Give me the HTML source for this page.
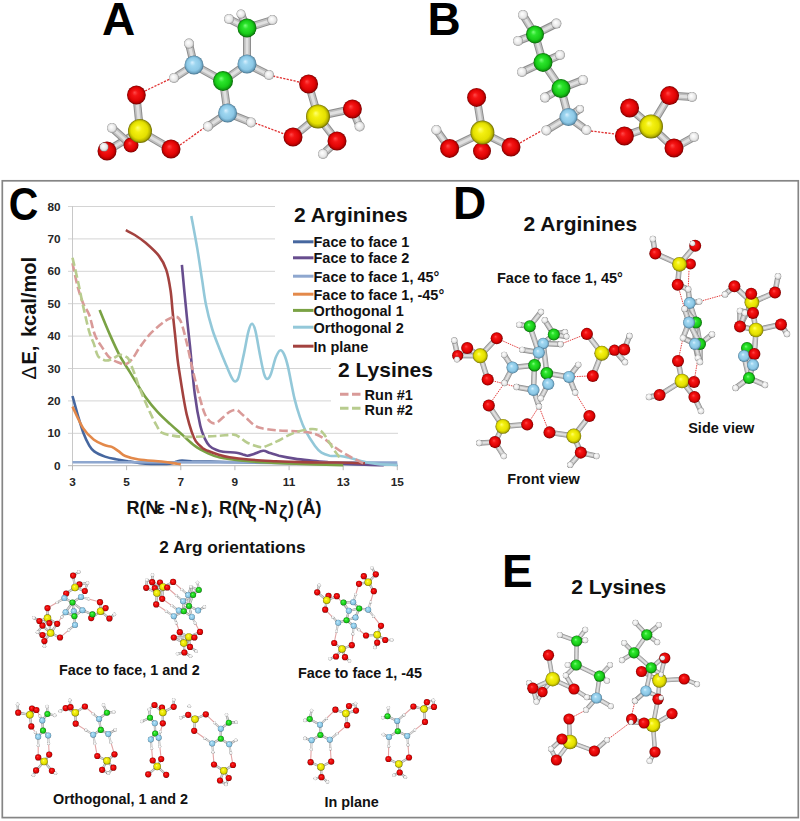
<!DOCTYPE html>
<html><head><meta charset="utf-8"><style>
html,body{margin:0;padding:0;background:#fff;}
body{width:800px;height:821px;overflow:hidden;position:relative;}
svg{position:absolute;left:0;top:0;}
text{font-family:"Liberation Sans",sans-serif;font-weight:bold;fill:#111;}
.big{font-size:46px;fill:#000;}
.h2{font-size:21px;}
.h3{font-size:17.2px;}
.lg{font-size:14.5px;}
.sm{font-size:14.4px;}
.tk{font-size:11.8px;fill:#262626;}
.ax{font-size:18px;}
.ax20{font-size:20px;}
</style></head><body>
<svg width="800" height="821" viewBox="0 0 800 821">
<defs>
<radialGradient id="gO" cx="0.5" cy="0.5" r="0.5" fx="0.4" fy="0.36"><stop offset="0" stop-color="#FF4A4A"/><stop offset="0.3" stop-color="#F41414"/><stop offset="0.7" stop-color="#E00404"/><stop offset="0.87" stop-color="#B80000"/><stop offset="1" stop-color="#6E0000"/></radialGradient>
<radialGradient id="gS" cx="0.5" cy="0.5" r="0.5" fx="0.4" fy="0.36"><stop offset="0" stop-color="#FFFF70"/><stop offset="0.3" stop-color="#F4F010"/><stop offset="0.7" stop-color="#E4E000"/><stop offset="0.87" stop-color="#B8B400"/><stop offset="1" stop-color="#6A6800"/></radialGradient>
<radialGradient id="gN" cx="0.5" cy="0.5" r="0.5" fx="0.4" fy="0.36"><stop offset="0" stop-color="#D8F0FF"/><stop offset="0.3" stop-color="#9ED6F0"/><stop offset="0.7" stop-color="#8CC8E6"/><stop offset="0.87" stop-color="#6EA6C4"/><stop offset="1" stop-color="#44708A"/></radialGradient>
<radialGradient id="gC" cx="0.5" cy="0.5" r="0.5" fx="0.4" fy="0.36"><stop offset="0" stop-color="#7CFF7C"/><stop offset="0.3" stop-color="#2CE42C"/><stop offset="0.7" stop-color="#18CC18"/><stop offset="0.87" stop-color="#10A010"/><stop offset="1" stop-color="#086008"/></radialGradient>
<radialGradient id="gH" cx="0.5" cy="0.5" r="0.5" fx="0.4" fy="0.36"><stop offset="0" stop-color="#FFFFFF"/><stop offset="0.3" stop-color="#F6F6F6"/><stop offset="0.7" stop-color="#E6E6E6"/><stop offset="0.87" stop-color="#C4C4C4"/><stop offset="1" stop-color="#808080"/></radialGradient>
</defs>
<rect x="2.3" y="180.8" width="796" height="636.8" fill="none" stroke="#858585" stroke-width="1.7"/>
<line x1="68.0" y1="433.3" x2="398.0" y2="433.3" stroke="#D4D4D4" stroke-width="1"/>
<line x1="68.0" y1="400.9" x2="331.0" y2="400.9" stroke="#D4D4D4" stroke-width="1"/>
<line x1="68.0" y1="368.5" x2="331.0" y2="368.5" stroke="#D4D4D4" stroke-width="1"/>
<line x1="68.0" y1="336.1" x2="276.0" y2="336.1" stroke="#D4D4D4" stroke-width="1"/>
<line x1="68.0" y1="303.7" x2="276.0" y2="303.7" stroke="#D4D4D4" stroke-width="1"/>
<line x1="68.0" y1="271.3" x2="276.0" y2="271.3" stroke="#D4D4D4" stroke-width="1"/>
<line x1="68.0" y1="238.9" x2="276.0" y2="238.9" stroke="#D4D4D4" stroke-width="1"/>
<line x1="68.0" y1="206.5" x2="276.0" y2="206.5" stroke="#D4D4D4" stroke-width="1"/>
<line x1="72.5" y1="206" x2="72.5" y2="465.7" stroke="#C8C8C8" stroke-width="1"/>
<line x1="68.0" y1="465.7" x2="398" y2="465.7" stroke="#B8B8B8" stroke-width="1"/>
<line x1="72.5" y1="465.7" x2="72.5" y2="470.2" stroke="#B8B8B8" stroke-width="1"/>
<line x1="126.6" y1="465.7" x2="126.6" y2="470.2" stroke="#B8B8B8" stroke-width="1"/>
<line x1="180.8" y1="465.7" x2="180.8" y2="470.2" stroke="#B8B8B8" stroke-width="1"/>
<line x1="234.9" y1="465.7" x2="234.9" y2="470.2" stroke="#B8B8B8" stroke-width="1"/>
<line x1="289.1" y1="465.7" x2="289.1" y2="470.2" stroke="#B8B8B8" stroke-width="1"/>
<line x1="343.2" y1="465.7" x2="343.2" y2="470.2" stroke="#B8B8B8" stroke-width="1"/>
<line x1="397.3" y1="465.7" x2="397.3" y2="470.2" stroke="#B8B8B8" stroke-width="1"/>
<path d="M72.5 396.0C73.4 399.3 76.1 409.4 77.9 415.5C79.7 421.6 81.4 427.6 83.3 432.7C85.2 437.7 87.5 442.5 89.3 445.6C91.1 448.7 91.5 449.6 94.2 451.4C96.8 453.3 101.4 455.3 105.0 456.6C108.6 457.9 112.0 458.5 115.8 459.2C119.6 460.0 123.9 460.5 128.0 461.2C132.1 461.8 136.3 462.6 140.2 463.1C144.0 463.6 146.0 463.8 151.0 463.9C156.0 464.0 165.7 464.2 170.0 463.8C174.2 463.4 174.7 462.0 176.7 461.5C178.7 460.9 179.7 460.6 182.1 460.5C184.6 460.5 185.5 460.9 191.6 461.2C197.7 461.4 209.2 461.6 218.7 461.8C228.2 462.0 236.7 462.2 248.5 462.5C260.2 462.7 275.5 462.9 289.1 463.1C302.6 463.3 316.1 463.5 329.7 463.8C343.2 464.0 359.0 464.2 370.3 464.4C381.5 464.6 392.8 464.7 397.3 464.7" fill="none" stroke="#46679F" stroke-width="2.6" stroke-linejoin="round"/>
<path d="M181.9 264.8C182.6 272.4 184.8 296.6 186.2 310.2C187.5 323.7 188.5 332.1 190.0 346.1C191.4 360.2 193.1 381.5 194.9 394.7C196.6 408.0 198.6 418.4 200.3 425.8C202.0 433.2 203.6 435.8 205.1 439.1C206.7 442.5 207.7 444.2 209.5 445.9C211.3 447.7 213.7 448.9 216.0 449.8C218.2 450.8 219.6 451.3 223.0 451.8C226.4 452.3 233.2 452.3 236.5 452.7C239.9 453.2 241.2 453.9 243.0 454.4C244.8 454.8 245.6 455.7 247.4 455.7C249.2 455.6 251.3 454.8 253.9 454.0C256.5 453.2 260.4 451.0 263.1 450.8C265.8 450.6 267.4 452.3 270.1 453.1C272.8 453.9 275.0 454.7 279.0 455.7C283.1 456.6 289.2 457.8 294.5 458.6C299.8 459.4 304.9 459.9 310.7 460.5C316.6 461.2 324.0 461.9 329.7 462.5C335.3 463.0 338.7 463.4 344.6 463.8C350.4 464.1 358.3 464.5 364.9 464.7C371.4 465.0 380.6 465.1 383.8 465.2" fill="none" stroke="#674D8E" stroke-width="2.6" stroke-linejoin="round"/>
<path d="M72.5 462.3L397.3 462.5" fill="none" stroke="#8EA7CF" stroke-width="2.6" stroke-linejoin="round"/>
<path d="M72.5 406.7C74.3 410.3 79.5 422.6 83.1 428.1C86.6 433.6 90.2 436.9 93.9 439.8C97.5 442.6 102.0 444.1 105.0 445.3C108.0 446.5 109.5 445.9 111.8 446.9C114.0 447.9 116.3 449.6 118.5 451.1C120.8 452.6 121.9 454.6 125.3 456.0C128.7 457.4 132.8 458.6 138.8 459.5C144.9 460.5 155.2 460.8 161.6 461.5C168.0 462.2 174.1 463.3 177.3 463.8C180.5 464.2 180.2 464.3 180.8 464.4" fill="none" stroke="#E3894A" stroke-width="2.6" stroke-linejoin="round"/>
<path d="M99.6 309.9C101.3 314.1 106.7 327.5 110.1 335.1C113.5 342.8 116.6 349.7 119.9 355.9C123.2 362.0 127.4 368.0 129.9 372.1C132.4 376.2 132.5 376.4 135.0 380.5C137.6 384.5 141.3 391.1 145.0 396.4C148.8 401.6 153.3 407.3 157.5 411.9C161.7 416.5 165.8 420.1 170.0 423.9C174.1 427.7 178.3 431.2 182.4 434.9C186.6 438.6 190.7 442.9 194.9 445.9C199.1 449.0 203.4 451.1 207.6 453.1C211.8 455.0 214.6 456.4 220.0 457.6C225.5 458.8 233.3 459.8 240.3 460.5C247.3 461.3 253.9 461.6 262.0 462.1C270.1 462.6 280.0 463.1 289.1 463.4C298.1 463.8 307.1 464.1 316.1 464.4C325.2 464.7 338.7 464.9 343.2 465.1" fill="none" stroke="#7AA244" stroke-width="2.6" stroke-linejoin="round"/>
<path d="M191.3 215.9C192.3 221.3 195.5 237.9 197.3 248.6C199.1 259.4 200.7 271.0 202.2 280.4C203.6 289.7 204.3 296.6 206.0 304.7C207.6 312.8 209.9 321.6 212.2 329.0C214.4 336.3 217.1 342.5 219.5 348.7C221.9 355.0 224.8 361.8 226.8 366.6C228.8 371.4 230.3 375.1 231.7 377.6C233.1 380.1 234.0 381.6 235.2 381.5C236.4 381.4 237.3 381.5 238.7 376.9C240.2 372.3 242.2 361.5 243.9 353.9C245.5 346.3 247.1 336.3 248.5 331.2C249.8 326.2 250.8 323.8 252.0 323.8C253.1 323.8 254.1 325.9 255.5 331.2C256.8 336.5 258.7 348.4 260.1 355.5C261.5 362.7 262.9 370.4 264.2 374.3C265.4 378.2 266.3 378.9 267.4 378.9C268.5 378.8 269.6 377.5 270.9 374.0C272.3 370.6 274.0 362.1 275.5 358.1C277.1 354.2 278.7 350.9 280.1 350.4C281.6 349.8 282.9 351.8 284.2 354.6C285.5 357.3 286.3 359.5 288.0 366.9C289.7 374.2 292.5 390.3 294.5 398.6C296.5 407.0 298.1 411.8 299.9 417.1C301.7 422.4 302.8 425.6 305.3 430.4C307.8 435.2 312.3 442.2 315.0 445.9C317.8 449.7 319.1 451.1 321.5 452.7C324.0 454.4 326.6 455.1 329.7 455.7C332.7 456.2 336.8 455.7 340.0 456.0C343.1 456.3 346.0 457.0 348.6 457.6C351.2 458.2 352.5 458.7 355.7 459.5C358.8 460.4 363.8 461.7 367.6 462.5C371.4 463.2 373.4 463.6 378.4 464.1C383.4 464.5 394.2 464.9 397.3 465.1" fill="none" stroke="#93C8D9" stroke-width="2.6" stroke-linejoin="round"/>
<path d="M125.8 230.2C127.3 231.0 131.5 232.9 134.8 235.0C138.1 237.1 141.5 239.3 145.6 242.8C149.6 246.3 155.7 251.6 159.1 256.1C162.6 260.6 164.3 264.0 166.2 269.7C168.1 275.3 169.4 283.0 170.5 290.1C171.6 297.2 171.9 304.9 172.7 312.4C173.4 320.0 174.3 327.4 175.1 335.1C175.9 342.8 176.7 352.0 177.5 358.8C178.3 365.6 179.0 369.5 180.0 376.0C181.0 382.4 182.4 391.2 183.5 397.7C184.6 404.1 185.4 408.8 186.7 414.5C188.1 420.2 190.1 427.2 191.6 431.7C193.1 436.2 194.1 438.7 195.9 441.4C197.7 444.1 200.6 446.4 202.4 447.9C204.3 449.4 204.3 449.3 207.0 450.5C209.7 451.6 214.9 453.5 218.7 454.7C222.4 455.8 224.5 456.5 229.5 457.3C234.5 458.1 240.8 458.9 248.5 459.5C256.1 460.2 266.5 460.7 275.5 461.2C284.5 461.6 293.6 461.9 302.6 462.1C311.6 462.4 321.5 462.4 329.7 462.5C337.8 462.6 345.5 462.6 351.3 462.8C357.2 462.9 362.6 463.3 364.9 463.4" fill="none" stroke="#A3423F" stroke-width="2.6" stroke-linejoin="round"/>
<path d="M72.5 263.2C73.4 267.2 76.1 280.8 77.9 287.5C79.7 294.2 81.4 299.1 83.3 303.7C85.2 308.3 87.3 309.8 89.3 315.0C91.2 320.3 92.8 329.8 95.0 335.1C97.1 340.5 99.5 343.3 102.0 347.1C104.5 350.9 107.1 355.5 110.1 358.1C113.1 360.8 117.4 361.9 119.9 363.0C122.4 364.1 123.0 365.3 125.0 364.6C127.0 364.0 129.6 362.0 132.1 359.1C134.5 356.2 136.9 351.3 139.9 347.1C142.9 343.0 146.6 337.8 149.9 334.2C153.3 330.5 157.1 327.5 159.9 325.1C162.8 322.7 164.4 321.3 167.0 319.9C169.5 318.5 173.1 316.4 175.4 316.7C177.7 316.9 178.9 317.2 180.8 321.5C182.7 325.8 184.9 335.3 186.7 342.6C188.5 349.9 190.1 358.5 191.6 365.3C193.1 372.0 194.4 376.9 195.9 383.1C197.5 389.3 199.5 397.3 201.1 402.5C202.6 407.8 203.6 411.3 205.1 414.5C206.7 417.7 208.7 420.6 210.6 422.0C212.4 423.4 214.0 423.9 216.2 422.9C218.5 422.0 221.9 418.3 224.1 416.5C226.3 414.6 227.5 413.0 229.5 411.9C231.5 410.8 234.2 409.6 236.3 410.0C238.3 410.3 239.8 412.3 241.7 413.9C243.5 415.4 245.3 417.2 247.4 419.0C249.4 420.9 251.6 423.4 253.9 424.9C256.1 426.4 257.1 427.2 260.9 428.1C264.7 429.0 270.5 429.8 276.9 430.4C283.3 430.9 293.0 430.8 299.3 431.4C305.7 431.9 310.9 432.7 315.0 433.9C319.2 435.2 321.2 436.8 324.3 438.8C327.3 440.8 330.0 443.6 333.2 445.9C336.3 448.3 340.2 450.9 343.2 452.7C346.2 454.6 348.5 455.8 351.3 457.3C354.2 458.8 358.2 460.8 360.3 461.8C362.3 462.8 363.0 462.9 363.5 463.1" fill="none" stroke="#D99A98" stroke-width="2.6" stroke-linejoin="round" stroke-dasharray="8.5 3.5"/>
<path d="M72.5 257.7C73.4 261.6 76.1 272.8 77.9 281.0C79.7 289.2 81.4 298.5 83.3 306.9C85.2 315.4 87.5 325.7 89.3 331.9C91.0 338.0 92.4 339.9 93.9 343.9C95.3 347.9 96.1 353.1 97.9 355.9C99.8 358.6 102.6 359.9 105.0 360.4C107.3 360.9 109.5 360.0 112.0 359.1C114.5 358.2 117.4 355.2 119.9 354.9C122.4 354.6 125.2 356.0 126.9 357.2C128.6 358.3 128.9 359.9 129.9 362.0C130.9 364.2 132.1 367.4 133.1 370.1C134.2 372.8 135.1 375.3 136.1 378.2C137.2 381.1 137.8 383.6 139.4 387.6C140.9 391.7 143.6 398.0 145.6 402.5C147.5 407.0 149.2 410.7 151.0 414.5C152.8 418.3 154.6 422.2 156.4 425.2C158.2 428.2 159.1 430.9 161.8 432.7C164.5 434.4 168.9 434.9 172.7 435.6C176.4 436.3 179.6 436.7 184.6 436.9C189.5 437.0 196.8 436.7 202.4 436.5C208.1 436.4 213.2 436.2 218.4 435.9C223.6 435.6 230.2 434.3 233.8 434.6C237.5 434.9 238.1 436.5 240.3 437.8C242.6 439.2 243.9 441.1 247.4 442.7C250.8 444.3 257.6 446.7 260.9 447.2C264.2 447.7 264.7 446.6 267.4 445.6C270.1 444.6 272.4 443.6 276.9 441.4C281.4 439.2 288.8 434.7 294.5 432.7C300.1 430.6 306.5 429.5 310.7 429.1C314.9 428.7 317.4 429.5 319.6 430.4C321.9 431.3 322.8 432.8 324.3 434.6C325.7 436.4 327.0 438.9 328.6 441.4C330.2 443.9 332.2 447.2 333.7 449.5C335.3 451.8 336.7 453.4 337.8 455.0C338.9 456.6 340.0 458.5 340.5 459.2" fill="none" stroke="#B8CC8E" stroke-width="2.6" stroke-linejoin="round" stroke-dasharray="8.5 3.5"/>
<text x="60.5" y="469.7" text-anchor="end" class="tk">0</text>
<text x="60.5" y="437.3" text-anchor="end" class="tk">10</text>
<text x="60.5" y="404.9" text-anchor="end" class="tk">20</text>
<text x="60.5" y="372.5" text-anchor="end" class="tk">30</text>
<text x="60.5" y="340.1" text-anchor="end" class="tk">40</text>
<text x="60.5" y="307.7" text-anchor="end" class="tk">50</text>
<text x="60.5" y="275.3" text-anchor="end" class="tk">60</text>
<text x="60.5" y="242.9" text-anchor="end" class="tk">70</text>
<text x="60.5" y="210.5" text-anchor="end" class="tk">80</text>
<text x="72.5" y="486" text-anchor="middle" class="tk">3</text>
<text x="126.6" y="486" text-anchor="middle" class="tk">5</text>
<text x="180.8" y="486" text-anchor="middle" class="tk">7</text>
<text x="234.9" y="486" text-anchor="middle" class="tk">9</text>
<text x="289.1" y="486" text-anchor="middle" class="tk">11</text>
<text x="343.2" y="486" text-anchor="middle" class="tk">13</text>
<text x="397.3" y="486" text-anchor="middle" class="tk">15</text>
<rect x="275" y="195" width="140" height="146" fill="#fff"/>
<rect x="331" y="355" width="90" height="60" fill="#fff"/>
<text x="294" y="222" class="h2">2 Arginines</text>
<line x1="293" y1="241.8" x2="313.5" y2="241.8" stroke="#46679F" stroke-width="3"/>
<text x="313.5" y="247.1" class="lg">Face to face 1</text>
<line x1="293" y1="257.8" x2="313.5" y2="257.8" stroke="#674D8E" stroke-width="3"/>
<text x="313.5" y="263.1" class="lg">Face to face 2</text>
<line x1="293" y1="276.2" x2="313.5" y2="276.2" stroke="#8EA7CF" stroke-width="3"/>
<text x="313.5" y="281.5" class="lg">Face to face 1, 45°</text>
<line x1="293" y1="294.2" x2="313.5" y2="294.2" stroke="#E3894A" stroke-width="3"/>
<text x="313.5" y="299.5" class="lg">Face to face 1, -45°</text>
<line x1="293" y1="310.4" x2="313.5" y2="310.4" stroke="#7AA244" stroke-width="3"/>
<text x="313.5" y="315.7" class="lg">Orthogonal 1</text>
<line x1="293" y1="327.2" x2="313.5" y2="327.2" stroke="#93C8D9" stroke-width="3"/>
<text x="313.5" y="332.5" class="lg">Orthogonal 2</text>
<line x1="293" y1="346.2" x2="313.5" y2="346.2" stroke="#A3423F" stroke-width="3"/>
<text x="313.5" y="351.5" class="lg">In plane</text>
<text x="338" y="376.7" class="h2">2 Lysines</text>
<line x1="340" y1="394.3" x2="361" y2="394.3" stroke="#D99A98" stroke-width="3" stroke-dasharray="8.5 3.5"/>
<text x="364.6" y="399.5" class="lg">Run #1</text>
<line x1="340" y1="408.2" x2="361" y2="408.2" stroke="#B8CC8E" stroke-width="3" stroke-dasharray="8.5 3.5"/>
<text x="364.6" y="414.8" class="lg">Run #2</text>
<text x="102" y="34.5" class="big">A</text>
<text x="427.5" y="34.5" class="big">B</text>
<text transform="translate(10.5,219.5) scale(0.89,1)" x="-2" y="0" class="big">C</text>
<text x="453" y="218.7" class="big">D</text>
<text x="502" y="587" class="big">E</text>
<text transform="translate(36.4,379) rotate(-90)" class="ax20"><tspan x="-0.5" font-weight="normal">Δ</tspan><tspan x="14.5">E,</tspan><tspan x="42">kcal/mol</tspan></text>
<text x="126.6" y="513.6" class="ax">R(N</text>
<text x="156.3" y="513.6" class="ax" font-family="Liberation Serif" font-weight="normal" font-size="17">ε</text>
<text x="169.5" y="513.6" class="ax">-N</text>
<text x="190.8" y="513.6" class="ax" font-family="Liberation Serif" font-weight="normal" font-size="17">ε</text>
<text x="201.5" y="513.6" class="ax">),</text>
<text x="219" y="513.6" class="ax">R(N</text>
<text x="248" y="517.5" class="ax" font-family="Liberation Serif" font-weight="normal" font-size="18">ζ</text>
<text x="258.5" y="513.6" class="ax">-N</text>
<text x="279" y="517.5" class="ax" font-family="Liberation Serif" font-weight="normal" font-size="18">ζ</text>
<text x="288" y="513.6" class="ax">)</text>
<text x="296.5" y="513.6" class="ax">(Å)</text>
<text x="523.6" y="230.5" class="h2">2 Arginines</text>
<text x="497" y="283" class="lg">Face to face 1, 45°</text>
<text x="507.3" y="484.2" class="lg">Front view</text>
<text x="688.2" y="432.8" class="lg">Side view</text>
<text x="159.2" y="552.6" class="h3">2 Arg orientations</text>
<text x="59" y="675" class="sm">Face to face, 1 and 2</text>
<text x="298" y="678.4" class="sm">Face to face 1, -45</text>
<text x="53" y="804.4" class="sm">Orthogonal, 1 and 2</text>
<text x="324.4" y="807.2" class="sm">In plane</text>
<text x="571.2" y="593.8" class="h2">2 Lysines</text>
<line x1="145.0" y1="91.0" x2="170.0" y2="79.0" stroke="#E03030" stroke-width="1.30" stroke-dasharray="2.2 1.3"/>
<line x1="180.0" y1="145.0" x2="204.0" y2="128.0" stroke="#E03030" stroke-width="1.30" stroke-dasharray="2.2 1.3"/>
<line x1="273.0" y1="76.0" x2="299.0" y2="82.0" stroke="#E03030" stroke-width="1.30" stroke-dasharray="2.2 1.3"/>
<line x1="255.0" y1="123.0" x2="284.0" y2="134.0" stroke="#E03030" stroke-width="1.30" stroke-dasharray="2.2 1.3"/>
<line x1="131.0" y1="145.0" x2="140.0" y2="131.0" stroke="#8C8C8C" stroke-width="8.00"/>
<line x1="131.0" y1="145.0" x2="140.0" y2="131.0" stroke="#BEBEBE" stroke-width="6.08"/>
<line x1="131.0" y1="145.0" x2="140.0" y2="131.0" stroke="#E0E0E0" stroke-width="2.88"/>
<line x1="140.0" y1="131.0" x2="136.4" y2="95.0" stroke="#8C8C8C" stroke-width="8.00"/>
<line x1="140.0" y1="131.0" x2="136.4" y2="95.0" stroke="#BEBEBE" stroke-width="6.08"/>
<line x1="140.0" y1="131.0" x2="136.4" y2="95.0" stroke="#E0E0E0" stroke-width="2.88"/>
<line x1="140.0" y1="131.0" x2="171.0" y2="149.0" stroke="#8C8C8C" stroke-width="8.00"/>
<line x1="140.0" y1="131.0" x2="171.0" y2="149.0" stroke="#BEBEBE" stroke-width="6.08"/>
<line x1="140.0" y1="131.0" x2="171.0" y2="149.0" stroke="#E0E0E0" stroke-width="2.88"/>
<line x1="140.0" y1="131.0" x2="107.0" y2="151.0" stroke="#8C8C8C" stroke-width="8.00"/>
<line x1="140.0" y1="131.0" x2="107.0" y2="151.0" stroke="#BEBEBE" stroke-width="6.08"/>
<line x1="140.0" y1="131.0" x2="107.0" y2="151.0" stroke="#E0E0E0" stroke-width="2.88"/>
<line x1="107.0" y1="151.0" x2="104.0" y2="147.0" stroke="#8C8C8C" stroke-width="8.00"/>
<line x1="107.0" y1="151.0" x2="104.0" y2="147.0" stroke="#BEBEBE" stroke-width="6.08"/>
<line x1="107.0" y1="151.0" x2="104.0" y2="147.0" stroke="#E0E0E0" stroke-width="2.88"/>
<line x1="241.0" y1="14.0" x2="247.0" y2="28.0" stroke="#8C8C8C" stroke-width="8.00"/>
<line x1="241.0" y1="14.0" x2="247.0" y2="28.0" stroke="#BEBEBE" stroke-width="6.08"/>
<line x1="241.0" y1="14.0" x2="247.0" y2="28.0" stroke="#E0E0E0" stroke-width="2.88"/>
<line x1="229.0" y1="19.0" x2="247.0" y2="28.0" stroke="#8C8C8C" stroke-width="8.00"/>
<line x1="229.0" y1="19.0" x2="247.0" y2="28.0" stroke="#BEBEBE" stroke-width="6.08"/>
<line x1="229.0" y1="19.0" x2="247.0" y2="28.0" stroke="#E0E0E0" stroke-width="2.88"/>
<line x1="272.4" y1="20.0" x2="247.0" y2="28.0" stroke="#8C8C8C" stroke-width="8.00"/>
<line x1="272.4" y1="20.0" x2="247.0" y2="28.0" stroke="#BEBEBE" stroke-width="6.08"/>
<line x1="272.4" y1="20.0" x2="247.0" y2="28.0" stroke="#E0E0E0" stroke-width="2.88"/>
<line x1="247.0" y1="28.0" x2="247.0" y2="64.0" stroke="#8C8C8C" stroke-width="8.00"/>
<line x1="247.0" y1="28.0" x2="247.0" y2="64.0" stroke="#BEBEBE" stroke-width="6.08"/>
<line x1="247.0" y1="28.0" x2="247.0" y2="64.0" stroke="#E0E0E0" stroke-width="2.88"/>
<line x1="247.0" y1="64.0" x2="269.0" y2="75.0" stroke="#8C8C8C" stroke-width="8.00"/>
<line x1="247.0" y1="64.0" x2="269.0" y2="75.0" stroke="#BEBEBE" stroke-width="6.08"/>
<line x1="247.0" y1="64.0" x2="269.0" y2="75.0" stroke="#E0E0E0" stroke-width="2.88"/>
<line x1="247.0" y1="64.0" x2="223.0" y2="81.0" stroke="#8C8C8C" stroke-width="8.00"/>
<line x1="247.0" y1="64.0" x2="223.0" y2="81.0" stroke="#BEBEBE" stroke-width="6.08"/>
<line x1="247.0" y1="64.0" x2="223.0" y2="81.0" stroke="#E0E0E0" stroke-width="2.88"/>
<line x1="189.0" y1="43.6" x2="194.0" y2="65.0" stroke="#8C8C8C" stroke-width="8.00"/>
<line x1="189.0" y1="43.6" x2="194.0" y2="65.0" stroke="#BEBEBE" stroke-width="6.08"/>
<line x1="189.0" y1="43.6" x2="194.0" y2="65.0" stroke="#E0E0E0" stroke-width="2.88"/>
<line x1="194.0" y1="65.0" x2="174.0" y2="78.0" stroke="#8C8C8C" stroke-width="8.00"/>
<line x1="194.0" y1="65.0" x2="174.0" y2="78.0" stroke="#BEBEBE" stroke-width="6.08"/>
<line x1="194.0" y1="65.0" x2="174.0" y2="78.0" stroke="#E0E0E0" stroke-width="2.88"/>
<line x1="194.0" y1="65.0" x2="223.0" y2="81.0" stroke="#8C8C8C" stroke-width="8.00"/>
<line x1="194.0" y1="65.0" x2="223.0" y2="81.0" stroke="#BEBEBE" stroke-width="6.08"/>
<line x1="194.0" y1="65.0" x2="223.0" y2="81.0" stroke="#E0E0E0" stroke-width="2.88"/>
<line x1="223.0" y1="81.0" x2="227.6" y2="113.0" stroke="#8C8C8C" stroke-width="8.00"/>
<line x1="223.0" y1="81.0" x2="227.6" y2="113.0" stroke="#BEBEBE" stroke-width="6.08"/>
<line x1="223.0" y1="81.0" x2="227.6" y2="113.0" stroke="#E0E0E0" stroke-width="2.88"/>
<line x1="227.6" y1="113.0" x2="208.0" y2="126.4" stroke="#8C8C8C" stroke-width="8.00"/>
<line x1="227.6" y1="113.0" x2="208.0" y2="126.4" stroke="#BEBEBE" stroke-width="6.08"/>
<line x1="227.6" y1="113.0" x2="208.0" y2="126.4" stroke="#E0E0E0" stroke-width="2.88"/>
<line x1="227.6" y1="113.0" x2="251.0" y2="122.4" stroke="#8C8C8C" stroke-width="8.00"/>
<line x1="227.6" y1="113.0" x2="251.0" y2="122.4" stroke="#BEBEBE" stroke-width="6.08"/>
<line x1="227.6" y1="113.0" x2="251.0" y2="122.4" stroke="#E0E0E0" stroke-width="2.88"/>
<line x1="308.6" y1="84.0" x2="318.0" y2="116.4" stroke="#8C8C8C" stroke-width="8.00"/>
<line x1="308.6" y1="84.0" x2="318.0" y2="116.4" stroke="#BEBEBE" stroke-width="6.08"/>
<line x1="308.6" y1="84.0" x2="318.0" y2="116.4" stroke="#E0E0E0" stroke-width="2.88"/>
<line x1="318.0" y1="116.4" x2="352.4" y2="109.0" stroke="#8C8C8C" stroke-width="8.00"/>
<line x1="318.0" y1="116.4" x2="352.4" y2="109.0" stroke="#BEBEBE" stroke-width="6.08"/>
<line x1="318.0" y1="116.4" x2="352.4" y2="109.0" stroke="#E0E0E0" stroke-width="2.88"/>
<line x1="318.0" y1="116.4" x2="293.0" y2="137.0" stroke="#8C8C8C" stroke-width="8.00"/>
<line x1="318.0" y1="116.4" x2="293.0" y2="137.0" stroke="#BEBEBE" stroke-width="6.08"/>
<line x1="318.0" y1="116.4" x2="293.0" y2="137.0" stroke="#E0E0E0" stroke-width="2.88"/>
<line x1="318.0" y1="116.4" x2="337.0" y2="141.0" stroke="#8C8C8C" stroke-width="8.00"/>
<line x1="318.0" y1="116.4" x2="337.0" y2="141.0" stroke="#BEBEBE" stroke-width="6.08"/>
<line x1="318.0" y1="116.4" x2="337.0" y2="141.0" stroke="#E0E0E0" stroke-width="2.88"/>
<line x1="352.4" y1="109.0" x2="359.6" y2="126.4" stroke="#8C8C8C" stroke-width="8.00"/>
<line x1="352.4" y1="109.0" x2="359.6" y2="126.4" stroke="#BEBEBE" stroke-width="6.08"/>
<line x1="352.4" y1="109.0" x2="359.6" y2="126.4" stroke="#E0E0E0" stroke-width="2.88"/>
<line x1="337.0" y1="141.0" x2="323.0" y2="154.0" stroke="#8C8C8C" stroke-width="8.00"/>
<line x1="337.0" y1="141.0" x2="323.0" y2="154.0" stroke="#BEBEBE" stroke-width="6.08"/>
<line x1="337.0" y1="141.0" x2="323.0" y2="154.0" stroke="#E0E0E0" stroke-width="2.88"/>
<line x1="131.0" y1="145.0" x2="112.0" y2="128.0" stroke="#8C8C8C" stroke-width="8.00"/>
<line x1="131.0" y1="145.0" x2="112.0" y2="128.0" stroke="#BEBEBE" stroke-width="6.08"/>
<line x1="131.0" y1="145.0" x2="112.0" y2="128.0" stroke="#E0E0E0" stroke-width="2.88"/>
<circle cx="131.0" cy="145.0" r="7.50" fill="url(#gO)"/>
<circle cx="112.0" cy="128.0" r="5.00" fill="url(#gH)"/>
<circle cx="140.0" cy="131.0" r="12.00" fill="url(#gS)"/>
<circle cx="136.4" cy="95.0" r="9.40" fill="url(#gO)"/>
<circle cx="171.0" cy="149.0" r="9.50" fill="url(#gO)"/>
<circle cx="107.0" cy="151.0" r="9.50" fill="url(#gO)"/>
<circle cx="104.0" cy="147.0" r="4.50" fill="url(#gH)"/>
<circle cx="241.0" cy="14.0" r="4.50" fill="url(#gH)"/>
<circle cx="229.0" cy="19.0" r="5.00" fill="url(#gH)"/>
<circle cx="272.4" cy="20.0" r="5.00" fill="url(#gH)"/>
<circle cx="247.0" cy="28.0" r="9.50" fill="url(#gC)"/>
<circle cx="247.0" cy="64.0" r="9.50" fill="url(#gN)"/>
<circle cx="269.0" cy="75.0" r="5.00" fill="url(#gH)"/>
<circle cx="189.0" cy="43.6" r="5.00" fill="url(#gH)"/>
<circle cx="194.0" cy="65.0" r="9.50" fill="url(#gN)"/>
<circle cx="174.0" cy="78.0" r="5.00" fill="url(#gH)"/>
<circle cx="223.0" cy="81.0" r="10.00" fill="url(#gC)"/>
<circle cx="227.6" cy="113.0" r="9.50" fill="url(#gN)"/>
<circle cx="208.0" cy="126.4" r="5.00" fill="url(#gH)"/>
<circle cx="251.0" cy="122.4" r="5.00" fill="url(#gH)"/>
<circle cx="308.6" cy="84.0" r="9.50" fill="url(#gO)"/>
<circle cx="318.0" cy="116.4" r="12.00" fill="url(#gS)"/>
<circle cx="352.4" cy="109.0" r="9.50" fill="url(#gO)"/>
<circle cx="359.6" cy="126.4" r="5.00" fill="url(#gH)"/>
<circle cx="293.0" cy="137.0" r="9.50" fill="url(#gO)"/>
<circle cx="337.0" cy="141.0" r="9.50" fill="url(#gO)"/>
<circle cx="323.0" cy="154.0" r="5.00" fill="url(#gH)"/>
<line x1="520.0" y1="143.0" x2="541.0" y2="131.0" stroke="#E03030" stroke-width="1.30" stroke-dasharray="2.2 1.3"/>
<line x1="591.0" y1="131.0" x2="615.0" y2="134.0" stroke="#E03030" stroke-width="1.30" stroke-dasharray="2.2 1.3"/>
<line x1="436.4" y1="130.0" x2="449.6" y2="148.4" stroke="#8C8C8C" stroke-width="8.00"/>
<line x1="436.4" y1="130.0" x2="449.6" y2="148.4" stroke="#BEBEBE" stroke-width="6.08"/>
<line x1="436.4" y1="130.0" x2="449.6" y2="148.4" stroke="#E0E0E0" stroke-width="2.88"/>
<line x1="476.6" y1="97.4" x2="482.4" y2="132.6" stroke="#8C8C8C" stroke-width="8.00"/>
<line x1="476.6" y1="97.4" x2="482.4" y2="132.6" stroke="#BEBEBE" stroke-width="6.08"/>
<line x1="476.6" y1="97.4" x2="482.4" y2="132.6" stroke="#E0E0E0" stroke-width="2.88"/>
<line x1="482.0" y1="151.0" x2="482.4" y2="132.6" stroke="#8C8C8C" stroke-width="8.00"/>
<line x1="482.0" y1="151.0" x2="482.4" y2="132.6" stroke="#BEBEBE" stroke-width="6.08"/>
<line x1="482.0" y1="151.0" x2="482.4" y2="132.6" stroke="#E0E0E0" stroke-width="2.88"/>
<line x1="482.4" y1="132.6" x2="449.6" y2="148.4" stroke="#8C8C8C" stroke-width="8.00"/>
<line x1="482.4" y1="132.6" x2="449.6" y2="148.4" stroke="#BEBEBE" stroke-width="6.08"/>
<line x1="482.4" y1="132.6" x2="449.6" y2="148.4" stroke="#E0E0E0" stroke-width="2.88"/>
<line x1="482.4" y1="132.6" x2="511.0" y2="147.0" stroke="#8C8C8C" stroke-width="8.00"/>
<line x1="482.4" y1="132.6" x2="511.0" y2="147.0" stroke="#BEBEBE" stroke-width="6.08"/>
<line x1="482.4" y1="132.6" x2="511.0" y2="147.0" stroke="#E0E0E0" stroke-width="2.88"/>
<line x1="523.0" y1="15.0" x2="535.0" y2="34.4" stroke="#8C8C8C" stroke-width="8.00"/>
<line x1="523.0" y1="15.0" x2="535.0" y2="34.4" stroke="#BEBEBE" stroke-width="6.08"/>
<line x1="523.0" y1="15.0" x2="535.0" y2="34.4" stroke="#E0E0E0" stroke-width="2.88"/>
<line x1="556.4" y1="23.6" x2="535.0" y2="34.4" stroke="#8C8C8C" stroke-width="8.00"/>
<line x1="556.4" y1="23.6" x2="535.0" y2="34.4" stroke="#BEBEBE" stroke-width="6.08"/>
<line x1="556.4" y1="23.6" x2="535.0" y2="34.4" stroke="#E0E0E0" stroke-width="2.88"/>
<line x1="518.0" y1="41.0" x2="535.0" y2="34.4" stroke="#8C8C8C" stroke-width="8.00"/>
<line x1="518.0" y1="41.0" x2="535.0" y2="34.4" stroke="#BEBEBE" stroke-width="6.08"/>
<line x1="518.0" y1="41.0" x2="535.0" y2="34.4" stroke="#E0E0E0" stroke-width="2.88"/>
<line x1="535.0" y1="34.4" x2="543.0" y2="62.4" stroke="#8C8C8C" stroke-width="8.00"/>
<line x1="535.0" y1="34.4" x2="543.0" y2="62.4" stroke="#BEBEBE" stroke-width="6.08"/>
<line x1="535.0" y1="34.4" x2="543.0" y2="62.4" stroke="#E0E0E0" stroke-width="2.88"/>
<line x1="560.0" y1="55.0" x2="543.0" y2="62.4" stroke="#8C8C8C" stroke-width="8.00"/>
<line x1="560.0" y1="55.0" x2="543.0" y2="62.4" stroke="#BEBEBE" stroke-width="6.08"/>
<line x1="560.0" y1="55.0" x2="543.0" y2="62.4" stroke="#E0E0E0" stroke-width="2.88"/>
<line x1="543.0" y1="62.4" x2="522.0" y2="72.0" stroke="#8C8C8C" stroke-width="8.00"/>
<line x1="543.0" y1="62.4" x2="522.0" y2="72.0" stroke="#BEBEBE" stroke-width="6.08"/>
<line x1="543.0" y1="62.4" x2="522.0" y2="72.0" stroke="#E0E0E0" stroke-width="2.88"/>
<line x1="543.0" y1="62.4" x2="561.0" y2="88.5" stroke="#8C8C8C" stroke-width="8.00"/>
<line x1="543.0" y1="62.4" x2="561.0" y2="88.5" stroke="#BEBEBE" stroke-width="6.08"/>
<line x1="543.0" y1="62.4" x2="561.0" y2="88.5" stroke="#E0E0E0" stroke-width="2.88"/>
<line x1="583.0" y1="80.0" x2="561.0" y2="88.5" stroke="#8C8C8C" stroke-width="8.00"/>
<line x1="583.0" y1="80.0" x2="561.0" y2="88.5" stroke="#BEBEBE" stroke-width="6.08"/>
<line x1="583.0" y1="80.0" x2="561.0" y2="88.5" stroke="#E0E0E0" stroke-width="2.88"/>
<line x1="561.0" y1="88.5" x2="545.0" y2="97.6" stroke="#8C8C8C" stroke-width="8.00"/>
<line x1="561.0" y1="88.5" x2="545.0" y2="97.6" stroke="#BEBEBE" stroke-width="6.08"/>
<line x1="561.0" y1="88.5" x2="545.0" y2="97.6" stroke="#E0E0E0" stroke-width="2.88"/>
<line x1="561.0" y1="88.5" x2="568.5" y2="117.0" stroke="#8C8C8C" stroke-width="8.00"/>
<line x1="561.0" y1="88.5" x2="568.5" y2="117.0" stroke="#BEBEBE" stroke-width="6.08"/>
<line x1="561.0" y1="88.5" x2="568.5" y2="117.0" stroke="#E0E0E0" stroke-width="2.88"/>
<line x1="580.0" y1="109.0" x2="568.5" y2="117.0" stroke="#8C8C8C" stroke-width="8.00"/>
<line x1="580.0" y1="109.0" x2="568.5" y2="117.0" stroke="#BEBEBE" stroke-width="6.08"/>
<line x1="580.0" y1="109.0" x2="568.5" y2="117.0" stroke="#E0E0E0" stroke-width="2.88"/>
<line x1="568.5" y1="117.0" x2="546.4" y2="130.4" stroke="#8C8C8C" stroke-width="8.00"/>
<line x1="568.5" y1="117.0" x2="546.4" y2="130.4" stroke="#BEBEBE" stroke-width="6.08"/>
<line x1="568.5" y1="117.0" x2="546.4" y2="130.4" stroke="#E0E0E0" stroke-width="2.88"/>
<line x1="568.5" y1="117.0" x2="586.4" y2="130.0" stroke="#8C8C8C" stroke-width="8.00"/>
<line x1="568.5" y1="117.0" x2="586.4" y2="130.0" stroke="#BEBEBE" stroke-width="6.08"/>
<line x1="568.5" y1="117.0" x2="586.4" y2="130.0" stroke="#E0E0E0" stroke-width="2.88"/>
<line x1="629.6" y1="108.0" x2="651.0" y2="126.4" stroke="#8C8C8C" stroke-width="8.00"/>
<line x1="629.6" y1="108.0" x2="651.0" y2="126.4" stroke="#BEBEBE" stroke-width="6.08"/>
<line x1="629.6" y1="108.0" x2="651.0" y2="126.4" stroke="#E0E0E0" stroke-width="2.88"/>
<line x1="692.0" y1="97.0" x2="669.6" y2="95.6" stroke="#8C8C8C" stroke-width="8.00"/>
<line x1="692.0" y1="97.0" x2="669.6" y2="95.6" stroke="#BEBEBE" stroke-width="6.08"/>
<line x1="692.0" y1="97.0" x2="669.6" y2="95.6" stroke="#E0E0E0" stroke-width="2.88"/>
<line x1="669.6" y1="95.6" x2="651.0" y2="126.4" stroke="#8C8C8C" stroke-width="8.00"/>
<line x1="669.6" y1="95.6" x2="651.0" y2="126.4" stroke="#BEBEBE" stroke-width="6.08"/>
<line x1="669.6" y1="95.6" x2="651.0" y2="126.4" stroke="#E0E0E0" stroke-width="2.88"/>
<line x1="651.0" y1="126.4" x2="624.4" y2="136.0" stroke="#8C8C8C" stroke-width="8.00"/>
<line x1="651.0" y1="126.4" x2="624.4" y2="136.0" stroke="#BEBEBE" stroke-width="6.08"/>
<line x1="651.0" y1="126.4" x2="624.4" y2="136.0" stroke="#E0E0E0" stroke-width="2.88"/>
<line x1="651.0" y1="126.4" x2="674.0" y2="148.0" stroke="#8C8C8C" stroke-width="8.00"/>
<line x1="651.0" y1="126.4" x2="674.0" y2="148.0" stroke="#BEBEBE" stroke-width="6.08"/>
<line x1="651.0" y1="126.4" x2="674.0" y2="148.0" stroke="#E0E0E0" stroke-width="2.88"/>
<line x1="694.0" y1="137.0" x2="674.0" y2="148.0" stroke="#8C8C8C" stroke-width="8.00"/>
<line x1="694.0" y1="137.0" x2="674.0" y2="148.0" stroke="#BEBEBE" stroke-width="6.08"/>
<line x1="694.0" y1="137.0" x2="674.0" y2="148.0" stroke="#E0E0E0" stroke-width="2.88"/>
<circle cx="436.4" cy="130.0" r="5.00" fill="url(#gH)"/>
<circle cx="476.6" cy="97.4" r="9.50" fill="url(#gO)"/>
<circle cx="482.0" cy="151.0" r="9.00" fill="url(#gO)"/>
<circle cx="482.4" cy="132.6" r="12.00" fill="url(#gS)"/>
<circle cx="449.6" cy="148.4" r="9.50" fill="url(#gO)"/>
<circle cx="511.0" cy="147.0" r="9.50" fill="url(#gO)"/>
<circle cx="523.0" cy="15.0" r="5.00" fill="url(#gH)"/>
<circle cx="556.4" cy="23.6" r="5.00" fill="url(#gH)"/>
<circle cx="518.0" cy="41.0" r="5.00" fill="url(#gH)"/>
<circle cx="535.0" cy="34.4" r="9.00" fill="url(#gC)"/>
<circle cx="560.0" cy="55.0" r="5.00" fill="url(#gH)"/>
<circle cx="543.0" cy="62.4" r="9.50" fill="url(#gC)"/>
<circle cx="522.0" cy="72.0" r="5.00" fill="url(#gH)"/>
<circle cx="583.0" cy="80.0" r="5.00" fill="url(#gH)"/>
<circle cx="561.0" cy="88.5" r="9.50" fill="url(#gC)"/>
<circle cx="545.0" cy="97.6" r="5.00" fill="url(#gH)"/>
<circle cx="580.0" cy="109.0" r="4.00" fill="url(#gH)"/>
<circle cx="568.5" cy="117.0" r="9.00" fill="url(#gN)"/>
<circle cx="546.4" cy="130.4" r="5.00" fill="url(#gH)"/>
<circle cx="586.4" cy="130.0" r="5.00" fill="url(#gH)"/>
<circle cx="629.6" cy="108.0" r="9.50" fill="url(#gO)"/>
<circle cx="692.0" cy="97.0" r="5.00" fill="url(#gH)"/>
<circle cx="669.6" cy="95.6" r="9.50" fill="url(#gO)"/>
<circle cx="651.0" cy="126.4" r="12.00" fill="url(#gS)"/>
<circle cx="624.4" cy="136.0" r="9.50" fill="url(#gO)"/>
<circle cx="694.0" cy="137.0" r="5.00" fill="url(#gH)"/>
<circle cx="674.0" cy="148.0" r="9.50" fill="url(#gO)"/>
<line x1="496.7" y1="338.2" x2="522.0" y2="349.5" stroke="#E03030" stroke-width="0.90" stroke-dasharray="1.5 0.9"/>
<line x1="487.7" y1="379.5" x2="516.5" y2="387.0" stroke="#E03030" stroke-width="0.90" stroke-dasharray="1.5 0.9"/>
<line x1="504.5" y1="383.0" x2="489.0" y2="405.0" stroke="#E03030" stroke-width="0.90" stroke-dasharray="1.5 0.9"/>
<line x1="586.8" y1="333.8" x2="560.5" y2="344.2" stroke="#E03030" stroke-width="0.90" stroke-dasharray="1.5 0.9"/>
<line x1="592.8" y1="375.8" x2="569.0" y2="377.0" stroke="#E03030" stroke-width="0.90" stroke-dasharray="1.5 0.9"/>
<line x1="575.2" y1="392.5" x2="589.5" y2="415.9" stroke="#E03030" stroke-width="0.90" stroke-dasharray="1.5 0.9"/>
<line x1="539.0" y1="406.4" x2="527.4" y2="424.6" stroke="#E03030" stroke-width="0.90" stroke-dasharray="1.5 0.9"/>
<line x1="539.0" y1="406.4" x2="549.2" y2="432.5" stroke="#E03030" stroke-width="0.90" stroke-dasharray="1.5 0.9"/>
<line x1="457.7" y1="355.5" x2="480.2" y2="355.8" stroke="#8C8C8C" stroke-width="5.44"/>
<line x1="457.7" y1="355.5" x2="480.2" y2="355.8" stroke="#BEBEBE" stroke-width="4.13"/>
<line x1="457.7" y1="355.5" x2="480.2" y2="355.8" stroke="#E0E0E0" stroke-width="1.96"/>
<line x1="467.2" y1="348.0" x2="480.2" y2="355.8" stroke="#8C8C8C" stroke-width="5.44"/>
<line x1="467.2" y1="348.0" x2="480.2" y2="355.8" stroke="#BEBEBE" stroke-width="4.13"/>
<line x1="467.2" y1="348.0" x2="480.2" y2="355.8" stroke="#E0E0E0" stroke-width="1.96"/>
<line x1="496.7" y1="338.2" x2="480.2" y2="355.8" stroke="#8C8C8C" stroke-width="5.44"/>
<line x1="496.7" y1="338.2" x2="480.2" y2="355.8" stroke="#BEBEBE" stroke-width="4.13"/>
<line x1="496.7" y1="338.2" x2="480.2" y2="355.8" stroke="#E0E0E0" stroke-width="1.96"/>
<line x1="487.7" y1="379.5" x2="480.2" y2="355.8" stroke="#8C8C8C" stroke-width="5.44"/>
<line x1="487.7" y1="379.5" x2="480.2" y2="355.8" stroke="#BEBEBE" stroke-width="4.13"/>
<line x1="487.7" y1="379.5" x2="480.2" y2="355.8" stroke="#E0E0E0" stroke-width="1.96"/>
<line x1="454.3" y1="340.5" x2="457.7" y2="355.5" stroke="#8C8C8C" stroke-width="5.44"/>
<line x1="454.3" y1="340.5" x2="457.7" y2="355.5" stroke="#BEBEBE" stroke-width="4.13"/>
<line x1="454.3" y1="340.5" x2="457.7" y2="355.5" stroke="#E0E0E0" stroke-width="1.96"/>
<line x1="457.0" y1="359.5" x2="457.7" y2="355.5" stroke="#8C8C8C" stroke-width="5.44"/>
<line x1="457.0" y1="359.5" x2="457.7" y2="355.5" stroke="#BEBEBE" stroke-width="4.13"/>
<line x1="457.0" y1="359.5" x2="457.7" y2="355.5" stroke="#E0E0E0" stroke-width="1.96"/>
<line x1="519.2" y1="324.8" x2="529.8" y2="326.2" stroke="#8C8C8C" stroke-width="5.44"/>
<line x1="519.2" y1="324.8" x2="529.8" y2="326.2" stroke="#BEBEBE" stroke-width="4.13"/>
<line x1="519.2" y1="324.8" x2="529.8" y2="326.2" stroke="#E0E0E0" stroke-width="1.96"/>
<line x1="541.0" y1="312.0" x2="529.8" y2="326.2" stroke="#8C8C8C" stroke-width="5.44"/>
<line x1="541.0" y1="312.0" x2="529.8" y2="326.2" stroke="#BEBEBE" stroke-width="4.13"/>
<line x1="541.0" y1="312.0" x2="529.8" y2="326.2" stroke="#E0E0E0" stroke-width="1.96"/>
<line x1="529.8" y1="326.2" x2="538.8" y2="352.5" stroke="#8C8C8C" stroke-width="5.44"/>
<line x1="529.8" y1="326.2" x2="538.8" y2="352.5" stroke="#BEBEBE" stroke-width="4.13"/>
<line x1="529.8" y1="326.2" x2="538.8" y2="352.5" stroke="#E0E0E0" stroke-width="1.96"/>
<line x1="544.8" y1="320.2" x2="553.8" y2="334.5" stroke="#8C8C8C" stroke-width="5.44"/>
<line x1="544.8" y1="320.2" x2="553.8" y2="334.5" stroke="#BEBEBE" stroke-width="4.13"/>
<line x1="544.8" y1="320.2" x2="553.8" y2="334.5" stroke="#E0E0E0" stroke-width="1.96"/>
<line x1="565.0" y1="332.2" x2="553.8" y2="334.5" stroke="#8C8C8C" stroke-width="5.44"/>
<line x1="565.0" y1="332.2" x2="553.8" y2="334.5" stroke="#BEBEBE" stroke-width="4.13"/>
<line x1="565.0" y1="332.2" x2="553.8" y2="334.5" stroke="#E0E0E0" stroke-width="1.96"/>
<line x1="566.5" y1="336.5" x2="553.8" y2="334.5" stroke="#8C8C8C" stroke-width="5.44"/>
<line x1="566.5" y1="336.5" x2="553.8" y2="334.5" stroke="#BEBEBE" stroke-width="4.13"/>
<line x1="566.5" y1="336.5" x2="553.8" y2="334.5" stroke="#E0E0E0" stroke-width="1.96"/>
<line x1="553.8" y1="334.5" x2="543.2" y2="343.5" stroke="#8C8C8C" stroke-width="5.44"/>
<line x1="553.8" y1="334.5" x2="543.2" y2="343.5" stroke="#BEBEBE" stroke-width="4.13"/>
<line x1="553.8" y1="334.5" x2="543.2" y2="343.5" stroke="#E0E0E0" stroke-width="1.96"/>
<line x1="543.2" y1="343.5" x2="560.5" y2="344.2" stroke="#8C8C8C" stroke-width="5.44"/>
<line x1="543.2" y1="343.5" x2="560.5" y2="344.2" stroke="#BEBEBE" stroke-width="4.13"/>
<line x1="543.2" y1="343.5" x2="560.5" y2="344.2" stroke="#E0E0E0" stroke-width="1.96"/>
<line x1="543.2" y1="343.5" x2="546.8" y2="373.3" stroke="#8C8C8C" stroke-width="5.44"/>
<line x1="543.2" y1="343.5" x2="546.8" y2="373.3" stroke="#BEBEBE" stroke-width="4.13"/>
<line x1="543.2" y1="343.5" x2="546.8" y2="373.3" stroke="#E0E0E0" stroke-width="1.96"/>
<line x1="538.8" y1="352.5" x2="522.2" y2="349.8" stroke="#8C8C8C" stroke-width="5.44"/>
<line x1="538.8" y1="352.5" x2="522.2" y2="349.8" stroke="#BEBEBE" stroke-width="4.13"/>
<line x1="538.8" y1="352.5" x2="522.2" y2="349.8" stroke="#E0E0E0" stroke-width="1.96"/>
<line x1="538.8" y1="352.5" x2="534.5" y2="365.2" stroke="#8C8C8C" stroke-width="5.44"/>
<line x1="538.8" y1="352.5" x2="534.5" y2="365.2" stroke="#BEBEBE" stroke-width="4.13"/>
<line x1="538.8" y1="352.5" x2="534.5" y2="365.2" stroke="#E0E0E0" stroke-width="1.96"/>
<line x1="512.5" y1="367.5" x2="534.5" y2="365.2" stroke="#8C8C8C" stroke-width="5.44"/>
<line x1="512.5" y1="367.5" x2="534.5" y2="365.2" stroke="#BEBEBE" stroke-width="4.13"/>
<line x1="512.5" y1="367.5" x2="534.5" y2="365.2" stroke="#E0E0E0" stroke-width="1.96"/>
<line x1="512.5" y1="367.5" x2="504.2" y2="354.8" stroke="#8C8C8C" stroke-width="5.44"/>
<line x1="512.5" y1="367.5" x2="504.2" y2="354.8" stroke="#BEBEBE" stroke-width="4.13"/>
<line x1="512.5" y1="367.5" x2="504.2" y2="354.8" stroke="#E0E0E0" stroke-width="1.96"/>
<line x1="512.5" y1="367.5" x2="504.5" y2="383.0" stroke="#8C8C8C" stroke-width="5.44"/>
<line x1="512.5" y1="367.5" x2="504.5" y2="383.0" stroke="#BEBEBE" stroke-width="4.13"/>
<line x1="512.5" y1="367.5" x2="504.5" y2="383.0" stroke="#E0E0E0" stroke-width="1.96"/>
<line x1="533.5" y1="390.0" x2="534.5" y2="365.2" stroke="#8C8C8C" stroke-width="5.44"/>
<line x1="533.5" y1="390.0" x2="534.5" y2="365.2" stroke="#BEBEBE" stroke-width="4.13"/>
<line x1="533.5" y1="390.0" x2="534.5" y2="365.2" stroke="#E0E0E0" stroke-width="1.96"/>
<line x1="533.5" y1="390.0" x2="516.5" y2="387.0" stroke="#8C8C8C" stroke-width="5.44"/>
<line x1="533.5" y1="390.0" x2="516.5" y2="387.0" stroke="#BEBEBE" stroke-width="4.13"/>
<line x1="533.5" y1="390.0" x2="516.5" y2="387.0" stroke="#E0E0E0" stroke-width="1.96"/>
<line x1="533.5" y1="390.0" x2="539.0" y2="406.4" stroke="#8C8C8C" stroke-width="5.44"/>
<line x1="533.5" y1="390.0" x2="539.0" y2="406.4" stroke="#BEBEBE" stroke-width="4.13"/>
<line x1="533.5" y1="390.0" x2="539.0" y2="406.4" stroke="#E0E0E0" stroke-width="1.96"/>
<line x1="546.8" y1="373.3" x2="548.3" y2="384.0" stroke="#8C8C8C" stroke-width="5.44"/>
<line x1="546.8" y1="373.3" x2="548.3" y2="384.0" stroke="#BEBEBE" stroke-width="4.13"/>
<line x1="546.8" y1="373.3" x2="548.3" y2="384.0" stroke="#E0E0E0" stroke-width="1.96"/>
<line x1="546.8" y1="373.3" x2="569.0" y2="377.0" stroke="#8C8C8C" stroke-width="5.44"/>
<line x1="546.8" y1="373.3" x2="569.0" y2="377.0" stroke="#BEBEBE" stroke-width="4.13"/>
<line x1="546.8" y1="373.3" x2="569.0" y2="377.0" stroke="#E0E0E0" stroke-width="1.96"/>
<line x1="569.0" y1="377.0" x2="578.3" y2="364.8" stroke="#8C8C8C" stroke-width="5.44"/>
<line x1="569.0" y1="377.0" x2="578.3" y2="364.8" stroke="#BEBEBE" stroke-width="4.13"/>
<line x1="569.0" y1="377.0" x2="578.3" y2="364.8" stroke="#E0E0E0" stroke-width="1.96"/>
<line x1="569.0" y1="377.0" x2="575.2" y2="392.5" stroke="#8C8C8C" stroke-width="5.44"/>
<line x1="569.0" y1="377.0" x2="575.2" y2="392.5" stroke="#BEBEBE" stroke-width="4.13"/>
<line x1="569.0" y1="377.0" x2="575.2" y2="392.5" stroke="#E0E0E0" stroke-width="1.96"/>
<line x1="548.3" y1="384.0" x2="540.8" y2="398.3" stroke="#8C8C8C" stroke-width="5.44"/>
<line x1="548.3" y1="384.0" x2="540.8" y2="398.3" stroke="#BEBEBE" stroke-width="4.13"/>
<line x1="548.3" y1="384.0" x2="540.8" y2="398.3" stroke="#E0E0E0" stroke-width="1.96"/>
<line x1="601.8" y1="353.2" x2="586.9" y2="333.9" stroke="#8C8C8C" stroke-width="5.44"/>
<line x1="601.8" y1="353.2" x2="586.9" y2="333.9" stroke="#BEBEBE" stroke-width="4.13"/>
<line x1="601.8" y1="353.2" x2="586.9" y2="333.9" stroke="#E0E0E0" stroke-width="1.96"/>
<line x1="601.8" y1="353.2" x2="614.5" y2="350.2" stroke="#8C8C8C" stroke-width="5.44"/>
<line x1="601.8" y1="353.2" x2="614.5" y2="350.2" stroke="#BEBEBE" stroke-width="4.13"/>
<line x1="601.8" y1="353.2" x2="614.5" y2="350.2" stroke="#E0E0E0" stroke-width="1.96"/>
<line x1="601.8" y1="353.2" x2="624.2" y2="349.5" stroke="#8C8C8C" stroke-width="5.44"/>
<line x1="601.8" y1="353.2" x2="624.2" y2="349.5" stroke="#BEBEBE" stroke-width="4.13"/>
<line x1="601.8" y1="353.2" x2="624.2" y2="349.5" stroke="#E0E0E0" stroke-width="1.96"/>
<line x1="601.8" y1="353.2" x2="592.8" y2="376.0" stroke="#8C8C8C" stroke-width="5.44"/>
<line x1="601.8" y1="353.2" x2="592.8" y2="376.0" stroke="#BEBEBE" stroke-width="4.13"/>
<line x1="601.8" y1="353.2" x2="592.8" y2="376.0" stroke="#E0E0E0" stroke-width="1.96"/>
<line x1="624.2" y1="349.5" x2="629.5" y2="336.0" stroke="#8C8C8C" stroke-width="5.44"/>
<line x1="624.2" y1="349.5" x2="629.5" y2="336.0" stroke="#BEBEBE" stroke-width="4.13"/>
<line x1="624.2" y1="349.5" x2="629.5" y2="336.0" stroke="#E0E0E0" stroke-width="1.96"/>
<line x1="614.5" y1="350.2" x2="625.0" y2="362.2" stroke="#8C8C8C" stroke-width="5.44"/>
<line x1="614.5" y1="350.2" x2="625.0" y2="362.2" stroke="#BEBEBE" stroke-width="4.13"/>
<line x1="614.5" y1="350.2" x2="625.0" y2="362.2" stroke="#E0E0E0" stroke-width="1.96"/>
<line x1="502.9" y1="426.4" x2="488.8" y2="405.5" stroke="#8C8C8C" stroke-width="5.44"/>
<line x1="502.9" y1="426.4" x2="488.8" y2="405.5" stroke="#BEBEBE" stroke-width="4.13"/>
<line x1="502.9" y1="426.4" x2="488.8" y2="405.5" stroke="#E0E0E0" stroke-width="1.96"/>
<line x1="502.9" y1="426.4" x2="527.2" y2="424.4" stroke="#8C8C8C" stroke-width="5.44"/>
<line x1="502.9" y1="426.4" x2="527.2" y2="424.4" stroke="#BEBEBE" stroke-width="4.13"/>
<line x1="502.9" y1="426.4" x2="527.2" y2="424.4" stroke="#E0E0E0" stroke-width="1.96"/>
<line x1="502.9" y1="426.4" x2="495.0" y2="442.1" stroke="#8C8C8C" stroke-width="5.44"/>
<line x1="502.9" y1="426.4" x2="495.0" y2="442.1" stroke="#BEBEBE" stroke-width="4.13"/>
<line x1="502.9" y1="426.4" x2="495.0" y2="442.1" stroke="#E0E0E0" stroke-width="1.96"/>
<line x1="495.0" y1="442.1" x2="479.2" y2="443.0" stroke="#8C8C8C" stroke-width="5.44"/>
<line x1="495.0" y1="442.1" x2="479.2" y2="443.0" stroke="#BEBEBE" stroke-width="4.13"/>
<line x1="495.0" y1="442.1" x2="479.2" y2="443.0" stroke="#E0E0E0" stroke-width="1.96"/>
<line x1="495.0" y1="442.1" x2="503.8" y2="456.1" stroke="#8C8C8C" stroke-width="5.44"/>
<line x1="495.0" y1="442.1" x2="503.8" y2="456.1" stroke="#BEBEBE" stroke-width="4.13"/>
<line x1="495.0" y1="442.1" x2="503.8" y2="456.1" stroke="#E0E0E0" stroke-width="1.96"/>
<line x1="573.8" y1="436.0" x2="589.4" y2="416.0" stroke="#8C8C8C" stroke-width="5.44"/>
<line x1="573.8" y1="436.0" x2="589.4" y2="416.0" stroke="#BEBEBE" stroke-width="4.13"/>
<line x1="573.8" y1="436.0" x2="589.4" y2="416.0" stroke="#E0E0E0" stroke-width="1.96"/>
<line x1="573.8" y1="436.0" x2="549.5" y2="432.4" stroke="#8C8C8C" stroke-width="5.44"/>
<line x1="573.8" y1="436.0" x2="549.5" y2="432.4" stroke="#BEBEBE" stroke-width="4.13"/>
<line x1="573.8" y1="436.0" x2="549.5" y2="432.4" stroke="#E0E0E0" stroke-width="1.96"/>
<line x1="573.8" y1="436.0" x2="580.8" y2="452.6" stroke="#8C8C8C" stroke-width="5.44"/>
<line x1="573.8" y1="436.0" x2="580.8" y2="452.6" stroke="#BEBEBE" stroke-width="4.13"/>
<line x1="573.8" y1="436.0" x2="580.8" y2="452.6" stroke="#E0E0E0" stroke-width="1.96"/>
<line x1="580.8" y1="452.6" x2="596.5" y2="456.1" stroke="#8C8C8C" stroke-width="5.44"/>
<line x1="580.8" y1="452.6" x2="596.5" y2="456.1" stroke="#BEBEBE" stroke-width="4.13"/>
<line x1="580.8" y1="452.6" x2="596.5" y2="456.1" stroke="#E0E0E0" stroke-width="1.96"/>
<line x1="580.8" y1="452.6" x2="570.2" y2="464.9" stroke="#8C8C8C" stroke-width="5.44"/>
<line x1="580.8" y1="452.6" x2="570.2" y2="464.9" stroke="#BEBEBE" stroke-width="4.13"/>
<line x1="580.8" y1="452.6" x2="570.2" y2="464.9" stroke="#E0E0E0" stroke-width="1.96"/>
<circle cx="454.3" cy="340.5" r="3.15" fill="url(#gH)"/>
<circle cx="457.7" cy="355.5" r="5.58" fill="url(#gO)"/>
<circle cx="457.0" cy="359.5" r="2.97" fill="url(#gH)"/>
<circle cx="467.2" cy="348.0" r="6.03" fill="url(#gO)"/>
<circle cx="480.2" cy="355.8" r="7.47" fill="url(#gS)"/>
<circle cx="496.7" cy="338.2" r="6.03" fill="url(#gO)"/>
<circle cx="487.7" cy="379.5" r="6.03" fill="url(#gO)"/>
<circle cx="519.2" cy="324.8" r="3.15" fill="url(#gH)"/>
<circle cx="541.0" cy="312.0" r="3.15" fill="url(#gH)"/>
<circle cx="529.8" cy="326.2" r="6.03" fill="url(#gC)"/>
<circle cx="544.8" cy="320.2" r="3.15" fill="url(#gH)"/>
<circle cx="565.0" cy="332.2" r="3.15" fill="url(#gH)"/>
<circle cx="566.5" cy="336.5" r="2.97" fill="url(#gH)"/>
<circle cx="553.8" cy="334.5" r="6.03" fill="url(#gC)"/>
<circle cx="543.2" cy="343.5" r="5.67" fill="url(#gN)"/>
<circle cx="560.5" cy="344.2" r="3.15" fill="url(#gH)"/>
<circle cx="522.2" cy="349.8" r="3.15" fill="url(#gH)"/>
<circle cx="538.8" cy="352.5" r="6.03" fill="url(#gN)"/>
<circle cx="504.2" cy="354.8" r="3.15" fill="url(#gH)"/>
<circle cx="512.5" cy="367.5" r="6.03" fill="url(#gN)"/>
<circle cx="534.5" cy="365.2" r="6.30" fill="url(#gC)"/>
<circle cx="504.5" cy="383.0" r="3.15" fill="url(#gH)"/>
<circle cx="516.5" cy="387.0" r="3.15" fill="url(#gH)"/>
<circle cx="533.5" cy="390.0" r="6.03" fill="url(#gN)"/>
<circle cx="546.8" cy="373.3" r="6.30" fill="url(#gC)"/>
<circle cx="548.3" cy="384.0" r="6.03" fill="url(#gN)"/>
<circle cx="578.3" cy="364.8" r="3.15" fill="url(#gH)"/>
<circle cx="569.0" cy="377.0" r="6.03" fill="url(#gN)"/>
<circle cx="575.2" cy="392.5" r="3.15" fill="url(#gH)"/>
<circle cx="540.8" cy="398.3" r="3.15" fill="url(#gH)"/>
<circle cx="539.0" cy="406.4" r="3.15" fill="url(#gH)"/>
<circle cx="629.5" cy="336.0" r="3.15" fill="url(#gH)"/>
<circle cx="586.9" cy="333.9" r="6.03" fill="url(#gO)"/>
<circle cx="614.5" cy="350.2" r="5.58" fill="url(#gO)"/>
<circle cx="601.8" cy="353.2" r="7.47" fill="url(#gS)"/>
<circle cx="624.2" cy="349.5" r="6.03" fill="url(#gO)"/>
<circle cx="625.0" cy="362.2" r="3.15" fill="url(#gH)"/>
<circle cx="592.8" cy="376.0" r="6.03" fill="url(#gO)"/>
<circle cx="488.8" cy="405.5" r="6.03" fill="url(#gO)"/>
<circle cx="502.9" cy="426.4" r="7.47" fill="url(#gS)"/>
<circle cx="527.2" cy="424.4" r="6.03" fill="url(#gO)"/>
<circle cx="479.2" cy="443.0" r="3.15" fill="url(#gH)"/>
<circle cx="495.0" cy="442.1" r="6.03" fill="url(#gO)"/>
<circle cx="503.8" cy="456.1" r="3.15" fill="url(#gH)"/>
<circle cx="589.4" cy="416.0" r="6.03" fill="url(#gO)"/>
<circle cx="573.8" cy="436.0" r="7.47" fill="url(#gS)"/>
<circle cx="549.5" cy="432.4" r="6.03" fill="url(#gO)"/>
<circle cx="580.8" cy="452.6" r="6.03" fill="url(#gO)"/>
<circle cx="596.5" cy="456.1" r="3.15" fill="url(#gH)"/>
<circle cx="570.2" cy="464.9" r="3.15" fill="url(#gH)"/>
<line x1="725.0" y1="294.4" x2="699.2" y2="301.6" stroke="#E03030" stroke-width="0.90" stroke-dasharray="1.5 0.9"/>
<line x1="688.2" y1="289.2" x2="689.0" y2="270.0" stroke="#E03030" stroke-width="0.90" stroke-dasharray="1.5 0.9"/>
<line x1="683.0" y1="338.0" x2="678.0" y2="361.0" stroke="#E03030" stroke-width="0.90" stroke-dasharray="1.5 0.9"/>
<line x1="698.0" y1="358.0" x2="694.0" y2="382.0" stroke="#E03030" stroke-width="0.90" stroke-dasharray="1.5 0.9"/>
<line x1="684.6" y1="308.9" x2="677.7" y2="284.8" stroke="#E03030" stroke-width="0.90" stroke-dasharray="1.5 0.9"/>
<line x1="652.9" y1="239.0" x2="655.3" y2="253.4" stroke="#8C8C8C" stroke-width="5.44"/>
<line x1="652.9" y1="239.0" x2="655.3" y2="253.4" stroke="#BEBEBE" stroke-width="4.13"/>
<line x1="652.9" y1="239.0" x2="655.3" y2="253.4" stroke="#E0E0E0" stroke-width="1.96"/>
<line x1="655.3" y1="253.4" x2="679.5" y2="264.3" stroke="#8C8C8C" stroke-width="5.44"/>
<line x1="655.3" y1="253.4" x2="679.5" y2="264.3" stroke="#BEBEBE" stroke-width="4.13"/>
<line x1="655.3" y1="253.4" x2="679.5" y2="264.3" stroke="#E0E0E0" stroke-width="1.96"/>
<line x1="690.4" y1="263.9" x2="679.5" y2="264.3" stroke="#8C8C8C" stroke-width="5.44"/>
<line x1="690.4" y1="263.9" x2="679.5" y2="264.3" stroke="#BEBEBE" stroke-width="4.13"/>
<line x1="690.4" y1="263.9" x2="679.5" y2="264.3" stroke="#E0E0E0" stroke-width="1.96"/>
<line x1="679.5" y1="264.3" x2="695.2" y2="245.8" stroke="#8C8C8C" stroke-width="5.44"/>
<line x1="679.5" y1="264.3" x2="695.2" y2="245.8" stroke="#BEBEBE" stroke-width="4.13"/>
<line x1="679.5" y1="264.3" x2="695.2" y2="245.8" stroke="#E0E0E0" stroke-width="1.96"/>
<line x1="679.5" y1="264.3" x2="677.7" y2="284.8" stroke="#8C8C8C" stroke-width="5.44"/>
<line x1="679.5" y1="264.3" x2="677.7" y2="284.8" stroke="#BEBEBE" stroke-width="4.13"/>
<line x1="679.5" y1="264.3" x2="677.7" y2="284.8" stroke="#E0E0E0" stroke-width="1.96"/>
<line x1="695.2" y1="245.8" x2="692.6" y2="243.4" stroke="#8C8C8C" stroke-width="5.44"/>
<line x1="695.2" y1="245.8" x2="692.6" y2="243.4" stroke="#BEBEBE" stroke-width="4.13"/>
<line x1="695.2" y1="245.8" x2="692.6" y2="243.4" stroke="#E0E0E0" stroke-width="1.96"/>
<line x1="677.7" y1="284.8" x2="688.2" y2="289.2" stroke="#8C8C8C" stroke-width="5.44"/>
<line x1="677.7" y1="284.8" x2="688.2" y2="289.2" stroke="#BEBEBE" stroke-width="4.13"/>
<line x1="677.7" y1="284.8" x2="688.2" y2="289.2" stroke="#E0E0E0" stroke-width="1.96"/>
<line x1="688.2" y1="289.2" x2="689.7" y2="303.1" stroke="#8C8C8C" stroke-width="5.44"/>
<line x1="688.2" y1="289.2" x2="689.7" y2="303.1" stroke="#BEBEBE" stroke-width="4.13"/>
<line x1="688.2" y1="289.2" x2="689.7" y2="303.1" stroke="#E0E0E0" stroke-width="1.96"/>
<line x1="696.0" y1="322.5" x2="689.7" y2="303.1" stroke="#8C8C8C" stroke-width="5.44"/>
<line x1="696.0" y1="322.5" x2="689.7" y2="303.1" stroke="#BEBEBE" stroke-width="4.13"/>
<line x1="696.0" y1="322.5" x2="689.7" y2="303.1" stroke="#E0E0E0" stroke-width="1.96"/>
<line x1="696.0" y1="322.5" x2="684.6" y2="308.9" stroke="#8C8C8C" stroke-width="5.44"/>
<line x1="696.0" y1="322.5" x2="684.6" y2="308.9" stroke="#BEBEBE" stroke-width="4.13"/>
<line x1="696.0" y1="322.5" x2="684.6" y2="308.9" stroke="#E0E0E0" stroke-width="1.96"/>
<line x1="696.0" y1="322.5" x2="689.0" y2="322.5" stroke="#8C8C8C" stroke-width="5.44"/>
<line x1="696.0" y1="322.5" x2="689.0" y2="322.5" stroke="#BEBEBE" stroke-width="4.13"/>
<line x1="696.0" y1="322.5" x2="689.0" y2="322.5" stroke="#E0E0E0" stroke-width="1.96"/>
<line x1="696.0" y1="322.5" x2="700.0" y2="344.0" stroke="#8C8C8C" stroke-width="5.44"/>
<line x1="696.0" y1="322.5" x2="700.0" y2="344.0" stroke="#BEBEBE" stroke-width="4.13"/>
<line x1="696.0" y1="322.5" x2="700.0" y2="344.0" stroke="#E0E0E0" stroke-width="1.96"/>
<line x1="696.0" y1="322.5" x2="695.0" y2="344.0" stroke="#8C8C8C" stroke-width="5.44"/>
<line x1="696.0" y1="322.5" x2="695.0" y2="344.0" stroke="#BEBEBE" stroke-width="4.13"/>
<line x1="696.0" y1="322.5" x2="695.0" y2="344.0" stroke="#E0E0E0" stroke-width="1.96"/>
<line x1="689.7" y1="303.1" x2="699.2" y2="301.6" stroke="#8C8C8C" stroke-width="5.44"/>
<line x1="689.7" y1="303.1" x2="699.2" y2="301.6" stroke="#BEBEBE" stroke-width="4.13"/>
<line x1="689.7" y1="303.1" x2="699.2" y2="301.6" stroke="#E0E0E0" stroke-width="1.96"/>
<line x1="689.7" y1="303.1" x2="684.6" y2="308.9" stroke="#8C8C8C" stroke-width="5.44"/>
<line x1="689.7" y1="303.1" x2="684.6" y2="308.9" stroke="#BEBEBE" stroke-width="4.13"/>
<line x1="689.7" y1="303.1" x2="684.6" y2="308.9" stroke="#E0E0E0" stroke-width="1.96"/>
<line x1="684.6" y1="308.9" x2="689.0" y2="322.5" stroke="#8C8C8C" stroke-width="5.44"/>
<line x1="684.6" y1="308.9" x2="689.0" y2="322.5" stroke="#BEBEBE" stroke-width="4.13"/>
<line x1="684.6" y1="308.9" x2="689.0" y2="322.5" stroke="#E0E0E0" stroke-width="1.96"/>
<line x1="689.0" y1="322.5" x2="683.0" y2="338.0" stroke="#8C8C8C" stroke-width="5.44"/>
<line x1="689.0" y1="322.5" x2="683.0" y2="338.0" stroke="#BEBEBE" stroke-width="4.13"/>
<line x1="689.0" y1="322.5" x2="683.0" y2="338.0" stroke="#E0E0E0" stroke-width="1.96"/>
<line x1="689.0" y1="322.5" x2="700.0" y2="344.0" stroke="#8C8C8C" stroke-width="5.44"/>
<line x1="689.0" y1="322.5" x2="700.0" y2="344.0" stroke="#BEBEBE" stroke-width="4.13"/>
<line x1="689.0" y1="322.5" x2="700.0" y2="344.0" stroke="#E0E0E0" stroke-width="1.96"/>
<line x1="683.0" y1="338.0" x2="700.0" y2="344.0" stroke="#8C8C8C" stroke-width="5.44"/>
<line x1="683.0" y1="338.0" x2="700.0" y2="344.0" stroke="#BEBEBE" stroke-width="4.13"/>
<line x1="683.0" y1="338.0" x2="700.0" y2="344.0" stroke="#E0E0E0" stroke-width="1.96"/>
<line x1="683.0" y1="338.0" x2="695.0" y2="344.0" stroke="#8C8C8C" stroke-width="5.44"/>
<line x1="683.0" y1="338.0" x2="695.0" y2="344.0" stroke="#BEBEBE" stroke-width="4.13"/>
<line x1="683.0" y1="338.0" x2="695.0" y2="344.0" stroke="#E0E0E0" stroke-width="1.96"/>
<line x1="712.0" y1="334.4" x2="700.0" y2="344.0" stroke="#8C8C8C" stroke-width="5.44"/>
<line x1="712.0" y1="334.4" x2="700.0" y2="344.0" stroke="#BEBEBE" stroke-width="4.13"/>
<line x1="712.0" y1="334.4" x2="700.0" y2="344.0" stroke="#E0E0E0" stroke-width="1.96"/>
<line x1="700.0" y1="344.0" x2="695.0" y2="344.0" stroke="#8C8C8C" stroke-width="5.44"/>
<line x1="700.0" y1="344.0" x2="695.0" y2="344.0" stroke="#BEBEBE" stroke-width="4.13"/>
<line x1="700.0" y1="344.0" x2="695.0" y2="344.0" stroke="#E0E0E0" stroke-width="1.96"/>
<line x1="700.0" y1="344.0" x2="698.0" y2="358.0" stroke="#8C8C8C" stroke-width="5.44"/>
<line x1="700.0" y1="344.0" x2="698.0" y2="358.0" stroke="#BEBEBE" stroke-width="4.13"/>
<line x1="700.0" y1="344.0" x2="698.0" y2="358.0" stroke="#E0E0E0" stroke-width="1.96"/>
<line x1="700.0" y1="344.0" x2="700.0" y2="362.0" stroke="#8C8C8C" stroke-width="5.44"/>
<line x1="700.0" y1="344.0" x2="700.0" y2="362.0" stroke="#BEBEBE" stroke-width="4.13"/>
<line x1="700.0" y1="344.0" x2="700.0" y2="362.0" stroke="#E0E0E0" stroke-width="1.96"/>
<line x1="695.0" y1="344.0" x2="698.0" y2="358.0" stroke="#8C8C8C" stroke-width="5.44"/>
<line x1="695.0" y1="344.0" x2="698.0" y2="358.0" stroke="#BEBEBE" stroke-width="4.13"/>
<line x1="695.0" y1="344.0" x2="698.0" y2="358.0" stroke="#E0E0E0" stroke-width="1.96"/>
<line x1="695.0" y1="344.0" x2="700.0" y2="362.0" stroke="#8C8C8C" stroke-width="5.44"/>
<line x1="695.0" y1="344.0" x2="700.0" y2="362.0" stroke="#BEBEBE" stroke-width="4.13"/>
<line x1="695.0" y1="344.0" x2="700.0" y2="362.0" stroke="#E0E0E0" stroke-width="1.96"/>
<line x1="678.0" y1="361.0" x2="682.0" y2="381.0" stroke="#8C8C8C" stroke-width="5.44"/>
<line x1="678.0" y1="361.0" x2="682.0" y2="381.0" stroke="#BEBEBE" stroke-width="4.13"/>
<line x1="678.0" y1="361.0" x2="682.0" y2="381.0" stroke="#E0E0E0" stroke-width="1.96"/>
<line x1="649.0" y1="397.0" x2="659.6" y2="395.0" stroke="#8C8C8C" stroke-width="5.44"/>
<line x1="649.0" y1="397.0" x2="659.6" y2="395.0" stroke="#BEBEBE" stroke-width="4.13"/>
<line x1="649.0" y1="397.0" x2="659.6" y2="395.0" stroke="#E0E0E0" stroke-width="1.96"/>
<line x1="659.6" y1="395.0" x2="682.0" y2="381.0" stroke="#8C8C8C" stroke-width="5.44"/>
<line x1="659.6" y1="395.0" x2="682.0" y2="381.0" stroke="#BEBEBE" stroke-width="4.13"/>
<line x1="659.6" y1="395.0" x2="682.0" y2="381.0" stroke="#E0E0E0" stroke-width="1.96"/>
<line x1="682.0" y1="381.0" x2="694.0" y2="382.0" stroke="#8C8C8C" stroke-width="5.44"/>
<line x1="682.0" y1="381.0" x2="694.0" y2="382.0" stroke="#BEBEBE" stroke-width="4.13"/>
<line x1="682.0" y1="381.0" x2="694.0" y2="382.0" stroke="#E0E0E0" stroke-width="1.96"/>
<line x1="682.0" y1="381.0" x2="694.4" y2="397.0" stroke="#8C8C8C" stroke-width="5.44"/>
<line x1="682.0" y1="381.0" x2="694.4" y2="397.0" stroke="#BEBEBE" stroke-width="4.13"/>
<line x1="682.0" y1="381.0" x2="694.4" y2="397.0" stroke="#E0E0E0" stroke-width="1.96"/>
<line x1="694.4" y1="397.0" x2="701.0" y2="411.0" stroke="#8C8C8C" stroke-width="5.44"/>
<line x1="694.4" y1="397.0" x2="701.0" y2="411.0" stroke="#BEBEBE" stroke-width="4.13"/>
<line x1="694.4" y1="397.0" x2="701.0" y2="411.0" stroke="#E0E0E0" stroke-width="1.96"/>
<line x1="734.4" y1="286.2" x2="725.0" y2="294.4" stroke="#8C8C8C" stroke-width="5.44"/>
<line x1="734.4" y1="286.2" x2="725.0" y2="294.4" stroke="#BEBEBE" stroke-width="4.13"/>
<line x1="734.4" y1="286.2" x2="725.0" y2="294.4" stroke="#E0E0E0" stroke-width="1.96"/>
<line x1="734.4" y1="286.2" x2="751.9" y2="302.5" stroke="#8C8C8C" stroke-width="5.44"/>
<line x1="734.4" y1="286.2" x2="751.9" y2="302.5" stroke="#BEBEBE" stroke-width="4.13"/>
<line x1="734.4" y1="286.2" x2="751.9" y2="302.5" stroke="#E0E0E0" stroke-width="1.96"/>
<line x1="751.9" y1="302.5" x2="751.2" y2="293.8" stroke="#8C8C8C" stroke-width="5.44"/>
<line x1="751.9" y1="302.5" x2="751.2" y2="293.8" stroke="#BEBEBE" stroke-width="4.13"/>
<line x1="751.9" y1="302.5" x2="751.2" y2="293.8" stroke="#E0E0E0" stroke-width="1.96"/>
<line x1="751.9" y1="302.5" x2="775.0" y2="292.5" stroke="#8C8C8C" stroke-width="5.44"/>
<line x1="751.9" y1="302.5" x2="775.0" y2="292.5" stroke="#BEBEBE" stroke-width="4.13"/>
<line x1="751.9" y1="302.5" x2="775.0" y2="292.5" stroke="#E0E0E0" stroke-width="1.96"/>
<line x1="751.9" y1="302.5" x2="740.0" y2="326.4" stroke="#8C8C8C" stroke-width="5.44"/>
<line x1="751.9" y1="302.5" x2="740.0" y2="326.4" stroke="#BEBEBE" stroke-width="4.13"/>
<line x1="751.9" y1="302.5" x2="740.0" y2="326.4" stroke="#E0E0E0" stroke-width="1.96"/>
<line x1="751.9" y1="302.5" x2="753.0" y2="313.0" stroke="#8C8C8C" stroke-width="5.44"/>
<line x1="751.9" y1="302.5" x2="753.0" y2="313.0" stroke="#BEBEBE" stroke-width="4.13"/>
<line x1="751.9" y1="302.5" x2="753.0" y2="313.0" stroke="#E0E0E0" stroke-width="1.96"/>
<line x1="740.0" y1="311.0" x2="740.0" y2="326.4" stroke="#8C8C8C" stroke-width="5.44"/>
<line x1="740.0" y1="311.0" x2="740.0" y2="326.4" stroke="#BEBEBE" stroke-width="4.13"/>
<line x1="740.0" y1="311.0" x2="740.0" y2="326.4" stroke="#E0E0E0" stroke-width="1.96"/>
<line x1="740.0" y1="311.0" x2="753.0" y2="313.0" stroke="#8C8C8C" stroke-width="5.44"/>
<line x1="740.0" y1="311.0" x2="753.0" y2="313.0" stroke="#BEBEBE" stroke-width="4.13"/>
<line x1="740.0" y1="311.0" x2="753.0" y2="313.0" stroke="#E0E0E0" stroke-width="1.96"/>
<line x1="745.0" y1="313.0" x2="740.0" y2="326.4" stroke="#8C8C8C" stroke-width="5.44"/>
<line x1="745.0" y1="313.0" x2="740.0" y2="326.4" stroke="#BEBEBE" stroke-width="4.13"/>
<line x1="745.0" y1="313.0" x2="740.0" y2="326.4" stroke="#E0E0E0" stroke-width="1.96"/>
<line x1="745.0" y1="313.0" x2="753.0" y2="313.0" stroke="#8C8C8C" stroke-width="5.44"/>
<line x1="745.0" y1="313.0" x2="753.0" y2="313.0" stroke="#BEBEBE" stroke-width="4.13"/>
<line x1="745.0" y1="313.0" x2="753.0" y2="313.0" stroke="#E0E0E0" stroke-width="1.96"/>
<line x1="740.0" y1="326.4" x2="756.0" y2="330.0" stroke="#8C8C8C" stroke-width="5.44"/>
<line x1="740.0" y1="326.4" x2="756.0" y2="330.0" stroke="#BEBEBE" stroke-width="4.13"/>
<line x1="740.0" y1="326.4" x2="756.0" y2="330.0" stroke="#E0E0E0" stroke-width="1.96"/>
<line x1="756.0" y1="330.0" x2="753.0" y2="313.0" stroke="#8C8C8C" stroke-width="5.44"/>
<line x1="756.0" y1="330.0" x2="753.0" y2="313.0" stroke="#BEBEBE" stroke-width="4.13"/>
<line x1="756.0" y1="330.0" x2="753.0" y2="313.0" stroke="#E0E0E0" stroke-width="1.96"/>
<line x1="756.0" y1="330.0" x2="781.0" y2="324.4" stroke="#8C8C8C" stroke-width="5.44"/>
<line x1="756.0" y1="330.0" x2="781.0" y2="324.4" stroke="#BEBEBE" stroke-width="4.13"/>
<line x1="756.0" y1="330.0" x2="781.0" y2="324.4" stroke="#E0E0E0" stroke-width="1.96"/>
<line x1="756.0" y1="330.0" x2="754.4" y2="354.0" stroke="#8C8C8C" stroke-width="5.44"/>
<line x1="756.0" y1="330.0" x2="754.4" y2="354.0" stroke="#BEBEBE" stroke-width="4.13"/>
<line x1="756.0" y1="330.0" x2="754.4" y2="354.0" stroke="#E0E0E0" stroke-width="1.96"/>
<line x1="781.0" y1="324.4" x2="787.0" y2="334.0" stroke="#8C8C8C" stroke-width="5.44"/>
<line x1="781.0" y1="324.4" x2="787.0" y2="334.0" stroke="#BEBEBE" stroke-width="4.13"/>
<line x1="781.0" y1="324.4" x2="787.0" y2="334.0" stroke="#E0E0E0" stroke-width="1.96"/>
<line x1="747.0" y1="348.0" x2="744.0" y2="356.0" stroke="#8C8C8C" stroke-width="5.44"/>
<line x1="747.0" y1="348.0" x2="744.0" y2="356.0" stroke="#BEBEBE" stroke-width="4.13"/>
<line x1="747.0" y1="348.0" x2="744.0" y2="356.0" stroke="#E0E0E0" stroke-width="1.96"/>
<line x1="747.0" y1="348.0" x2="753.0" y2="365.0" stroke="#8C8C8C" stroke-width="5.44"/>
<line x1="747.0" y1="348.0" x2="753.0" y2="365.0" stroke="#BEBEBE" stroke-width="4.13"/>
<line x1="747.0" y1="348.0" x2="753.0" y2="365.0" stroke="#E0E0E0" stroke-width="1.96"/>
<line x1="747.0" y1="348.0" x2="749.0" y2="378.0" stroke="#8C8C8C" stroke-width="5.44"/>
<line x1="747.0" y1="348.0" x2="749.0" y2="378.0" stroke="#BEBEBE" stroke-width="4.13"/>
<line x1="747.0" y1="348.0" x2="749.0" y2="378.0" stroke="#E0E0E0" stroke-width="1.96"/>
<line x1="744.0" y1="356.0" x2="749.0" y2="378.0" stroke="#8C8C8C" stroke-width="5.44"/>
<line x1="744.0" y1="356.0" x2="749.0" y2="378.0" stroke="#BEBEBE" stroke-width="4.13"/>
<line x1="744.0" y1="356.0" x2="749.0" y2="378.0" stroke="#E0E0E0" stroke-width="1.96"/>
<line x1="753.0" y1="365.0" x2="749.0" y2="378.0" stroke="#8C8C8C" stroke-width="5.44"/>
<line x1="753.0" y1="365.0" x2="749.0" y2="378.0" stroke="#BEBEBE" stroke-width="4.13"/>
<line x1="753.0" y1="365.0" x2="749.0" y2="378.0" stroke="#E0E0E0" stroke-width="1.96"/>
<line x1="749.0" y1="378.0" x2="735.6" y2="388.0" stroke="#8C8C8C" stroke-width="5.44"/>
<line x1="749.0" y1="378.0" x2="735.6" y2="388.0" stroke="#BEBEBE" stroke-width="4.13"/>
<line x1="749.0" y1="378.0" x2="735.6" y2="388.0" stroke="#E0E0E0" stroke-width="1.96"/>
<line x1="749.0" y1="378.0" x2="765.0" y2="385.0" stroke="#8C8C8C" stroke-width="5.44"/>
<line x1="749.0" y1="378.0" x2="765.0" y2="385.0" stroke="#BEBEBE" stroke-width="4.13"/>
<line x1="749.0" y1="378.0" x2="765.0" y2="385.0" stroke="#E0E0E0" stroke-width="1.96"/>
<line x1="778.0" y1="276.2" x2="775.0" y2="292.5" stroke="#8C8C8C" stroke-width="5.44"/>
<line x1="778.0" y1="276.2" x2="775.0" y2="292.5" stroke="#BEBEBE" stroke-width="4.13"/>
<line x1="778.0" y1="276.2" x2="775.0" y2="292.5" stroke="#E0E0E0" stroke-width="1.96"/>
<circle cx="652.9" cy="239.0" r="3.22" fill="url(#gH)"/>
<circle cx="655.3" cy="253.4" r="5.98" fill="url(#gO)"/>
<circle cx="690.4" cy="263.9" r="5.52" fill="url(#gO)"/>
<circle cx="679.5" cy="264.3" r="7.36" fill="url(#gS)"/>
<circle cx="695.2" cy="245.8" r="5.98" fill="url(#gO)"/>
<circle cx="692.6" cy="243.4" r="2.76" fill="url(#gH)"/>
<circle cx="677.7" cy="284.8" r="5.98" fill="url(#gO)"/>
<circle cx="688.2" cy="289.2" r="3.22" fill="url(#gH)"/>
<circle cx="696.0" cy="322.5" r="5.98" fill="url(#gC)"/>
<circle cx="689.7" cy="303.1" r="5.98" fill="url(#gN)"/>
<circle cx="699.2" cy="301.6" r="3.22" fill="url(#gH)"/>
<circle cx="684.6" cy="308.9" r="3.22" fill="url(#gH)"/>
<circle cx="689.0" cy="322.5" r="5.98" fill="url(#gN)"/>
<circle cx="683.0" cy="338.0" r="3.22" fill="url(#gH)"/>
<circle cx="712.0" cy="334.4" r="3.22" fill="url(#gH)"/>
<circle cx="700.0" cy="344.0" r="5.98" fill="url(#gC)"/>
<circle cx="695.0" cy="344.0" r="5.98" fill="url(#gN)"/>
<circle cx="698.0" cy="358.0" r="3.22" fill="url(#gH)"/>
<circle cx="700.0" cy="362.0" r="3.22" fill="url(#gH)"/>
<circle cx="678.0" cy="361.0" r="5.98" fill="url(#gO)"/>
<circle cx="649.0" cy="397.0" r="3.22" fill="url(#gH)"/>
<circle cx="659.6" cy="395.0" r="5.98" fill="url(#gO)"/>
<circle cx="682.0" cy="381.0" r="7.36" fill="url(#gS)"/>
<circle cx="694.0" cy="382.0" r="5.98" fill="url(#gO)"/>
<circle cx="694.4" cy="397.0" r="5.98" fill="url(#gO)"/>
<circle cx="701.0" cy="411.0" r="3.22" fill="url(#gH)"/>
<circle cx="778.0" cy="276.2" r="3.22" fill="url(#gH)"/>
<circle cx="734.4" cy="286.2" r="5.98" fill="url(#gO)"/>
<circle cx="725.0" cy="294.4" r="3.22" fill="url(#gH)"/>
<circle cx="751.9" cy="302.5" r="7.36" fill="url(#gS)"/>
<circle cx="751.2" cy="293.8" r="5.98" fill="url(#gO)"/>
<circle cx="775.0" cy="292.5" r="5.98" fill="url(#gO)"/>
<circle cx="740.0" cy="311.0" r="3.22" fill="url(#gH)"/>
<circle cx="745.0" cy="313.0" r="3.22" fill="url(#gH)"/>
<circle cx="740.0" cy="326.4" r="5.98" fill="url(#gO)"/>
<circle cx="756.0" cy="330.0" r="7.36" fill="url(#gS)"/>
<circle cx="753.0" cy="313.0" r="5.98" fill="url(#gO)"/>
<circle cx="781.0" cy="324.4" r="5.98" fill="url(#gO)"/>
<circle cx="787.0" cy="334.0" r="3.22" fill="url(#gH)"/>
<circle cx="747.0" cy="348.0" r="5.98" fill="url(#gC)"/>
<circle cx="744.0" cy="356.0" r="5.98" fill="url(#gN)"/>
<circle cx="754.4" cy="354.0" r="5.98" fill="url(#gO)"/>
<circle cx="753.0" cy="365.0" r="5.98" fill="url(#gN)"/>
<circle cx="749.0" cy="378.0" r="5.98" fill="url(#gC)"/>
<circle cx="735.6" cy="388.0" r="3.22" fill="url(#gH)"/>
<circle cx="765.0" cy="385.0" r="3.22" fill="url(#gH)"/>
<line x1="586.0" y1="710.0" x2="569.0" y2="719.0" stroke="#E03030" stroke-width="0.90" stroke-dasharray="1.5 0.9"/>
<line x1="607.0" y1="740.0" x2="631.0" y2="722.0" stroke="#E03030" stroke-width="0.90" stroke-dasharray="1.5 0.9"/>
<line x1="635.0" y1="701.0" x2="632.0" y2="714.0" stroke="#E03030" stroke-width="0.90" stroke-dasharray="1.5 0.9"/>
<line x1="583.0" y1="697.0" x2="578.0" y2="691.0" stroke="#E03030" stroke-width="0.90" stroke-dasharray="1.5 0.9"/>
<line x1="529.0" y1="683.0" x2="542.5" y2="692.0" stroke="#8C8C8C" stroke-width="4.40"/>
<line x1="529.0" y1="683.0" x2="542.5" y2="692.0" stroke="#BEBEBE" stroke-width="3.34"/>
<line x1="529.0" y1="683.0" x2="542.5" y2="692.0" stroke="#E0E0E0" stroke-width="1.58"/>
<line x1="529.0" y1="683.0" x2="532.8" y2="688.2" stroke="#8C8C8C" stroke-width="4.40"/>
<line x1="529.0" y1="683.0" x2="532.8" y2="688.2" stroke="#BEBEBE" stroke-width="3.34"/>
<line x1="529.0" y1="683.0" x2="532.8" y2="688.2" stroke="#E0E0E0" stroke-width="1.58"/>
<line x1="542.5" y1="692.0" x2="536.5" y2="701.8" stroke="#8C8C8C" stroke-width="4.40"/>
<line x1="542.5" y1="692.0" x2="536.5" y2="701.8" stroke="#BEBEBE" stroke-width="3.34"/>
<line x1="542.5" y1="692.0" x2="536.5" y2="701.8" stroke="#E0E0E0" stroke-width="1.58"/>
<line x1="542.5" y1="692.0" x2="552.7" y2="679.2" stroke="#8C8C8C" stroke-width="4.40"/>
<line x1="542.5" y1="692.0" x2="552.7" y2="679.2" stroke="#BEBEBE" stroke-width="3.34"/>
<line x1="542.5" y1="692.0" x2="552.7" y2="679.2" stroke="#E0E0E0" stroke-width="1.58"/>
<line x1="532.8" y1="688.2" x2="536.5" y2="701.8" stroke="#8C8C8C" stroke-width="4.40"/>
<line x1="532.8" y1="688.2" x2="536.5" y2="701.8" stroke="#BEBEBE" stroke-width="3.34"/>
<line x1="532.8" y1="688.2" x2="536.5" y2="701.8" stroke="#E0E0E0" stroke-width="1.58"/>
<line x1="532.8" y1="688.2" x2="552.7" y2="679.2" stroke="#8C8C8C" stroke-width="4.40"/>
<line x1="532.8" y1="688.2" x2="552.7" y2="679.2" stroke="#BEBEBE" stroke-width="3.34"/>
<line x1="532.8" y1="688.2" x2="552.7" y2="679.2" stroke="#E0E0E0" stroke-width="1.58"/>
<line x1="548.5" y1="655.2" x2="552.7" y2="679.2" stroke="#8C8C8C" stroke-width="4.40"/>
<line x1="548.5" y1="655.2" x2="552.7" y2="679.2" stroke="#BEBEBE" stroke-width="3.34"/>
<line x1="548.5" y1="655.2" x2="552.7" y2="679.2" stroke="#E0E0E0" stroke-width="1.58"/>
<line x1="552.7" y1="679.2" x2="574.0" y2="689.0" stroke="#8C8C8C" stroke-width="4.40"/>
<line x1="552.7" y1="679.2" x2="574.0" y2="689.0" stroke="#BEBEBE" stroke-width="3.34"/>
<line x1="552.7" y1="679.2" x2="574.0" y2="689.0" stroke="#E0E0E0" stroke-width="1.58"/>
<line x1="574.0" y1="689.0" x2="565.8" y2="675.5" stroke="#8C8C8C" stroke-width="4.40"/>
<line x1="574.0" y1="689.0" x2="565.8" y2="675.5" stroke="#BEBEBE" stroke-width="3.34"/>
<line x1="574.0" y1="689.0" x2="565.8" y2="675.5" stroke="#E0E0E0" stroke-width="1.58"/>
<line x1="574.0" y1="689.0" x2="586.8" y2="697.2" stroke="#8C8C8C" stroke-width="4.40"/>
<line x1="574.0" y1="689.0" x2="586.8" y2="697.2" stroke="#BEBEBE" stroke-width="3.34"/>
<line x1="574.0" y1="689.0" x2="586.8" y2="697.2" stroke="#E0E0E0" stroke-width="1.58"/>
<line x1="559.8" y1="635.0" x2="576.7" y2="641.0" stroke="#8C8C8C" stroke-width="4.40"/>
<line x1="559.8" y1="635.0" x2="576.7" y2="641.0" stroke="#BEBEBE" stroke-width="3.34"/>
<line x1="559.8" y1="635.0" x2="576.7" y2="641.0" stroke="#E0E0E0" stroke-width="1.58"/>
<line x1="585.2" y1="629.8" x2="576.7" y2="641.0" stroke="#8C8C8C" stroke-width="4.40"/>
<line x1="585.2" y1="629.8" x2="576.7" y2="641.0" stroke="#BEBEBE" stroke-width="3.34"/>
<line x1="585.2" y1="629.8" x2="576.7" y2="641.0" stroke="#E0E0E0" stroke-width="1.58"/>
<line x1="576.7" y1="641.0" x2="585.2" y2="640.2" stroke="#8C8C8C" stroke-width="4.40"/>
<line x1="576.7" y1="641.0" x2="585.2" y2="640.2" stroke="#BEBEBE" stroke-width="3.34"/>
<line x1="576.7" y1="641.0" x2="585.2" y2="640.2" stroke="#E0E0E0" stroke-width="1.58"/>
<line x1="576.7" y1="641.0" x2="576.2" y2="665.0" stroke="#8C8C8C" stroke-width="4.40"/>
<line x1="576.7" y1="641.0" x2="576.2" y2="665.0" stroke="#BEBEBE" stroke-width="3.34"/>
<line x1="576.7" y1="641.0" x2="576.2" y2="665.0" stroke="#E0E0E0" stroke-width="1.58"/>
<line x1="567.7" y1="665.0" x2="576.2" y2="665.0" stroke="#8C8C8C" stroke-width="4.40"/>
<line x1="567.7" y1="665.0" x2="576.2" y2="665.0" stroke="#BEBEBE" stroke-width="3.34"/>
<line x1="567.7" y1="665.0" x2="576.2" y2="665.0" stroke="#E0E0E0" stroke-width="1.58"/>
<line x1="576.2" y1="665.0" x2="565.8" y2="675.5" stroke="#8C8C8C" stroke-width="4.40"/>
<line x1="576.2" y1="665.0" x2="565.8" y2="675.5" stroke="#BEBEBE" stroke-width="3.34"/>
<line x1="576.2" y1="665.0" x2="565.8" y2="675.5" stroke="#E0E0E0" stroke-width="1.58"/>
<line x1="576.2" y1="665.0" x2="599.5" y2="676.2" stroke="#8C8C8C" stroke-width="4.40"/>
<line x1="576.2" y1="665.0" x2="599.5" y2="676.2" stroke="#BEBEBE" stroke-width="3.34"/>
<line x1="576.2" y1="665.0" x2="599.5" y2="676.2" stroke="#E0E0E0" stroke-width="1.58"/>
<line x1="610.0" y1="665.0" x2="599.5" y2="676.2" stroke="#8C8C8C" stroke-width="4.40"/>
<line x1="610.0" y1="665.0" x2="599.5" y2="676.2" stroke="#BEBEBE" stroke-width="3.34"/>
<line x1="610.0" y1="665.0" x2="599.5" y2="676.2" stroke="#E0E0E0" stroke-width="1.58"/>
<line x1="599.5" y1="676.2" x2="607.0" y2="680.8" stroke="#8C8C8C" stroke-width="4.40"/>
<line x1="599.5" y1="676.2" x2="607.0" y2="680.8" stroke="#BEBEBE" stroke-width="3.34"/>
<line x1="599.5" y1="676.2" x2="607.0" y2="680.8" stroke="#E0E0E0" stroke-width="1.58"/>
<line x1="599.5" y1="676.2" x2="596.5" y2="698.0" stroke="#8C8C8C" stroke-width="4.40"/>
<line x1="599.5" y1="676.2" x2="596.5" y2="698.0" stroke="#BEBEBE" stroke-width="3.34"/>
<line x1="599.5" y1="676.2" x2="596.5" y2="698.0" stroke="#E0E0E0" stroke-width="1.58"/>
<line x1="586.8" y1="697.2" x2="596.5" y2="698.0" stroke="#8C8C8C" stroke-width="4.40"/>
<line x1="586.8" y1="697.2" x2="596.5" y2="698.0" stroke="#BEBEBE" stroke-width="3.34"/>
<line x1="586.8" y1="697.2" x2="596.5" y2="698.0" stroke="#E0E0E0" stroke-width="1.58"/>
<line x1="596.5" y1="698.0" x2="610.8" y2="706.2" stroke="#8C8C8C" stroke-width="4.40"/>
<line x1="596.5" y1="698.0" x2="610.8" y2="706.2" stroke="#BEBEBE" stroke-width="3.34"/>
<line x1="596.5" y1="698.0" x2="610.8" y2="706.2" stroke="#E0E0E0" stroke-width="1.58"/>
<line x1="596.5" y1="698.0" x2="586.0" y2="710.0" stroke="#8C8C8C" stroke-width="4.40"/>
<line x1="596.5" y1="698.0" x2="586.0" y2="710.0" stroke="#BEBEBE" stroke-width="3.34"/>
<line x1="596.5" y1="698.0" x2="586.0" y2="710.0" stroke="#E0E0E0" stroke-width="1.58"/>
<line x1="635.5" y1="622.8" x2="646.8" y2="634.8" stroke="#8C8C8C" stroke-width="4.40"/>
<line x1="635.5" y1="622.8" x2="646.8" y2="634.8" stroke="#BEBEBE" stroke-width="3.34"/>
<line x1="635.5" y1="622.8" x2="646.8" y2="634.8" stroke="#E0E0E0" stroke-width="1.58"/>
<line x1="658.8" y1="625.0" x2="646.8" y2="634.8" stroke="#8C8C8C" stroke-width="4.40"/>
<line x1="658.8" y1="625.0" x2="646.8" y2="634.8" stroke="#BEBEBE" stroke-width="3.34"/>
<line x1="658.8" y1="625.0" x2="646.8" y2="634.8" stroke="#E0E0E0" stroke-width="1.58"/>
<line x1="646.8" y1="634.8" x2="657.2" y2="642.2" stroke="#8C8C8C" stroke-width="4.40"/>
<line x1="646.8" y1="634.8" x2="657.2" y2="642.2" stroke="#BEBEBE" stroke-width="3.34"/>
<line x1="646.8" y1="634.8" x2="657.2" y2="642.2" stroke="#E0E0E0" stroke-width="1.58"/>
<line x1="646.8" y1="634.8" x2="634.0" y2="652.8" stroke="#8C8C8C" stroke-width="4.40"/>
<line x1="646.8" y1="634.8" x2="634.0" y2="652.8" stroke="#BEBEBE" stroke-width="3.34"/>
<line x1="646.8" y1="634.8" x2="634.0" y2="652.8" stroke="#E0E0E0" stroke-width="1.58"/>
<line x1="624.2" y1="643.0" x2="634.0" y2="652.8" stroke="#8C8C8C" stroke-width="4.40"/>
<line x1="624.2" y1="643.0" x2="634.0" y2="652.8" stroke="#BEBEBE" stroke-width="3.34"/>
<line x1="624.2" y1="643.0" x2="634.0" y2="652.8" stroke="#E0E0E0" stroke-width="1.58"/>
<line x1="634.0" y1="652.8" x2="622.0" y2="660.2" stroke="#8C8C8C" stroke-width="4.40"/>
<line x1="634.0" y1="652.8" x2="622.0" y2="660.2" stroke="#BEBEBE" stroke-width="3.34"/>
<line x1="634.0" y1="652.8" x2="622.0" y2="660.2" stroke="#E0E0E0" stroke-width="1.58"/>
<line x1="634.0" y1="652.8" x2="651.2" y2="667.8" stroke="#8C8C8C" stroke-width="4.40"/>
<line x1="634.0" y1="652.8" x2="651.2" y2="667.8" stroke="#BEBEBE" stroke-width="3.34"/>
<line x1="634.0" y1="652.8" x2="651.2" y2="667.8" stroke="#E0E0E0" stroke-width="1.58"/>
<line x1="664.8" y1="658.0" x2="662.5" y2="658.0" stroke="#8C8C8C" stroke-width="4.40"/>
<line x1="664.8" y1="658.0" x2="662.5" y2="658.0" stroke="#BEBEBE" stroke-width="3.34"/>
<line x1="664.8" y1="658.0" x2="662.5" y2="658.0" stroke="#E0E0E0" stroke-width="1.58"/>
<line x1="664.8" y1="658.0" x2="659.5" y2="680.5" stroke="#8C8C8C" stroke-width="4.40"/>
<line x1="664.8" y1="658.0" x2="659.5" y2="680.5" stroke="#BEBEBE" stroke-width="3.34"/>
<line x1="664.8" y1="658.0" x2="659.5" y2="680.5" stroke="#E0E0E0" stroke-width="1.58"/>
<line x1="662.5" y1="658.0" x2="651.2" y2="667.8" stroke="#8C8C8C" stroke-width="4.40"/>
<line x1="662.5" y1="658.0" x2="651.2" y2="667.8" stroke="#BEBEBE" stroke-width="3.34"/>
<line x1="662.5" y1="658.0" x2="651.2" y2="667.8" stroke="#E0E0E0" stroke-width="1.58"/>
<line x1="641.5" y1="671.5" x2="659.5" y2="680.5" stroke="#8C8C8C" stroke-width="4.40"/>
<line x1="641.5" y1="671.5" x2="659.5" y2="680.5" stroke="#BEBEBE" stroke-width="3.34"/>
<line x1="641.5" y1="671.5" x2="659.5" y2="680.5" stroke="#E0E0E0" stroke-width="1.58"/>
<line x1="651.2" y1="667.8" x2="661.0" y2="674.5" stroke="#8C8C8C" stroke-width="4.40"/>
<line x1="651.2" y1="667.8" x2="661.0" y2="674.5" stroke="#BEBEBE" stroke-width="3.34"/>
<line x1="651.2" y1="667.8" x2="661.0" y2="674.5" stroke="#E0E0E0" stroke-width="1.58"/>
<line x1="651.2" y1="667.8" x2="646.0" y2="691.0" stroke="#8C8C8C" stroke-width="4.40"/>
<line x1="651.2" y1="667.8" x2="646.0" y2="691.0" stroke="#BEBEBE" stroke-width="3.34"/>
<line x1="651.2" y1="667.8" x2="646.0" y2="691.0" stroke="#E0E0E0" stroke-width="1.58"/>
<line x1="659.5" y1="680.5" x2="684.2" y2="679.0" stroke="#8C8C8C" stroke-width="4.40"/>
<line x1="659.5" y1="680.5" x2="684.2" y2="679.0" stroke="#BEBEBE" stroke-width="3.34"/>
<line x1="659.5" y1="680.5" x2="684.2" y2="679.0" stroke="#E0E0E0" stroke-width="1.58"/>
<line x1="659.5" y1="680.5" x2="658.0" y2="699.2" stroke="#8C8C8C" stroke-width="4.40"/>
<line x1="659.5" y1="680.5" x2="658.0" y2="699.2" stroke="#BEBEBE" stroke-width="3.34"/>
<line x1="659.5" y1="680.5" x2="658.0" y2="699.2" stroke="#E0E0E0" stroke-width="1.58"/>
<line x1="684.2" y1="679.0" x2="697.0" y2="684.2" stroke="#8C8C8C" stroke-width="4.40"/>
<line x1="684.2" y1="679.0" x2="697.0" y2="684.2" stroke="#BEBEBE" stroke-width="3.34"/>
<line x1="684.2" y1="679.0" x2="697.0" y2="684.2" stroke="#E0E0E0" stroke-width="1.58"/>
<line x1="646.0" y1="691.0" x2="661.0" y2="697.8" stroke="#8C8C8C" stroke-width="4.40"/>
<line x1="646.0" y1="691.0" x2="661.0" y2="697.8" stroke="#BEBEBE" stroke-width="3.34"/>
<line x1="646.0" y1="691.0" x2="661.0" y2="697.8" stroke="#E0E0E0" stroke-width="1.58"/>
<line x1="646.0" y1="691.0" x2="634.8" y2="700.8" stroke="#8C8C8C" stroke-width="4.40"/>
<line x1="646.0" y1="691.0" x2="634.8" y2="700.8" stroke="#BEBEBE" stroke-width="3.34"/>
<line x1="646.0" y1="691.0" x2="634.8" y2="700.8" stroke="#E0E0E0" stroke-width="1.58"/>
<line x1="646.0" y1="691.0" x2="635.0" y2="701.0" stroke="#8C8C8C" stroke-width="4.40"/>
<line x1="646.0" y1="691.0" x2="635.0" y2="701.0" stroke="#BEBEBE" stroke-width="3.34"/>
<line x1="646.0" y1="691.0" x2="635.0" y2="701.0" stroke="#E0E0E0" stroke-width="1.58"/>
<line x1="658.0" y1="699.2" x2="661.0" y2="697.8" stroke="#8C8C8C" stroke-width="4.40"/>
<line x1="658.0" y1="699.2" x2="661.0" y2="697.8" stroke="#BEBEBE" stroke-width="3.34"/>
<line x1="658.0" y1="699.2" x2="661.0" y2="697.8" stroke="#E0E0E0" stroke-width="1.58"/>
<line x1="658.0" y1="699.2" x2="653.0" y2="725.0" stroke="#8C8C8C" stroke-width="4.40"/>
<line x1="658.0" y1="699.2" x2="653.0" y2="725.0" stroke="#BEBEBE" stroke-width="3.34"/>
<line x1="658.0" y1="699.2" x2="653.0" y2="725.0" stroke="#E0E0E0" stroke-width="1.58"/>
<line x1="551.0" y1="749.0" x2="562.0" y2="739.0" stroke="#8C8C8C" stroke-width="4.40"/>
<line x1="551.0" y1="749.0" x2="562.0" y2="739.0" stroke="#BEBEBE" stroke-width="3.34"/>
<line x1="551.0" y1="749.0" x2="562.0" y2="739.0" stroke="#E0E0E0" stroke-width="1.58"/>
<line x1="551.0" y1="749.0" x2="556.4" y2="760.0" stroke="#8C8C8C" stroke-width="4.40"/>
<line x1="551.0" y1="749.0" x2="556.4" y2="760.0" stroke="#BEBEBE" stroke-width="3.34"/>
<line x1="551.0" y1="749.0" x2="556.4" y2="760.0" stroke="#E0E0E0" stroke-width="1.58"/>
<line x1="569.0" y1="719.0" x2="570.0" y2="742.0" stroke="#8C8C8C" stroke-width="4.40"/>
<line x1="569.0" y1="719.0" x2="570.0" y2="742.0" stroke="#BEBEBE" stroke-width="3.34"/>
<line x1="569.0" y1="719.0" x2="570.0" y2="742.0" stroke="#E0E0E0" stroke-width="1.58"/>
<line x1="570.0" y1="742.0" x2="562.0" y2="739.0" stroke="#8C8C8C" stroke-width="4.40"/>
<line x1="570.0" y1="742.0" x2="562.0" y2="739.0" stroke="#BEBEBE" stroke-width="3.34"/>
<line x1="570.0" y1="742.0" x2="562.0" y2="739.0" stroke="#E0E0E0" stroke-width="1.58"/>
<line x1="570.0" y1="742.0" x2="594.4" y2="751.0" stroke="#8C8C8C" stroke-width="4.40"/>
<line x1="570.0" y1="742.0" x2="594.4" y2="751.0" stroke="#BEBEBE" stroke-width="3.34"/>
<line x1="570.0" y1="742.0" x2="594.4" y2="751.0" stroke="#E0E0E0" stroke-width="1.58"/>
<line x1="570.0" y1="742.0" x2="556.4" y2="760.0" stroke="#8C8C8C" stroke-width="4.40"/>
<line x1="570.0" y1="742.0" x2="556.4" y2="760.0" stroke="#BEBEBE" stroke-width="3.34"/>
<line x1="570.0" y1="742.0" x2="556.4" y2="760.0" stroke="#E0E0E0" stroke-width="1.58"/>
<line x1="631.6" y1="719.0" x2="631.0" y2="722.4" stroke="#8C8C8C" stroke-width="4.40"/>
<line x1="631.6" y1="719.0" x2="631.0" y2="722.4" stroke="#BEBEBE" stroke-width="3.34"/>
<line x1="631.6" y1="719.0" x2="631.0" y2="722.4" stroke="#E0E0E0" stroke-width="1.58"/>
<line x1="631.6" y1="719.0" x2="653.0" y2="725.0" stroke="#8C8C8C" stroke-width="4.40"/>
<line x1="631.6" y1="719.0" x2="653.0" y2="725.0" stroke="#BEBEBE" stroke-width="3.34"/>
<line x1="631.6" y1="719.0" x2="653.0" y2="725.0" stroke="#E0E0E0" stroke-width="1.58"/>
<line x1="631.0" y1="722.4" x2="644.0" y2="723.0" stroke="#8C8C8C" stroke-width="4.40"/>
<line x1="631.0" y1="722.4" x2="644.0" y2="723.0" stroke="#BEBEBE" stroke-width="3.34"/>
<line x1="631.0" y1="722.4" x2="644.0" y2="723.0" stroke="#E0E0E0" stroke-width="1.58"/>
<line x1="672.0" y1="713.6" x2="653.0" y2="725.0" stroke="#8C8C8C" stroke-width="4.40"/>
<line x1="672.0" y1="713.6" x2="653.0" y2="725.0" stroke="#BEBEBE" stroke-width="3.34"/>
<line x1="672.0" y1="713.6" x2="653.0" y2="725.0" stroke="#E0E0E0" stroke-width="1.58"/>
<line x1="653.0" y1="725.0" x2="644.0" y2="723.0" stroke="#8C8C8C" stroke-width="4.40"/>
<line x1="653.0" y1="725.0" x2="644.0" y2="723.0" stroke="#BEBEBE" stroke-width="3.34"/>
<line x1="653.0" y1="725.0" x2="644.0" y2="723.0" stroke="#E0E0E0" stroke-width="1.58"/>
<line x1="653.0" y1="725.0" x2="655.0" y2="752.0" stroke="#8C8C8C" stroke-width="4.40"/>
<line x1="653.0" y1="725.0" x2="655.0" y2="752.0" stroke="#BEBEBE" stroke-width="3.34"/>
<line x1="653.0" y1="725.0" x2="655.0" y2="752.0" stroke="#E0E0E0" stroke-width="1.58"/>
<line x1="655.0" y1="752.0" x2="649.6" y2="761.0" stroke="#8C8C8C" stroke-width="4.40"/>
<line x1="655.0" y1="752.0" x2="649.6" y2="761.0" stroke="#BEBEBE" stroke-width="3.34"/>
<line x1="655.0" y1="752.0" x2="649.6" y2="761.0" stroke="#E0E0E0" stroke-width="1.58"/>
<line x1="594.4" y1="751.0" x2="607.0" y2="740.0" stroke="#8C8C8C" stroke-width="4.40"/>
<line x1="594.4" y1="751.0" x2="607.0" y2="740.0" stroke="#BEBEBE" stroke-width="3.34"/>
<line x1="594.4" y1="751.0" x2="607.0" y2="740.0" stroke="#E0E0E0" stroke-width="1.58"/>
<circle cx="529.0" cy="683.0" r="3.01" fill="url(#gH)"/>
<circle cx="542.5" cy="692.0" r="5.16" fill="url(#gO)"/>
<circle cx="532.8" cy="688.2" r="5.59" fill="url(#gO)"/>
<circle cx="536.5" cy="701.8" r="3.01" fill="url(#gH)"/>
<circle cx="548.5" cy="655.2" r="5.59" fill="url(#gO)"/>
<circle cx="552.7" cy="679.2" r="7.31" fill="url(#gS)"/>
<circle cx="574.0" cy="689.0" r="5.59" fill="url(#gO)"/>
<circle cx="559.8" cy="635.0" r="3.01" fill="url(#gH)"/>
<circle cx="585.2" cy="629.8" r="3.01" fill="url(#gH)"/>
<circle cx="576.7" cy="641.0" r="5.59" fill="url(#gC)"/>
<circle cx="585.2" cy="640.2" r="3.01" fill="url(#gH)"/>
<circle cx="567.7" cy="665.0" r="3.01" fill="url(#gH)"/>
<circle cx="576.2" cy="665.0" r="5.59" fill="url(#gC)"/>
<circle cx="565.8" cy="675.5" r="3.01" fill="url(#gH)"/>
<circle cx="610.0" cy="665.0" r="3.01" fill="url(#gH)"/>
<circle cx="599.5" cy="676.2" r="5.59" fill="url(#gC)"/>
<circle cx="607.0" cy="680.8" r="3.01" fill="url(#gH)"/>
<circle cx="586.8" cy="697.2" r="3.01" fill="url(#gH)"/>
<circle cx="596.5" cy="698.0" r="5.59" fill="url(#gN)"/>
<circle cx="610.8" cy="706.2" r="3.01" fill="url(#gH)"/>
<circle cx="586.0" cy="710.0" r="3.01" fill="url(#gH)"/>
<circle cx="635.5" cy="622.8" r="3.01" fill="url(#gH)"/>
<circle cx="658.8" cy="625.0" r="3.01" fill="url(#gH)"/>
<circle cx="646.8" cy="634.8" r="5.59" fill="url(#gC)"/>
<circle cx="657.2" cy="642.2" r="3.01" fill="url(#gH)"/>
<circle cx="624.2" cy="643.0" r="3.01" fill="url(#gH)"/>
<circle cx="634.0" cy="652.8" r="5.59" fill="url(#gC)"/>
<circle cx="622.0" cy="660.2" r="3.01" fill="url(#gH)"/>
<circle cx="664.8" cy="658.0" r="5.59" fill="url(#gO)"/>
<circle cx="662.5" cy="658.0" r="2.58" fill="url(#gH)"/>
<circle cx="641.5" cy="671.5" r="5.59" fill="url(#gO)"/>
<circle cx="651.2" cy="667.8" r="5.59" fill="url(#gC)"/>
<circle cx="659.5" cy="680.5" r="7.31" fill="url(#gS)"/>
<circle cx="661.0" cy="674.5" r="2.58" fill="url(#gH)"/>
<circle cx="684.2" cy="679.0" r="5.59" fill="url(#gO)"/>
<circle cx="697.0" cy="684.2" r="3.01" fill="url(#gH)"/>
<circle cx="646.0" cy="691.0" r="5.59" fill="url(#gN)"/>
<circle cx="658.0" cy="699.2" r="5.59" fill="url(#gO)"/>
<circle cx="661.0" cy="697.8" r="2.58" fill="url(#gH)"/>
<circle cx="634.8" cy="700.8" r="3.01" fill="url(#gH)"/>
<circle cx="551.0" cy="749.0" r="3.01" fill="url(#gH)"/>
<circle cx="569.0" cy="719.0" r="5.59" fill="url(#gO)"/>
<circle cx="570.0" cy="742.0" r="7.31" fill="url(#gS)"/>
<circle cx="562.0" cy="739.0" r="5.59" fill="url(#gO)"/>
<circle cx="594.4" cy="751.0" r="5.59" fill="url(#gO)"/>
<circle cx="556.4" cy="760.0" r="5.59" fill="url(#gO)"/>
<circle cx="607.0" cy="740.0" r="3.01" fill="url(#gH)"/>
<circle cx="635.0" cy="701.0" r="3.01" fill="url(#gH)"/>
<circle cx="631.6" cy="719.0" r="5.59" fill="url(#gO)"/>
<circle cx="631.0" cy="722.4" r="2.58" fill="url(#gH)"/>
<circle cx="672.0" cy="713.6" r="5.59" fill="url(#gO)"/>
<circle cx="653.0" cy="725.0" r="7.31" fill="url(#gS)"/>
<circle cx="644.0" cy="723.0" r="5.59" fill="url(#gO)"/>
<circle cx="655.0" cy="752.0" r="5.59" fill="url(#gO)"/>
<circle cx="649.6" cy="761.0" r="3.01" fill="url(#gH)"/>
<line x1="57.1" y1="602.5" x2="47.5" y2="608.1" stroke="#E2A4A4" stroke-width="1.1"/>
<line x1="64.0" y1="598.5" x2="57.1" y2="602.5" stroke="#B4B4B4" stroke-width="2.1"/>
<line x1="64.0" y1="598.5" x2="57.1" y2="602.5" stroke="#E6E6E6" stroke-width="1.0"/>
<circle cx="57.1" cy="602.5" r="1.5" fill="url(#gH)"/>
<line x1="88.6" y1="599.0" x2="99.8" y2="602.0" stroke="#E2A4A4" stroke-width="1.1"/>
<line x1="80.5" y1="596.9" x2="88.6" y2="599.0" stroke="#B4B4B4" stroke-width="2.1"/>
<line x1="80.5" y1="596.9" x2="88.6" y2="599.0" stroke="#E6E6E6" stroke-width="1.0"/>
<circle cx="88.6" cy="599.0" r="1.5" fill="url(#gH)"/>
<line x1="61.9" y1="617.0" x2="57.1" y2="623.5" stroke="#E2A4A4" stroke-width="1.1"/>
<line x1="65.4" y1="612.3" x2="61.9" y2="617.0" stroke="#B4B4B4" stroke-width="2.1"/>
<line x1="65.4" y1="612.3" x2="61.9" y2="617.0" stroke="#E6E6E6" stroke-width="1.0"/>
<circle cx="61.9" cy="617.0" r="1.5" fill="url(#gH)"/>
<line x1="68.7" y1="630.1" x2="59.9" y2="637.7" stroke="#E2A4A4" stroke-width="1.1"/>
<line x1="75.0" y1="624.6" x2="68.7" y2="630.1" stroke="#B4B4B4" stroke-width="2.1"/>
<line x1="75.0" y1="624.6" x2="68.7" y2="630.1" stroke="#E6E6E6" stroke-width="1.0"/>
<circle cx="68.7" cy="630.1" r="1.5" fill="url(#gH)"/>
<line x1="73.1" y1="575.6" x2="78.8" y2="571.9" stroke="#8C8C8C" stroke-width="2.20"/>
<line x1="73.1" y1="575.6" x2="78.8" y2="571.9" stroke="#BEBEBE" stroke-width="1.67"/>
<line x1="73.1" y1="575.6" x2="78.8" y2="571.9" stroke="#E0E0E0" stroke-width="0.79"/>
<line x1="73.1" y1="575.6" x2="75.0" y2="587.5" stroke="#8C8C8C" stroke-width="2.20"/>
<line x1="73.1" y1="575.6" x2="75.0" y2="587.5" stroke="#BEBEBE" stroke-width="1.67"/>
<line x1="73.1" y1="575.6" x2="75.0" y2="587.5" stroke="#E0E0E0" stroke-width="0.79"/>
<line x1="79.4" y1="584.4" x2="75.0" y2="587.5" stroke="#8C8C8C" stroke-width="2.20"/>
<line x1="79.4" y1="584.4" x2="75.0" y2="587.5" stroke="#BEBEBE" stroke-width="1.67"/>
<line x1="79.4" y1="584.4" x2="75.0" y2="587.5" stroke="#E0E0E0" stroke-width="0.79"/>
<line x1="79.4" y1="584.4" x2="87.5" y2="583.0" stroke="#8C8C8C" stroke-width="2.20"/>
<line x1="79.4" y1="584.4" x2="87.5" y2="583.0" stroke="#BEBEBE" stroke-width="1.67"/>
<line x1="79.4" y1="584.4" x2="87.5" y2="583.0" stroke="#E0E0E0" stroke-width="0.79"/>
<line x1="75.0" y1="587.5" x2="84.8" y2="591.0" stroke="#8C8C8C" stroke-width="2.20"/>
<line x1="75.0" y1="587.5" x2="84.8" y2="591.0" stroke="#BEBEBE" stroke-width="1.67"/>
<line x1="75.0" y1="587.5" x2="84.8" y2="591.0" stroke="#E0E0E0" stroke-width="0.79"/>
<line x1="75.0" y1="587.5" x2="66.2" y2="593.5" stroke="#8C8C8C" stroke-width="2.20"/>
<line x1="75.0" y1="587.5" x2="66.2" y2="593.5" stroke="#BEBEBE" stroke-width="1.67"/>
<line x1="75.0" y1="587.5" x2="66.2" y2="593.5" stroke="#E0E0E0" stroke-width="0.79"/>
<line x1="84.8" y1="591.0" x2="87.5" y2="583.0" stroke="#8C8C8C" stroke-width="2.20"/>
<line x1="84.8" y1="591.0" x2="87.5" y2="583.0" stroke="#BEBEBE" stroke-width="1.67"/>
<line x1="84.8" y1="591.0" x2="87.5" y2="583.0" stroke="#E0E0E0" stroke-width="0.79"/>
<line x1="64.4" y1="598.1" x2="72.5" y2="602.5" stroke="#8C8C8C" stroke-width="2.20"/>
<line x1="64.4" y1="598.1" x2="72.5" y2="602.5" stroke="#BEBEBE" stroke-width="1.67"/>
<line x1="64.4" y1="598.1" x2="72.5" y2="602.5" stroke="#E0E0E0" stroke-width="0.79"/>
<line x1="81.0" y1="596.9" x2="72.5" y2="602.5" stroke="#8C8C8C" stroke-width="2.20"/>
<line x1="81.0" y1="596.9" x2="72.5" y2="602.5" stroke="#BEBEBE" stroke-width="1.67"/>
<line x1="81.0" y1="596.9" x2="72.5" y2="602.5" stroke="#E0E0E0" stroke-width="0.79"/>
<line x1="72.5" y1="602.5" x2="65.6" y2="612.2" stroke="#8C8C8C" stroke-width="2.20"/>
<line x1="72.5" y1="602.5" x2="65.6" y2="612.2" stroke="#BEBEBE" stroke-width="1.67"/>
<line x1="72.5" y1="602.5" x2="65.6" y2="612.2" stroke="#E0E0E0" stroke-width="0.79"/>
<line x1="72.5" y1="602.5" x2="73.8" y2="611.2" stroke="#8C8C8C" stroke-width="2.20"/>
<line x1="72.5" y1="602.5" x2="73.8" y2="611.2" stroke="#BEBEBE" stroke-width="1.67"/>
<line x1="72.5" y1="602.5" x2="73.8" y2="611.2" stroke="#E0E0E0" stroke-width="0.79"/>
<line x1="72.5" y1="602.5" x2="82.5" y2="610.2" stroke="#8C8C8C" stroke-width="2.20"/>
<line x1="72.5" y1="602.5" x2="82.5" y2="610.2" stroke="#BEBEBE" stroke-width="1.67"/>
<line x1="72.5" y1="602.5" x2="82.5" y2="610.2" stroke="#E0E0E0" stroke-width="0.79"/>
<line x1="65.6" y1="612.2" x2="74.4" y2="616.2" stroke="#8C8C8C" stroke-width="2.20"/>
<line x1="65.6" y1="612.2" x2="74.4" y2="616.2" stroke="#BEBEBE" stroke-width="1.67"/>
<line x1="65.6" y1="612.2" x2="74.4" y2="616.2" stroke="#E0E0E0" stroke-width="0.79"/>
<line x1="73.8" y1="611.2" x2="74.4" y2="616.2" stroke="#8C8C8C" stroke-width="2.20"/>
<line x1="73.8" y1="611.2" x2="74.4" y2="616.2" stroke="#BEBEBE" stroke-width="1.67"/>
<line x1="73.8" y1="611.2" x2="74.4" y2="616.2" stroke="#E0E0E0" stroke-width="0.79"/>
<line x1="82.5" y1="610.2" x2="74.4" y2="616.2" stroke="#8C8C8C" stroke-width="2.20"/>
<line x1="82.5" y1="610.2" x2="74.4" y2="616.2" stroke="#BEBEBE" stroke-width="1.67"/>
<line x1="82.5" y1="610.2" x2="74.4" y2="616.2" stroke="#E0E0E0" stroke-width="0.79"/>
<line x1="82.5" y1="610.2" x2="92.5" y2="614.4" stroke="#8C8C8C" stroke-width="2.20"/>
<line x1="82.5" y1="610.2" x2="92.5" y2="614.4" stroke="#BEBEBE" stroke-width="1.67"/>
<line x1="82.5" y1="610.2" x2="92.5" y2="614.4" stroke="#E0E0E0" stroke-width="0.79"/>
<line x1="74.4" y1="616.2" x2="75.0" y2="625.0" stroke="#8C8C8C" stroke-width="2.20"/>
<line x1="74.4" y1="616.2" x2="75.0" y2="625.0" stroke="#BEBEBE" stroke-width="1.67"/>
<line x1="74.4" y1="616.2" x2="75.0" y2="625.0" stroke="#E0E0E0" stroke-width="0.79"/>
<line x1="47.5" y1="608.1" x2="47.5" y2="618.1" stroke="#8C8C8C" stroke-width="2.20"/>
<line x1="47.5" y1="608.1" x2="47.5" y2="618.1" stroke="#BEBEBE" stroke-width="1.67"/>
<line x1="47.5" y1="608.1" x2="47.5" y2="618.1" stroke="#E0E0E0" stroke-width="0.79"/>
<line x1="33.8" y1="617.8" x2="39.4" y2="621.0" stroke="#8C8C8C" stroke-width="2.20"/>
<line x1="33.8" y1="617.8" x2="39.4" y2="621.0" stroke="#BEBEBE" stroke-width="1.67"/>
<line x1="33.8" y1="617.8" x2="39.4" y2="621.0" stroke="#E0E0E0" stroke-width="0.79"/>
<line x1="39.4" y1="621.0" x2="47.5" y2="618.1" stroke="#8C8C8C" stroke-width="2.20"/>
<line x1="39.4" y1="621.0" x2="47.5" y2="618.1" stroke="#BEBEBE" stroke-width="1.67"/>
<line x1="39.4" y1="621.0" x2="47.5" y2="618.1" stroke="#E0E0E0" stroke-width="0.79"/>
<line x1="47.5" y1="618.1" x2="42.5" y2="625.6" stroke="#8C8C8C" stroke-width="2.20"/>
<line x1="47.5" y1="618.1" x2="42.5" y2="625.6" stroke="#BEBEBE" stroke-width="1.67"/>
<line x1="47.5" y1="618.1" x2="42.5" y2="625.6" stroke="#E0E0E0" stroke-width="0.79"/>
<line x1="47.5" y1="618.1" x2="49.4" y2="623.1" stroke="#8C8C8C" stroke-width="2.20"/>
<line x1="47.5" y1="618.1" x2="49.4" y2="623.1" stroke="#BEBEBE" stroke-width="1.67"/>
<line x1="47.5" y1="618.1" x2="49.4" y2="623.1" stroke="#E0E0E0" stroke-width="0.79"/>
<line x1="47.5" y1="618.1" x2="57.2" y2="623.8" stroke="#8C8C8C" stroke-width="2.20"/>
<line x1="47.5" y1="618.1" x2="57.2" y2="623.8" stroke="#BEBEBE" stroke-width="1.67"/>
<line x1="47.5" y1="618.1" x2="57.2" y2="623.8" stroke="#E0E0E0" stroke-width="0.79"/>
<line x1="42.5" y1="625.6" x2="37.5" y2="632.2" stroke="#8C8C8C" stroke-width="2.20"/>
<line x1="42.5" y1="625.6" x2="37.5" y2="632.2" stroke="#BEBEBE" stroke-width="1.67"/>
<line x1="42.5" y1="625.6" x2="37.5" y2="632.2" stroke="#E0E0E0" stroke-width="0.79"/>
<line x1="42.5" y1="625.6" x2="50.6" y2="633.1" stroke="#8C8C8C" stroke-width="2.20"/>
<line x1="42.5" y1="625.6" x2="50.6" y2="633.1" stroke="#BEBEBE" stroke-width="1.67"/>
<line x1="42.5" y1="625.6" x2="50.6" y2="633.1" stroke="#E0E0E0" stroke-width="0.79"/>
<line x1="49.4" y1="623.1" x2="50.6" y2="633.1" stroke="#8C8C8C" stroke-width="2.20"/>
<line x1="49.4" y1="623.1" x2="50.6" y2="633.1" stroke="#BEBEBE" stroke-width="1.67"/>
<line x1="49.4" y1="623.1" x2="50.6" y2="633.1" stroke="#E0E0E0" stroke-width="0.79"/>
<line x1="57.2" y1="623.8" x2="50.6" y2="633.1" stroke="#8C8C8C" stroke-width="2.20"/>
<line x1="57.2" y1="623.8" x2="50.6" y2="633.1" stroke="#BEBEBE" stroke-width="1.67"/>
<line x1="57.2" y1="623.8" x2="50.6" y2="633.1" stroke="#E0E0E0" stroke-width="0.79"/>
<line x1="37.5" y1="632.2" x2="42.5" y2="635.0" stroke="#8C8C8C" stroke-width="2.20"/>
<line x1="37.5" y1="632.2" x2="42.5" y2="635.0" stroke="#BEBEBE" stroke-width="1.67"/>
<line x1="37.5" y1="632.2" x2="42.5" y2="635.0" stroke="#E0E0E0" stroke-width="0.79"/>
<line x1="42.5" y1="635.0" x2="50.6" y2="633.1" stroke="#8C8C8C" stroke-width="2.20"/>
<line x1="42.5" y1="635.0" x2="50.6" y2="633.1" stroke="#BEBEBE" stroke-width="1.67"/>
<line x1="42.5" y1="635.0" x2="50.6" y2="633.1" stroke="#E0E0E0" stroke-width="0.79"/>
<line x1="50.6" y1="633.1" x2="44.4" y2="641.0" stroke="#8C8C8C" stroke-width="2.20"/>
<line x1="50.6" y1="633.1" x2="44.4" y2="641.0" stroke="#BEBEBE" stroke-width="1.67"/>
<line x1="50.6" y1="633.1" x2="44.4" y2="641.0" stroke="#E0E0E0" stroke-width="0.79"/>
<line x1="50.6" y1="633.1" x2="60.0" y2="637.5" stroke="#8C8C8C" stroke-width="2.20"/>
<line x1="50.6" y1="633.1" x2="60.0" y2="637.5" stroke="#BEBEBE" stroke-width="1.67"/>
<line x1="50.6" y1="633.1" x2="60.0" y2="637.5" stroke="#E0E0E0" stroke-width="0.79"/>
<line x1="44.4" y1="641.0" x2="44.4" y2="646.2" stroke="#8C8C8C" stroke-width="2.20"/>
<line x1="44.4" y1="641.0" x2="44.4" y2="646.2" stroke="#BEBEBE" stroke-width="1.67"/>
<line x1="44.4" y1="641.0" x2="44.4" y2="646.2" stroke="#E0E0E0" stroke-width="0.79"/>
<line x1="100.0" y1="602.2" x2="100.6" y2="611.2" stroke="#8C8C8C" stroke-width="2.20"/>
<line x1="100.0" y1="602.2" x2="100.6" y2="611.2" stroke="#BEBEBE" stroke-width="1.67"/>
<line x1="100.0" y1="602.2" x2="100.6" y2="611.2" stroke="#E0E0E0" stroke-width="0.79"/>
<line x1="91.2" y1="618.1" x2="100.6" y2="611.2" stroke="#8C8C8C" stroke-width="2.20"/>
<line x1="91.2" y1="618.1" x2="100.6" y2="611.2" stroke="#BEBEBE" stroke-width="1.67"/>
<line x1="91.2" y1="618.1" x2="100.6" y2="611.2" stroke="#E0E0E0" stroke-width="0.79"/>
<line x1="100.6" y1="611.2" x2="105.6" y2="608.1" stroke="#8C8C8C" stroke-width="2.20"/>
<line x1="100.6" y1="611.2" x2="105.6" y2="608.1" stroke="#BEBEBE" stroke-width="1.67"/>
<line x1="100.6" y1="611.2" x2="105.6" y2="608.1" stroke="#E0E0E0" stroke-width="0.79"/>
<line x1="100.6" y1="611.2" x2="109.4" y2="618.5" stroke="#8C8C8C" stroke-width="2.20"/>
<line x1="100.6" y1="611.2" x2="109.4" y2="618.5" stroke="#BEBEBE" stroke-width="1.67"/>
<line x1="100.6" y1="611.2" x2="109.4" y2="618.5" stroke="#E0E0E0" stroke-width="0.79"/>
<line x1="109.4" y1="618.5" x2="114.4" y2="614.4" stroke="#8C8C8C" stroke-width="2.20"/>
<line x1="109.4" y1="618.5" x2="114.4" y2="614.4" stroke="#BEBEBE" stroke-width="1.67"/>
<line x1="109.4" y1="618.5" x2="114.4" y2="614.4" stroke="#E0E0E0" stroke-width="0.79"/>
<circle cx="73.1" cy="575.6" r="3.10" fill="url(#gO)"/>
<circle cx="78.8" cy="571.9" r="1.80" fill="url(#gH)"/>
<circle cx="79.4" cy="584.4" r="3.10" fill="url(#gO)"/>
<circle cx="75.0" cy="587.5" r="3.75" fill="url(#gS)"/>
<circle cx="84.8" cy="591.0" r="3.10" fill="url(#gO)"/>
<circle cx="87.5" cy="583.0" r="1.80" fill="url(#gH)"/>
<circle cx="66.2" cy="593.5" r="3.10" fill="url(#gO)"/>
<circle cx="64.4" cy="598.1" r="3.00" fill="url(#gN)"/>
<circle cx="81.0" cy="596.9" r="3.00" fill="url(#gN)"/>
<circle cx="72.5" cy="602.5" r="3.05" fill="url(#gC)"/>
<circle cx="65.6" cy="612.2" r="3.00" fill="url(#gN)"/>
<circle cx="73.8" cy="611.2" r="3.00" fill="url(#gN)"/>
<circle cx="82.5" cy="610.2" r="3.00" fill="url(#gN)"/>
<circle cx="74.4" cy="616.2" r="3.05" fill="url(#gC)"/>
<circle cx="75.0" cy="625.0" r="3.00" fill="url(#gN)"/>
<circle cx="47.5" cy="608.1" r="3.10" fill="url(#gO)"/>
<circle cx="33.8" cy="617.8" r="1.80" fill="url(#gH)"/>
<circle cx="39.4" cy="621.0" r="3.10" fill="url(#gO)"/>
<circle cx="47.5" cy="618.1" r="3.75" fill="url(#gS)"/>
<circle cx="42.5" cy="625.6" r="3.10" fill="url(#gO)"/>
<circle cx="49.4" cy="623.1" r="3.10" fill="url(#gO)"/>
<circle cx="57.2" cy="623.8" r="3.10" fill="url(#gO)"/>
<circle cx="37.5" cy="632.2" r="1.80" fill="url(#gH)"/>
<circle cx="42.5" cy="635.0" r="3.10" fill="url(#gO)"/>
<circle cx="50.6" cy="633.1" r="3.75" fill="url(#gS)"/>
<circle cx="44.4" cy="641.0" r="3.10" fill="url(#gO)"/>
<circle cx="44.4" cy="646.2" r="1.80" fill="url(#gH)"/>
<circle cx="60.0" cy="637.5" r="3.10" fill="url(#gO)"/>
<circle cx="100.0" cy="602.2" r="3.10" fill="url(#gO)"/>
<circle cx="91.2" cy="618.1" r="3.10" fill="url(#gO)"/>
<circle cx="92.5" cy="614.4" r="3.05" fill="url(#gC)"/>
<circle cx="100.6" cy="611.2" r="3.75" fill="url(#gS)"/>
<circle cx="105.6" cy="608.1" r="3.10" fill="url(#gO)"/>
<circle cx="109.4" cy="618.5" r="3.10" fill="url(#gO)"/>
<circle cx="114.4" cy="614.4" r="1.80" fill="url(#gH)"/>
<line x1="166.4" y1="611.3" x2="156.2" y2="604.4" stroke="#E2A4A4" stroke-width="1.1"/>
<line x1="173.8" y1="616.2" x2="166.4" y2="611.3" stroke="#B4B4B4" stroke-width="2.1"/>
<line x1="173.8" y1="616.2" x2="166.4" y2="611.3" stroke="#E6E6E6" stroke-width="1.0"/>
<circle cx="166.4" cy="611.3" r="1.5" fill="url(#gH)"/>
<line x1="171.8" y1="605.6" x2="162.2" y2="598.8" stroke="#E2A4A4" stroke-width="1.1"/>
<line x1="178.8" y1="610.6" x2="171.8" y2="605.6" stroke="#B4B4B4" stroke-width="2.1"/>
<line x1="178.8" y1="610.6" x2="171.8" y2="605.6" stroke="#E6E6E6" stroke-width="1.0"/>
<circle cx="171.8" cy="605.6" r="1.5" fill="url(#gH)"/>
<line x1="176.4" y1="595.5" x2="167.2" y2="587.5" stroke="#E2A4A4" stroke-width="1.1"/>
<line x1="183.1" y1="601.2" x2="176.4" y2="595.5" stroke="#B4B4B4" stroke-width="2.1"/>
<line x1="183.1" y1="601.2" x2="176.4" y2="595.5" stroke="#E6E6E6" stroke-width="1.0"/>
<circle cx="176.4" cy="595.5" r="1.5" fill="url(#gH)"/>
<line x1="181.8" y1="589.5" x2="173.1" y2="581.9" stroke="#E2A4A4" stroke-width="1.1"/>
<line x1="188.1" y1="595.0" x2="181.8" y2="589.5" stroke="#B4B4B4" stroke-width="2.1"/>
<line x1="188.1" y1="595.0" x2="181.8" y2="589.5" stroke="#E6E6E6" stroke-width="1.0"/>
<circle cx="181.8" cy="589.5" r="1.5" fill="url(#gH)"/>
<line x1="176.3" y1="623.0" x2="179.8" y2="632.2" stroke="#E2A4A4" stroke-width="1.1"/>
<line x1="173.8" y1="616.2" x2="176.3" y2="623.0" stroke="#B4B4B4" stroke-width="2.1"/>
<line x1="173.8" y1="616.2" x2="176.3" y2="623.0" stroke="#E6E6E6" stroke-width="1.0"/>
<circle cx="176.3" cy="623.0" r="1.5" fill="url(#gH)"/>
<line x1="195.3" y1="623.2" x2="200.0" y2="631.9" stroke="#E2A4A4" stroke-width="1.1"/>
<line x1="191.9" y1="616.9" x2="195.3" y2="623.2" stroke="#B4B4B4" stroke-width="2.1"/>
<line x1="191.9" y1="616.9" x2="195.3" y2="623.2" stroke="#E6E6E6" stroke-width="1.0"/>
<circle cx="195.3" cy="623.2" r="1.5" fill="url(#gH)"/>
<line x1="152.5" y1="575.0" x2="152.2" y2="582.2" stroke="#8C8C8C" stroke-width="2.20"/>
<line x1="152.5" y1="575.0" x2="152.2" y2="582.2" stroke="#BEBEBE" stroke-width="1.67"/>
<line x1="152.5" y1="575.0" x2="152.2" y2="582.2" stroke="#E0E0E0" stroke-width="0.79"/>
<line x1="146.9" y1="580.0" x2="152.2" y2="582.2" stroke="#8C8C8C" stroke-width="2.20"/>
<line x1="146.9" y1="580.0" x2="152.2" y2="582.2" stroke="#BEBEBE" stroke-width="1.67"/>
<line x1="146.9" y1="580.0" x2="152.2" y2="582.2" stroke="#E0E0E0" stroke-width="0.79"/>
<line x1="146.9" y1="580.0" x2="146.2" y2="587.8" stroke="#8C8C8C" stroke-width="2.20"/>
<line x1="146.9" y1="580.0" x2="146.2" y2="587.8" stroke="#BEBEBE" stroke-width="1.67"/>
<line x1="146.9" y1="580.0" x2="146.2" y2="587.8" stroke="#E0E0E0" stroke-width="0.79"/>
<line x1="152.2" y1="582.2" x2="163.1" y2="586.9" stroke="#8C8C8C" stroke-width="2.20"/>
<line x1="152.2" y1="582.2" x2="163.1" y2="586.9" stroke="#BEBEBE" stroke-width="1.67"/>
<line x1="152.2" y1="582.2" x2="163.1" y2="586.9" stroke="#E0E0E0" stroke-width="0.79"/>
<line x1="152.2" y1="582.2" x2="156.9" y2="593.1" stroke="#8C8C8C" stroke-width="2.20"/>
<line x1="152.2" y1="582.2" x2="156.9" y2="593.1" stroke="#BEBEBE" stroke-width="1.67"/>
<line x1="152.2" y1="582.2" x2="156.9" y2="593.1" stroke="#E0E0E0" stroke-width="0.79"/>
<line x1="160.0" y1="582.5" x2="163.1" y2="586.9" stroke="#8C8C8C" stroke-width="2.20"/>
<line x1="160.0" y1="582.5" x2="163.1" y2="586.9" stroke="#BEBEBE" stroke-width="1.67"/>
<line x1="160.0" y1="582.5" x2="163.1" y2="586.9" stroke="#E0E0E0" stroke-width="0.79"/>
<line x1="160.0" y1="582.5" x2="156.9" y2="593.1" stroke="#8C8C8C" stroke-width="2.20"/>
<line x1="160.0" y1="582.5" x2="156.9" y2="593.1" stroke="#BEBEBE" stroke-width="1.67"/>
<line x1="160.0" y1="582.5" x2="156.9" y2="593.1" stroke="#E0E0E0" stroke-width="0.79"/>
<line x1="146.2" y1="587.8" x2="156.9" y2="593.1" stroke="#8C8C8C" stroke-width="2.20"/>
<line x1="146.2" y1="587.8" x2="156.9" y2="593.1" stroke="#BEBEBE" stroke-width="1.67"/>
<line x1="146.2" y1="587.8" x2="156.9" y2="593.1" stroke="#E0E0E0" stroke-width="0.79"/>
<line x1="163.1" y1="586.9" x2="154.8" y2="588.1" stroke="#8C8C8C" stroke-width="2.20"/>
<line x1="163.1" y1="586.9" x2="154.8" y2="588.1" stroke="#BEBEBE" stroke-width="1.67"/>
<line x1="163.1" y1="586.9" x2="154.8" y2="588.1" stroke="#E0E0E0" stroke-width="0.79"/>
<line x1="163.1" y1="586.9" x2="167.2" y2="587.5" stroke="#8C8C8C" stroke-width="2.20"/>
<line x1="163.1" y1="586.9" x2="167.2" y2="587.5" stroke="#BEBEBE" stroke-width="1.67"/>
<line x1="163.1" y1="586.9" x2="167.2" y2="587.5" stroke="#E0E0E0" stroke-width="0.79"/>
<line x1="163.1" y1="586.9" x2="173.1" y2="581.9" stroke="#8C8C8C" stroke-width="2.20"/>
<line x1="163.1" y1="586.9" x2="173.1" y2="581.9" stroke="#BEBEBE" stroke-width="1.67"/>
<line x1="163.1" y1="586.9" x2="173.1" y2="581.9" stroke="#E0E0E0" stroke-width="0.79"/>
<line x1="163.1" y1="586.9" x2="162.2" y2="598.8" stroke="#8C8C8C" stroke-width="2.20"/>
<line x1="163.1" y1="586.9" x2="162.2" y2="598.8" stroke="#BEBEBE" stroke-width="1.67"/>
<line x1="163.1" y1="586.9" x2="162.2" y2="598.8" stroke="#E0E0E0" stroke-width="0.79"/>
<line x1="154.8" y1="588.1" x2="156.9" y2="593.1" stroke="#8C8C8C" stroke-width="2.20"/>
<line x1="154.8" y1="588.1" x2="156.9" y2="593.1" stroke="#BEBEBE" stroke-width="1.67"/>
<line x1="154.8" y1="588.1" x2="156.9" y2="593.1" stroke="#E0E0E0" stroke-width="0.79"/>
<line x1="167.2" y1="587.5" x2="156.9" y2="593.1" stroke="#8C8C8C" stroke-width="2.20"/>
<line x1="167.2" y1="587.5" x2="156.9" y2="593.1" stroke="#BEBEBE" stroke-width="1.67"/>
<line x1="167.2" y1="587.5" x2="156.9" y2="593.1" stroke="#E0E0E0" stroke-width="0.79"/>
<line x1="156.9" y1="593.1" x2="162.2" y2="598.8" stroke="#8C8C8C" stroke-width="2.20"/>
<line x1="156.9" y1="593.1" x2="162.2" y2="598.8" stroke="#BEBEBE" stroke-width="1.67"/>
<line x1="156.9" y1="593.1" x2="162.2" y2="598.8" stroke="#E0E0E0" stroke-width="0.79"/>
<line x1="156.9" y1="593.1" x2="156.2" y2="604.4" stroke="#8C8C8C" stroke-width="2.20"/>
<line x1="156.9" y1="593.1" x2="156.2" y2="604.4" stroke="#BEBEBE" stroke-width="1.67"/>
<line x1="156.9" y1="593.1" x2="156.2" y2="604.4" stroke="#E0E0E0" stroke-width="0.79"/>
<line x1="197.5" y1="582.5" x2="198.8" y2="590.0" stroke="#8C8C8C" stroke-width="2.20"/>
<line x1="197.5" y1="582.5" x2="198.8" y2="590.0" stroke="#BEBEBE" stroke-width="1.67"/>
<line x1="197.5" y1="582.5" x2="198.8" y2="590.0" stroke="#E0E0E0" stroke-width="0.79"/>
<line x1="191.0" y1="586.9" x2="198.8" y2="590.0" stroke="#8C8C8C" stroke-width="2.20"/>
<line x1="191.0" y1="586.9" x2="198.8" y2="590.0" stroke="#BEBEBE" stroke-width="1.67"/>
<line x1="191.0" y1="586.9" x2="198.8" y2="590.0" stroke="#E0E0E0" stroke-width="0.79"/>
<line x1="191.0" y1="586.9" x2="188.1" y2="595.0" stroke="#8C8C8C" stroke-width="2.20"/>
<line x1="191.0" y1="586.9" x2="188.1" y2="595.0" stroke="#BEBEBE" stroke-width="1.67"/>
<line x1="191.0" y1="586.9" x2="188.1" y2="595.0" stroke="#E0E0E0" stroke-width="0.79"/>
<line x1="191.0" y1="586.9" x2="193.1" y2="595.0" stroke="#8C8C8C" stroke-width="2.20"/>
<line x1="191.0" y1="586.9" x2="193.1" y2="595.0" stroke="#BEBEBE" stroke-width="1.67"/>
<line x1="191.0" y1="586.9" x2="193.1" y2="595.0" stroke="#E0E0E0" stroke-width="0.79"/>
<line x1="198.8" y1="590.0" x2="188.1" y2="595.0" stroke="#8C8C8C" stroke-width="2.20"/>
<line x1="198.8" y1="590.0" x2="188.1" y2="595.0" stroke="#BEBEBE" stroke-width="1.67"/>
<line x1="198.8" y1="590.0" x2="188.1" y2="595.0" stroke="#E0E0E0" stroke-width="0.79"/>
<line x1="198.8" y1="590.0" x2="193.1" y2="595.0" stroke="#8C8C8C" stroke-width="2.20"/>
<line x1="198.8" y1="590.0" x2="193.1" y2="595.0" stroke="#BEBEBE" stroke-width="1.67"/>
<line x1="198.8" y1="590.0" x2="193.1" y2="595.0" stroke="#E0E0E0" stroke-width="0.79"/>
<line x1="188.1" y1="595.0" x2="193.1" y2="595.0" stroke="#8C8C8C" stroke-width="2.20"/>
<line x1="188.1" y1="595.0" x2="193.1" y2="595.0" stroke="#BEBEBE" stroke-width="1.67"/>
<line x1="188.1" y1="595.0" x2="193.1" y2="595.0" stroke="#E0E0E0" stroke-width="0.79"/>
<line x1="188.1" y1="595.0" x2="189.0" y2="606.0" stroke="#8C8C8C" stroke-width="2.20"/>
<line x1="188.1" y1="595.0" x2="189.0" y2="606.0" stroke="#BEBEBE" stroke-width="1.67"/>
<line x1="188.1" y1="595.0" x2="189.0" y2="606.0" stroke="#E0E0E0" stroke-width="0.79"/>
<line x1="193.1" y1="595.0" x2="183.1" y2="601.2" stroke="#8C8C8C" stroke-width="2.20"/>
<line x1="193.1" y1="595.0" x2="183.1" y2="601.2" stroke="#BEBEBE" stroke-width="1.67"/>
<line x1="193.1" y1="595.0" x2="183.1" y2="601.2" stroke="#E0E0E0" stroke-width="0.79"/>
<line x1="193.1" y1="595.0" x2="189.0" y2="606.0" stroke="#8C8C8C" stroke-width="2.20"/>
<line x1="193.1" y1="595.0" x2="189.0" y2="606.0" stroke="#BEBEBE" stroke-width="1.67"/>
<line x1="193.1" y1="595.0" x2="189.0" y2="606.0" stroke="#E0E0E0" stroke-width="0.79"/>
<line x1="183.1" y1="601.2" x2="189.0" y2="606.0" stroke="#8C8C8C" stroke-width="2.20"/>
<line x1="183.1" y1="601.2" x2="189.0" y2="606.0" stroke="#BEBEBE" stroke-width="1.67"/>
<line x1="183.1" y1="601.2" x2="189.0" y2="606.0" stroke="#E0E0E0" stroke-width="0.79"/>
<line x1="183.1" y1="601.2" x2="183.8" y2="611.2" stroke="#8C8C8C" stroke-width="2.20"/>
<line x1="183.1" y1="601.2" x2="183.8" y2="611.2" stroke="#BEBEBE" stroke-width="1.67"/>
<line x1="183.1" y1="601.2" x2="183.8" y2="611.2" stroke="#E0E0E0" stroke-width="0.79"/>
<line x1="189.0" y1="606.0" x2="178.8" y2="610.6" stroke="#8C8C8C" stroke-width="2.20"/>
<line x1="189.0" y1="606.0" x2="178.8" y2="610.6" stroke="#BEBEBE" stroke-width="1.67"/>
<line x1="189.0" y1="606.0" x2="178.8" y2="610.6" stroke="#E0E0E0" stroke-width="0.79"/>
<line x1="189.0" y1="606.0" x2="183.8" y2="611.2" stroke="#8C8C8C" stroke-width="2.20"/>
<line x1="189.0" y1="606.0" x2="183.8" y2="611.2" stroke="#BEBEBE" stroke-width="1.67"/>
<line x1="189.0" y1="606.0" x2="183.8" y2="611.2" stroke="#E0E0E0" stroke-width="0.79"/>
<line x1="189.0" y1="606.0" x2="198.1" y2="610.6" stroke="#8C8C8C" stroke-width="2.20"/>
<line x1="189.0" y1="606.0" x2="198.1" y2="610.6" stroke="#BEBEBE" stroke-width="1.67"/>
<line x1="189.0" y1="606.0" x2="198.1" y2="610.6" stroke="#E0E0E0" stroke-width="0.79"/>
<line x1="189.0" y1="606.0" x2="191.9" y2="616.9" stroke="#8C8C8C" stroke-width="2.20"/>
<line x1="189.0" y1="606.0" x2="191.9" y2="616.9" stroke="#BEBEBE" stroke-width="1.67"/>
<line x1="189.0" y1="606.0" x2="191.9" y2="616.9" stroke="#E0E0E0" stroke-width="0.79"/>
<line x1="178.8" y1="610.6" x2="183.8" y2="611.2" stroke="#8C8C8C" stroke-width="2.20"/>
<line x1="178.8" y1="610.6" x2="183.8" y2="611.2" stroke="#BEBEBE" stroke-width="1.67"/>
<line x1="178.8" y1="610.6" x2="183.8" y2="611.2" stroke="#E0E0E0" stroke-width="0.79"/>
<line x1="183.8" y1="611.2" x2="173.8" y2="616.2" stroke="#8C8C8C" stroke-width="2.20"/>
<line x1="183.8" y1="611.2" x2="173.8" y2="616.2" stroke="#BEBEBE" stroke-width="1.67"/>
<line x1="183.8" y1="611.2" x2="173.8" y2="616.2" stroke="#E0E0E0" stroke-width="0.79"/>
<line x1="183.8" y1="611.2" x2="191.9" y2="616.9" stroke="#8C8C8C" stroke-width="2.20"/>
<line x1="183.8" y1="611.2" x2="191.9" y2="616.9" stroke="#BEBEBE" stroke-width="1.67"/>
<line x1="183.8" y1="611.2" x2="191.9" y2="616.9" stroke="#E0E0E0" stroke-width="0.79"/>
<line x1="198.1" y1="610.6" x2="204.4" y2="606.9" stroke="#8C8C8C" stroke-width="2.20"/>
<line x1="198.1" y1="610.6" x2="204.4" y2="606.9" stroke="#BEBEBE" stroke-width="1.67"/>
<line x1="198.1" y1="610.6" x2="204.4" y2="606.9" stroke="#E0E0E0" stroke-width="0.79"/>
<line x1="179.8" y1="632.2" x2="188.8" y2="636.9" stroke="#8C8C8C" stroke-width="2.20"/>
<line x1="179.8" y1="632.2" x2="188.8" y2="636.9" stroke="#BEBEBE" stroke-width="1.67"/>
<line x1="179.8" y1="632.2" x2="188.8" y2="636.9" stroke="#E0E0E0" stroke-width="0.79"/>
<line x1="179.8" y1="632.2" x2="183.8" y2="643.1" stroke="#8C8C8C" stroke-width="2.20"/>
<line x1="179.8" y1="632.2" x2="183.8" y2="643.1" stroke="#BEBEBE" stroke-width="1.67"/>
<line x1="179.8" y1="632.2" x2="183.8" y2="643.1" stroke="#E0E0E0" stroke-width="0.79"/>
<line x1="200.0" y1="631.9" x2="188.8" y2="636.9" stroke="#8C8C8C" stroke-width="2.20"/>
<line x1="200.0" y1="631.9" x2="188.8" y2="636.9" stroke="#BEBEBE" stroke-width="1.67"/>
<line x1="200.0" y1="631.9" x2="188.8" y2="636.9" stroke="#E0E0E0" stroke-width="0.79"/>
<line x1="173.8" y1="637.5" x2="188.8" y2="636.9" stroke="#8C8C8C" stroke-width="2.20"/>
<line x1="173.8" y1="637.5" x2="188.8" y2="636.9" stroke="#BEBEBE" stroke-width="1.67"/>
<line x1="173.8" y1="637.5" x2="188.8" y2="636.9" stroke="#E0E0E0" stroke-width="0.79"/>
<line x1="173.8" y1="637.5" x2="183.8" y2="643.1" stroke="#8C8C8C" stroke-width="2.20"/>
<line x1="173.8" y1="637.5" x2="183.8" y2="643.1" stroke="#BEBEBE" stroke-width="1.67"/>
<line x1="173.8" y1="637.5" x2="183.8" y2="643.1" stroke="#E0E0E0" stroke-width="0.79"/>
<line x1="188.8" y1="636.9" x2="194.4" y2="637.5" stroke="#8C8C8C" stroke-width="2.20"/>
<line x1="188.8" y1="636.9" x2="194.4" y2="637.5" stroke="#BEBEBE" stroke-width="1.67"/>
<line x1="188.8" y1="636.9" x2="194.4" y2="637.5" stroke="#E0E0E0" stroke-width="0.79"/>
<line x1="188.8" y1="636.9" x2="190.0" y2="646.9" stroke="#8C8C8C" stroke-width="2.20"/>
<line x1="188.8" y1="636.9" x2="190.0" y2="646.9" stroke="#BEBEBE" stroke-width="1.67"/>
<line x1="188.8" y1="636.9" x2="190.0" y2="646.9" stroke="#E0E0E0" stroke-width="0.79"/>
<line x1="194.4" y1="637.5" x2="183.8" y2="643.1" stroke="#8C8C8C" stroke-width="2.20"/>
<line x1="194.4" y1="637.5" x2="183.8" y2="643.1" stroke="#BEBEBE" stroke-width="1.67"/>
<line x1="194.4" y1="637.5" x2="183.8" y2="643.1" stroke="#E0E0E0" stroke-width="0.79"/>
<line x1="183.8" y1="643.1" x2="190.0" y2="646.9" stroke="#8C8C8C" stroke-width="2.20"/>
<line x1="183.8" y1="643.1" x2="190.0" y2="646.9" stroke="#BEBEBE" stroke-width="1.67"/>
<line x1="183.8" y1="643.1" x2="190.0" y2="646.9" stroke="#E0E0E0" stroke-width="0.79"/>
<line x1="183.8" y1="643.1" x2="184.4" y2="652.5" stroke="#8C8C8C" stroke-width="2.20"/>
<line x1="183.8" y1="643.1" x2="184.4" y2="652.5" stroke="#BEBEBE" stroke-width="1.67"/>
<line x1="183.8" y1="643.1" x2="184.4" y2="652.5" stroke="#E0E0E0" stroke-width="0.79"/>
<line x1="190.0" y1="646.9" x2="196.2" y2="651.2" stroke="#8C8C8C" stroke-width="2.20"/>
<line x1="190.0" y1="646.9" x2="196.2" y2="651.2" stroke="#BEBEBE" stroke-width="1.67"/>
<line x1="190.0" y1="646.9" x2="196.2" y2="651.2" stroke="#E0E0E0" stroke-width="0.79"/>
<line x1="184.4" y1="652.5" x2="177.5" y2="653.8" stroke="#8C8C8C" stroke-width="2.20"/>
<line x1="184.4" y1="652.5" x2="177.5" y2="653.8" stroke="#BEBEBE" stroke-width="1.67"/>
<line x1="184.4" y1="652.5" x2="177.5" y2="653.8" stroke="#E0E0E0" stroke-width="0.79"/>
<line x1="184.4" y1="652.5" x2="190.6" y2="656.2" stroke="#8C8C8C" stroke-width="2.20"/>
<line x1="184.4" y1="652.5" x2="190.6" y2="656.2" stroke="#BEBEBE" stroke-width="1.67"/>
<line x1="184.4" y1="652.5" x2="190.6" y2="656.2" stroke="#E0E0E0" stroke-width="0.79"/>
<circle cx="152.5" cy="575.0" r="1.80" fill="url(#gH)"/>
<circle cx="146.9" cy="580.0" r="1.80" fill="url(#gH)"/>
<circle cx="152.2" cy="582.2" r="3.10" fill="url(#gO)"/>
<circle cx="160.0" cy="582.5" r="3.10" fill="url(#gO)"/>
<circle cx="146.2" cy="587.8" r="3.10" fill="url(#gO)"/>
<circle cx="163.1" cy="586.9" r="3.75" fill="url(#gS)"/>
<circle cx="154.8" cy="588.1" r="3.10" fill="url(#gO)"/>
<circle cx="167.2" cy="587.5" r="3.10" fill="url(#gO)"/>
<circle cx="173.1" cy="581.9" r="3.10" fill="url(#gO)"/>
<circle cx="156.9" cy="593.1" r="3.75" fill="url(#gS)"/>
<circle cx="162.2" cy="598.8" r="3.10" fill="url(#gO)"/>
<circle cx="156.2" cy="604.4" r="3.10" fill="url(#gO)"/>
<circle cx="197.5" cy="582.5" r="1.80" fill="url(#gH)"/>
<circle cx="191.0" cy="586.9" r="1.80" fill="url(#gH)"/>
<circle cx="198.8" cy="590.0" r="3.05" fill="url(#gC)"/>
<circle cx="188.1" cy="595.0" r="3.00" fill="url(#gN)"/>
<circle cx="193.1" cy="595.0" r="3.05" fill="url(#gC)"/>
<circle cx="183.1" cy="601.2" r="3.00" fill="url(#gN)"/>
<circle cx="189.0" cy="606.0" r="3.05" fill="url(#gC)"/>
<circle cx="178.8" cy="610.6" r="3.00" fill="url(#gN)"/>
<circle cx="183.8" cy="611.2" r="3.05" fill="url(#gC)"/>
<circle cx="198.1" cy="610.6" r="3.00" fill="url(#gN)"/>
<circle cx="204.4" cy="606.9" r="1.80" fill="url(#gH)"/>
<circle cx="173.8" cy="616.2" r="3.00" fill="url(#gN)"/>
<circle cx="191.9" cy="616.9" r="3.00" fill="url(#gN)"/>
<circle cx="179.8" cy="632.2" r="3.10" fill="url(#gO)"/>
<circle cx="200.0" cy="631.9" r="3.10" fill="url(#gO)"/>
<circle cx="173.8" cy="637.5" r="3.10" fill="url(#gO)"/>
<circle cx="188.8" cy="636.9" r="3.75" fill="url(#gS)"/>
<circle cx="194.4" cy="637.5" r="3.10" fill="url(#gO)"/>
<circle cx="183.8" cy="643.1" r="3.75" fill="url(#gS)"/>
<circle cx="190.0" cy="646.9" r="3.10" fill="url(#gO)"/>
<circle cx="184.4" cy="652.5" r="3.10" fill="url(#gO)"/>
<circle cx="177.5" cy="653.8" r="1.80" fill="url(#gH)"/>
<circle cx="196.2" cy="651.2" r="1.80" fill="url(#gH)"/>
<circle cx="190.6" cy="656.2" r="1.80" fill="url(#gH)"/>
<line x1="332.8" y1="617.3" x2="325.2" y2="609.7" stroke="#E2A4A4" stroke-width="1.1"/>
<line x1="338.2" y1="622.8" x2="332.8" y2="617.3" stroke="#B4B4B4" stroke-width="2.1"/>
<line x1="338.2" y1="622.8" x2="332.8" y2="617.3" stroke="#E6E6E6" stroke-width="1.0"/>
<circle cx="332.8" cy="617.3" r="1.5" fill="url(#gH)"/>
<line x1="343.7" y1="604.6" x2="336.8" y2="596.2" stroke="#E2A4A4" stroke-width="1.1"/>
<line x1="348.8" y1="610.8" x2="343.7" y2="604.6" stroke="#B4B4B4" stroke-width="2.1"/>
<line x1="348.8" y1="610.8" x2="343.7" y2="604.6" stroke="#E6E6E6" stroke-width="1.0"/>
<circle cx="343.7" cy="604.6" r="1.5" fill="url(#gH)"/>
<line x1="355.7" y1="594.5" x2="359.0" y2="583.8" stroke="#E2A4A4" stroke-width="1.1"/>
<line x1="353.2" y1="602.2" x2="355.7" y2="594.5" stroke="#B4B4B4" stroke-width="2.1"/>
<line x1="353.2" y1="602.2" x2="355.7" y2="594.5" stroke="#E6E6E6" stroke-width="1.0"/>
<circle cx="355.7" cy="594.5" r="1.5" fill="url(#gH)"/>
<line x1="370.6" y1="602.0" x2="373.8" y2="591.2" stroke="#E2A4A4" stroke-width="1.1"/>
<line x1="368.2" y1="609.7" x2="370.6" y2="602.0" stroke="#B4B4B4" stroke-width="2.1"/>
<line x1="368.2" y1="609.7" x2="370.6" y2="602.0" stroke="#E6E6E6" stroke-width="1.0"/>
<circle cx="370.6" cy="602.0" r="1.5" fill="url(#gH)"/>
<line x1="373.6" y1="616.4" x2="381.0" y2="625.8" stroke="#E2A4A4" stroke-width="1.1"/>
<line x1="368.2" y1="609.7" x2="373.6" y2="616.4" stroke="#B4B4B4" stroke-width="2.1"/>
<line x1="368.2" y1="609.7" x2="373.6" y2="616.4" stroke="#E6E6E6" stroke-width="1.0"/>
<circle cx="373.6" cy="616.4" r="1.5" fill="url(#gH)"/>
<line x1="358.9" y1="629.8" x2="366.0" y2="635.5" stroke="#E2A4A4" stroke-width="1.1"/>
<line x1="353.7" y1="625.8" x2="358.9" y2="629.8" stroke="#B4B4B4" stroke-width="2.1"/>
<line x1="353.7" y1="625.8" x2="358.9" y2="629.8" stroke="#E6E6E6" stroke-width="1.0"/>
<circle cx="358.9" cy="629.8" r="1.5" fill="url(#gH)"/>
<line x1="336.5" y1="631.3" x2="334.2" y2="643.0" stroke="#E2A4A4" stroke-width="1.1"/>
<line x1="338.2" y1="622.8" x2="336.5" y2="631.3" stroke="#B4B4B4" stroke-width="2.1"/>
<line x1="338.2" y1="622.8" x2="336.5" y2="631.3" stroke="#E6E6E6" stroke-width="1.0"/>
<circle cx="336.5" cy="631.3" r="1.5" fill="url(#gH)"/>
<line x1="352.9" y1="633.9" x2="351.8" y2="645.2" stroke="#E2A4A4" stroke-width="1.1"/>
<line x1="353.7" y1="625.8" x2="352.9" y2="633.9" stroke="#B4B4B4" stroke-width="2.1"/>
<line x1="353.7" y1="625.8" x2="352.9" y2="633.9" stroke="#E6E6E6" stroke-width="1.0"/>
<circle cx="352.9" cy="633.9" r="1.5" fill="url(#gH)"/>
<line x1="372.0" y1="568.0" x2="375.8" y2="574.3" stroke="#8C8C8C" stroke-width="2.20"/>
<line x1="372.0" y1="568.0" x2="375.8" y2="574.3" stroke="#BEBEBE" stroke-width="1.67"/>
<line x1="372.0" y1="568.0" x2="375.8" y2="574.3" stroke="#E0E0E0" stroke-width="0.79"/>
<line x1="375.8" y1="574.3" x2="368.2" y2="582.2" stroke="#8C8C8C" stroke-width="2.20"/>
<line x1="375.8" y1="574.3" x2="368.2" y2="582.2" stroke="#BEBEBE" stroke-width="1.67"/>
<line x1="375.8" y1="574.3" x2="368.2" y2="582.2" stroke="#E0E0E0" stroke-width="0.79"/>
<line x1="363.8" y1="576.2" x2="368.2" y2="582.2" stroke="#8C8C8C" stroke-width="2.20"/>
<line x1="363.8" y1="576.2" x2="368.2" y2="582.2" stroke="#BEBEBE" stroke-width="1.67"/>
<line x1="363.8" y1="576.2" x2="368.2" y2="582.2" stroke="#E0E0E0" stroke-width="0.79"/>
<line x1="368.2" y1="582.2" x2="359.0" y2="583.8" stroke="#8C8C8C" stroke-width="2.20"/>
<line x1="368.2" y1="582.2" x2="359.0" y2="583.8" stroke="#BEBEBE" stroke-width="1.67"/>
<line x1="368.2" y1="582.2" x2="359.0" y2="583.8" stroke="#E0E0E0" stroke-width="0.79"/>
<line x1="368.2" y1="582.2" x2="373.8" y2="591.2" stroke="#8C8C8C" stroke-width="2.20"/>
<line x1="368.2" y1="582.2" x2="373.8" y2="591.2" stroke="#BEBEBE" stroke-width="1.67"/>
<line x1="368.2" y1="582.2" x2="373.8" y2="591.2" stroke="#E0E0E0" stroke-width="0.79"/>
<line x1="319.2" y1="585.2" x2="317.2" y2="592.3" stroke="#8C8C8C" stroke-width="2.20"/>
<line x1="319.2" y1="585.2" x2="317.2" y2="592.3" stroke="#BEBEBE" stroke-width="1.67"/>
<line x1="319.2" y1="585.2" x2="317.2" y2="592.3" stroke="#E0E0E0" stroke-width="0.79"/>
<line x1="317.2" y1="592.3" x2="326.7" y2="600.2" stroke="#8C8C8C" stroke-width="2.20"/>
<line x1="317.2" y1="592.3" x2="326.7" y2="600.2" stroke="#BEBEBE" stroke-width="1.67"/>
<line x1="317.2" y1="592.3" x2="326.7" y2="600.2" stroke="#E0E0E0" stroke-width="0.79"/>
<line x1="328.5" y1="595.8" x2="326.7" y2="600.2" stroke="#8C8C8C" stroke-width="2.20"/>
<line x1="328.5" y1="595.8" x2="326.7" y2="600.2" stroke="#BEBEBE" stroke-width="1.67"/>
<line x1="328.5" y1="595.8" x2="326.7" y2="600.2" stroke="#E0E0E0" stroke-width="0.79"/>
<line x1="336.8" y1="596.2" x2="326.7" y2="600.2" stroke="#8C8C8C" stroke-width="2.20"/>
<line x1="336.8" y1="596.2" x2="326.7" y2="600.2" stroke="#BEBEBE" stroke-width="1.67"/>
<line x1="336.8" y1="596.2" x2="326.7" y2="600.2" stroke="#E0E0E0" stroke-width="0.79"/>
<line x1="326.7" y1="600.2" x2="325.2" y2="609.7" stroke="#8C8C8C" stroke-width="2.20"/>
<line x1="326.7" y1="600.2" x2="325.2" y2="609.7" stroke="#BEBEBE" stroke-width="1.67"/>
<line x1="326.7" y1="600.2" x2="325.2" y2="609.7" stroke="#E0E0E0" stroke-width="0.79"/>
<line x1="343.5" y1="602.5" x2="353.2" y2="602.2" stroke="#8C8C8C" stroke-width="2.20"/>
<line x1="343.5" y1="602.5" x2="353.2" y2="602.2" stroke="#BEBEBE" stroke-width="1.67"/>
<line x1="343.5" y1="602.5" x2="353.2" y2="602.2" stroke="#E0E0E0" stroke-width="0.79"/>
<line x1="343.5" y1="602.5" x2="348.8" y2="610.8" stroke="#8C8C8C" stroke-width="2.20"/>
<line x1="343.5" y1="602.5" x2="348.8" y2="610.8" stroke="#BEBEBE" stroke-width="1.67"/>
<line x1="343.5" y1="602.5" x2="348.8" y2="610.8" stroke="#E0E0E0" stroke-width="0.79"/>
<line x1="353.2" y1="602.2" x2="359.2" y2="608.5" stroke="#8C8C8C" stroke-width="2.20"/>
<line x1="353.2" y1="602.2" x2="359.2" y2="608.5" stroke="#BEBEBE" stroke-width="1.67"/>
<line x1="353.2" y1="602.2" x2="359.2" y2="608.5" stroke="#E0E0E0" stroke-width="0.79"/>
<line x1="359.2" y1="608.5" x2="368.2" y2="609.7" stroke="#8C8C8C" stroke-width="2.20"/>
<line x1="359.2" y1="608.5" x2="368.2" y2="609.7" stroke="#BEBEBE" stroke-width="1.67"/>
<line x1="359.2" y1="608.5" x2="368.2" y2="609.7" stroke="#E0E0E0" stroke-width="0.79"/>
<line x1="359.2" y1="608.5" x2="348.8" y2="610.8" stroke="#8C8C8C" stroke-width="2.20"/>
<line x1="359.2" y1="608.5" x2="348.8" y2="610.8" stroke="#BEBEBE" stroke-width="1.67"/>
<line x1="359.2" y1="608.5" x2="348.8" y2="610.8" stroke="#E0E0E0" stroke-width="0.79"/>
<line x1="359.2" y1="608.5" x2="355.5" y2="617.5" stroke="#8C8C8C" stroke-width="2.20"/>
<line x1="359.2" y1="608.5" x2="355.5" y2="617.5" stroke="#BEBEBE" stroke-width="1.67"/>
<line x1="359.2" y1="608.5" x2="355.5" y2="617.5" stroke="#E0E0E0" stroke-width="0.79"/>
<line x1="348.8" y1="610.8" x2="346.5" y2="620.2" stroke="#8C8C8C" stroke-width="2.20"/>
<line x1="348.8" y1="610.8" x2="346.5" y2="620.2" stroke="#BEBEBE" stroke-width="1.67"/>
<line x1="348.8" y1="610.8" x2="346.5" y2="620.2" stroke="#E0E0E0" stroke-width="0.79"/>
<line x1="355.5" y1="617.5" x2="346.5" y2="620.2" stroke="#8C8C8C" stroke-width="2.20"/>
<line x1="355.5" y1="617.5" x2="346.5" y2="620.2" stroke="#BEBEBE" stroke-width="1.67"/>
<line x1="355.5" y1="617.5" x2="346.5" y2="620.2" stroke="#E0E0E0" stroke-width="0.79"/>
<line x1="346.5" y1="620.2" x2="338.2" y2="622.8" stroke="#8C8C8C" stroke-width="2.20"/>
<line x1="346.5" y1="620.2" x2="338.2" y2="622.8" stroke="#BEBEBE" stroke-width="1.67"/>
<line x1="346.5" y1="620.2" x2="338.2" y2="622.8" stroke="#E0E0E0" stroke-width="0.79"/>
<line x1="346.5" y1="620.2" x2="353.7" y2="625.8" stroke="#8C8C8C" stroke-width="2.20"/>
<line x1="346.5" y1="620.2" x2="353.7" y2="625.8" stroke="#BEBEBE" stroke-width="1.67"/>
<line x1="346.5" y1="620.2" x2="353.7" y2="625.8" stroke="#E0E0E0" stroke-width="0.79"/>
<line x1="381.0" y1="625.8" x2="377.2" y2="634.8" stroke="#8C8C8C" stroke-width="2.20"/>
<line x1="381.0" y1="625.8" x2="377.2" y2="634.8" stroke="#BEBEBE" stroke-width="1.67"/>
<line x1="381.0" y1="625.8" x2="377.2" y2="634.8" stroke="#E0E0E0" stroke-width="0.79"/>
<line x1="366.0" y1="635.5" x2="377.2" y2="634.8" stroke="#8C8C8C" stroke-width="2.20"/>
<line x1="366.0" y1="635.5" x2="377.2" y2="634.8" stroke="#BEBEBE" stroke-width="1.67"/>
<line x1="366.0" y1="635.5" x2="377.2" y2="634.8" stroke="#E0E0E0" stroke-width="0.79"/>
<line x1="377.2" y1="634.8" x2="385.2" y2="640.0" stroke="#8C8C8C" stroke-width="2.20"/>
<line x1="377.2" y1="634.8" x2="385.2" y2="640.0" stroke="#BEBEBE" stroke-width="1.67"/>
<line x1="377.2" y1="634.8" x2="385.2" y2="640.0" stroke="#E0E0E0" stroke-width="0.79"/>
<line x1="377.2" y1="634.8" x2="377.2" y2="642.7" stroke="#8C8C8C" stroke-width="2.20"/>
<line x1="377.2" y1="634.8" x2="377.2" y2="642.7" stroke="#BEBEBE" stroke-width="1.67"/>
<line x1="377.2" y1="634.8" x2="377.2" y2="642.7" stroke="#E0E0E0" stroke-width="0.79"/>
<line x1="385.2" y1="640.0" x2="391.8" y2="640.0" stroke="#8C8C8C" stroke-width="2.20"/>
<line x1="385.2" y1="640.0" x2="391.8" y2="640.0" stroke="#BEBEBE" stroke-width="1.67"/>
<line x1="385.2" y1="640.0" x2="391.8" y2="640.0" stroke="#E0E0E0" stroke-width="0.79"/>
<line x1="377.2" y1="642.7" x2="375.0" y2="647.5" stroke="#8C8C8C" stroke-width="2.20"/>
<line x1="377.2" y1="642.7" x2="375.0" y2="647.5" stroke="#BEBEBE" stroke-width="1.67"/>
<line x1="377.2" y1="642.7" x2="375.0" y2="647.5" stroke="#E0E0E0" stroke-width="0.79"/>
<line x1="334.2" y1="643.0" x2="342.0" y2="649.0" stroke="#8C8C8C" stroke-width="2.20"/>
<line x1="334.2" y1="643.0" x2="342.0" y2="649.0" stroke="#BEBEBE" stroke-width="1.67"/>
<line x1="334.2" y1="643.0" x2="342.0" y2="649.0" stroke="#E0E0E0" stroke-width="0.79"/>
<line x1="351.8" y1="645.2" x2="342.0" y2="649.0" stroke="#8C8C8C" stroke-width="2.20"/>
<line x1="351.8" y1="645.2" x2="342.0" y2="649.0" stroke="#BEBEBE" stroke-width="1.67"/>
<line x1="351.8" y1="645.2" x2="342.0" y2="649.0" stroke="#E0E0E0" stroke-width="0.79"/>
<line x1="342.0" y1="649.0" x2="336.0" y2="656.5" stroke="#8C8C8C" stroke-width="2.20"/>
<line x1="342.0" y1="649.0" x2="336.0" y2="656.5" stroke="#BEBEBE" stroke-width="1.67"/>
<line x1="342.0" y1="649.0" x2="336.0" y2="656.5" stroke="#E0E0E0" stroke-width="0.79"/>
<line x1="342.0" y1="649.0" x2="345.0" y2="657.2" stroke="#8C8C8C" stroke-width="2.20"/>
<line x1="342.0" y1="649.0" x2="345.0" y2="657.2" stroke="#BEBEBE" stroke-width="1.67"/>
<line x1="342.0" y1="649.0" x2="345.0" y2="657.2" stroke="#E0E0E0" stroke-width="0.79"/>
<line x1="336.0" y1="656.5" x2="330.0" y2="658.8" stroke="#8C8C8C" stroke-width="2.20"/>
<line x1="336.0" y1="656.5" x2="330.0" y2="658.8" stroke="#BEBEBE" stroke-width="1.67"/>
<line x1="336.0" y1="656.5" x2="330.0" y2="658.8" stroke="#E0E0E0" stroke-width="0.79"/>
<line x1="345.0" y1="657.2" x2="349.5" y2="661.0" stroke="#8C8C8C" stroke-width="2.20"/>
<line x1="345.0" y1="657.2" x2="349.5" y2="661.0" stroke="#BEBEBE" stroke-width="1.67"/>
<line x1="345.0" y1="657.2" x2="349.5" y2="661.0" stroke="#E0E0E0" stroke-width="0.79"/>
<circle cx="372.0" cy="568.0" r="1.80" fill="url(#gH)"/>
<circle cx="375.8" cy="574.3" r="3.10" fill="url(#gO)"/>
<circle cx="363.8" cy="576.2" r="3.10" fill="url(#gO)"/>
<circle cx="368.2" cy="582.2" r="3.75" fill="url(#gS)"/>
<circle cx="359.0" cy="583.8" r="3.10" fill="url(#gO)"/>
<circle cx="373.8" cy="591.2" r="3.10" fill="url(#gO)"/>
<circle cx="319.2" cy="585.2" r="1.80" fill="url(#gH)"/>
<circle cx="317.2" cy="592.3" r="3.10" fill="url(#gO)"/>
<circle cx="328.5" cy="595.8" r="3.10" fill="url(#gO)"/>
<circle cx="336.8" cy="596.2" r="3.10" fill="url(#gO)"/>
<circle cx="326.7" cy="600.2" r="3.75" fill="url(#gS)"/>
<circle cx="325.2" cy="609.7" r="3.10" fill="url(#gO)"/>
<circle cx="343.5" cy="602.5" r="3.05" fill="url(#gC)"/>
<circle cx="353.2" cy="602.2" r="3.00" fill="url(#gN)"/>
<circle cx="359.2" cy="608.5" r="3.05" fill="url(#gC)"/>
<circle cx="368.2" cy="609.7" r="3.00" fill="url(#gN)"/>
<circle cx="348.8" cy="610.8" r="3.00" fill="url(#gN)"/>
<circle cx="355.5" cy="617.5" r="3.00" fill="url(#gN)"/>
<circle cx="346.5" cy="620.2" r="3.05" fill="url(#gC)"/>
<circle cx="338.2" cy="622.8" r="3.00" fill="url(#gN)"/>
<circle cx="353.7" cy="625.8" r="3.00" fill="url(#gN)"/>
<circle cx="381.0" cy="625.8" r="3.10" fill="url(#gO)"/>
<circle cx="366.0" cy="635.5" r="3.10" fill="url(#gO)"/>
<circle cx="377.2" cy="634.8" r="3.75" fill="url(#gS)"/>
<circle cx="385.2" cy="640.0" r="3.10" fill="url(#gO)"/>
<circle cx="377.2" cy="642.7" r="3.10" fill="url(#gO)"/>
<circle cx="391.8" cy="640.0" r="1.80" fill="url(#gH)"/>
<circle cx="375.0" cy="647.5" r="1.80" fill="url(#gH)"/>
<circle cx="334.2" cy="643.0" r="3.10" fill="url(#gO)"/>
<circle cx="351.8" cy="645.2" r="3.10" fill="url(#gO)"/>
<circle cx="342.0" cy="649.0" r="3.75" fill="url(#gS)"/>
<circle cx="336.0" cy="656.5" r="3.10" fill="url(#gO)"/>
<circle cx="345.0" cy="657.2" r="3.10" fill="url(#gO)"/>
<circle cx="330.0" cy="658.8" r="1.80" fill="url(#gH)"/>
<circle cx="349.5" cy="661.0" r="1.80" fill="url(#gH)"/>
<line x1="38.2" y1="745.4" x2="38.2" y2="757.4" stroke="#E2A4A4" stroke-width="1.1"/>
<line x1="38.2" y1="736.8" x2="38.2" y2="745.4" stroke="#B4B4B4" stroke-width="2.1"/>
<line x1="38.2" y1="736.8" x2="38.2" y2="745.4" stroke="#E6E6E6" stroke-width="1.0"/>
<circle cx="38.2" cy="745.4" r="1.5" fill="url(#gH)"/>
<line x1="48.6" y1="743.5" x2="49.2" y2="754.6" stroke="#E2A4A4" stroke-width="1.1"/>
<line x1="48.2" y1="735.4" x2="48.6" y2="743.5" stroke="#B4B4B4" stroke-width="2.1"/>
<line x1="48.2" y1="735.4" x2="48.6" y2="743.5" stroke="#E6E6E6" stroke-width="1.0"/>
<circle cx="48.6" cy="743.5" r="1.5" fill="url(#gH)"/>
<line x1="35.3" y1="732.4" x2="31.3" y2="726.4" stroke="#E2A4A4" stroke-width="1.1"/>
<line x1="38.2" y1="736.8" x2="35.3" y2="732.4" stroke="#B4B4B4" stroke-width="2.1"/>
<line x1="38.2" y1="736.8" x2="35.3" y2="732.4" stroke="#E6E6E6" stroke-width="1.0"/>
<circle cx="35.3" cy="732.4" r="1.5" fill="url(#gH)"/>
<line x1="39.8" y1="716.1" x2="36.4" y2="710.0" stroke="#E2A4A4" stroke-width="1.1"/>
<line x1="42.3" y1="720.5" x2="39.8" y2="716.1" stroke="#B4B4B4" stroke-width="2.1"/>
<line x1="42.3" y1="720.5" x2="39.8" y2="716.1" stroke="#E6E6E6" stroke-width="1.0"/>
<circle cx="39.8" cy="716.1" r="1.5" fill="url(#gH)"/>
<line x1="17.6" y1="704.4" x2="18.2" y2="712.7" stroke="#8C8C8C" stroke-width="2.20"/>
<line x1="17.6" y1="704.4" x2="18.2" y2="712.7" stroke="#BEBEBE" stroke-width="1.67"/>
<line x1="17.6" y1="704.4" x2="18.2" y2="712.7" stroke="#E0E0E0" stroke-width="0.79"/>
<line x1="18.2" y1="712.7" x2="29.9" y2="714.8" stroke="#8C8C8C" stroke-width="2.20"/>
<line x1="18.2" y1="712.7" x2="29.9" y2="714.8" stroke="#BEBEBE" stroke-width="1.67"/>
<line x1="18.2" y1="712.7" x2="29.9" y2="714.8" stroke="#E0E0E0" stroke-width="0.79"/>
<line x1="32.0" y1="708.6" x2="29.9" y2="714.8" stroke="#8C8C8C" stroke-width="2.20"/>
<line x1="32.0" y1="708.6" x2="29.9" y2="714.8" stroke="#BEBEBE" stroke-width="1.67"/>
<line x1="32.0" y1="708.6" x2="29.9" y2="714.8" stroke="#E0E0E0" stroke-width="0.79"/>
<line x1="36.4" y1="710.0" x2="29.9" y2="714.8" stroke="#8C8C8C" stroke-width="2.20"/>
<line x1="36.4" y1="710.0" x2="29.9" y2="714.8" stroke="#BEBEBE" stroke-width="1.67"/>
<line x1="36.4" y1="710.0" x2="29.9" y2="714.8" stroke="#E0E0E0" stroke-width="0.79"/>
<line x1="29.9" y1="714.8" x2="31.3" y2="726.4" stroke="#8C8C8C" stroke-width="2.20"/>
<line x1="29.9" y1="714.8" x2="31.3" y2="726.4" stroke="#BEBEBE" stroke-width="1.67"/>
<line x1="29.9" y1="714.8" x2="31.3" y2="726.4" stroke="#E0E0E0" stroke-width="0.79"/>
<line x1="47.1" y1="706.5" x2="47.4" y2="714.0" stroke="#8C8C8C" stroke-width="2.20"/>
<line x1="47.1" y1="706.5" x2="47.4" y2="714.0" stroke="#BEBEBE" stroke-width="1.67"/>
<line x1="47.1" y1="706.5" x2="47.4" y2="714.0" stroke="#E0E0E0" stroke-width="0.79"/>
<line x1="47.4" y1="714.0" x2="54.7" y2="715.4" stroke="#8C8C8C" stroke-width="2.20"/>
<line x1="47.4" y1="714.0" x2="54.7" y2="715.4" stroke="#BEBEBE" stroke-width="1.67"/>
<line x1="47.4" y1="714.0" x2="54.7" y2="715.4" stroke="#E0E0E0" stroke-width="0.79"/>
<line x1="47.4" y1="714.0" x2="42.3" y2="720.5" stroke="#8C8C8C" stroke-width="2.20"/>
<line x1="47.4" y1="714.0" x2="42.3" y2="720.5" stroke="#BEBEBE" stroke-width="1.67"/>
<line x1="47.4" y1="714.0" x2="42.3" y2="720.5" stroke="#E0E0E0" stroke-width="0.79"/>
<line x1="42.3" y1="720.5" x2="43.0" y2="730.6" stroke="#8C8C8C" stroke-width="2.20"/>
<line x1="42.3" y1="720.5" x2="43.0" y2="730.6" stroke="#BEBEBE" stroke-width="1.67"/>
<line x1="42.3" y1="720.5" x2="43.0" y2="730.6" stroke="#E0E0E0" stroke-width="0.79"/>
<line x1="43.0" y1="730.6" x2="38.2" y2="736.8" stroke="#8C8C8C" stroke-width="2.20"/>
<line x1="43.0" y1="730.6" x2="38.2" y2="736.8" stroke="#BEBEBE" stroke-width="1.67"/>
<line x1="43.0" y1="730.6" x2="38.2" y2="736.8" stroke="#E0E0E0" stroke-width="0.79"/>
<line x1="43.0" y1="730.6" x2="48.2" y2="735.4" stroke="#8C8C8C" stroke-width="2.20"/>
<line x1="43.0" y1="730.6" x2="48.2" y2="735.4" stroke="#BEBEBE" stroke-width="1.67"/>
<line x1="43.0" y1="730.6" x2="48.2" y2="735.4" stroke="#E0E0E0" stroke-width="0.79"/>
<line x1="38.2" y1="757.4" x2="44.1" y2="761.5" stroke="#8C8C8C" stroke-width="2.20"/>
<line x1="38.2" y1="757.4" x2="44.1" y2="761.5" stroke="#BEBEBE" stroke-width="1.67"/>
<line x1="38.2" y1="757.4" x2="44.1" y2="761.5" stroke="#E0E0E0" stroke-width="0.79"/>
<line x1="49.2" y1="754.6" x2="44.1" y2="761.5" stroke="#8C8C8C" stroke-width="2.20"/>
<line x1="49.2" y1="754.6" x2="44.1" y2="761.5" stroke="#BEBEBE" stroke-width="1.67"/>
<line x1="49.2" y1="754.6" x2="44.1" y2="761.5" stroke="#E0E0E0" stroke-width="0.79"/>
<line x1="44.1" y1="761.5" x2="36.1" y2="770.4" stroke="#8C8C8C" stroke-width="2.20"/>
<line x1="44.1" y1="761.5" x2="36.1" y2="770.4" stroke="#BEBEBE" stroke-width="1.67"/>
<line x1="44.1" y1="761.5" x2="36.1" y2="770.4" stroke="#E0E0E0" stroke-width="0.79"/>
<line x1="44.1" y1="761.5" x2="51.9" y2="770.8" stroke="#8C8C8C" stroke-width="2.20"/>
<line x1="44.1" y1="761.5" x2="51.9" y2="770.8" stroke="#BEBEBE" stroke-width="1.67"/>
<line x1="44.1" y1="761.5" x2="51.9" y2="770.8" stroke="#E0E0E0" stroke-width="0.79"/>
<line x1="36.1" y1="770.4" x2="33.4" y2="775.2" stroke="#8C8C8C" stroke-width="2.20"/>
<line x1="36.1" y1="770.4" x2="33.4" y2="775.2" stroke="#BEBEBE" stroke-width="1.67"/>
<line x1="36.1" y1="770.4" x2="33.4" y2="775.2" stroke="#E0E0E0" stroke-width="0.79"/>
<line x1="51.9" y1="770.8" x2="55.4" y2="773.2" stroke="#8C8C8C" stroke-width="2.20"/>
<line x1="51.9" y1="770.8" x2="55.4" y2="773.2" stroke="#BEBEBE" stroke-width="1.67"/>
<line x1="51.9" y1="770.8" x2="55.4" y2="773.2" stroke="#E0E0E0" stroke-width="0.79"/>
<circle cx="17.6" cy="704.4" r="1.80" fill="url(#gH)"/>
<circle cx="18.2" cy="712.7" r="3.10" fill="url(#gO)"/>
<circle cx="32.0" cy="708.6" r="3.10" fill="url(#gO)"/>
<circle cx="36.4" cy="710.0" r="3.10" fill="url(#gO)"/>
<circle cx="29.9" cy="714.8" r="3.75" fill="url(#gS)"/>
<circle cx="31.3" cy="726.4" r="3.10" fill="url(#gO)"/>
<circle cx="47.1" cy="706.5" r="1.80" fill="url(#gH)"/>
<circle cx="47.4" cy="714.0" r="3.05" fill="url(#gC)"/>
<circle cx="54.7" cy="715.4" r="1.80" fill="url(#gH)"/>
<circle cx="42.3" cy="720.5" r="3.00" fill="url(#gN)"/>
<circle cx="43.0" cy="730.6" r="3.05" fill="url(#gC)"/>
<circle cx="38.2" cy="736.8" r="3.00" fill="url(#gN)"/>
<circle cx="48.2" cy="735.4" r="3.00" fill="url(#gN)"/>
<circle cx="38.2" cy="757.4" r="3.10" fill="url(#gO)"/>
<circle cx="49.2" cy="754.6" r="3.10" fill="url(#gO)"/>
<circle cx="44.1" cy="761.5" r="3.75" fill="url(#gS)"/>
<circle cx="36.1" cy="770.4" r="3.10" fill="url(#gO)"/>
<circle cx="51.9" cy="770.8" r="3.10" fill="url(#gO)"/>
<circle cx="33.4" cy="775.2" r="1.80" fill="url(#gH)"/>
<circle cx="55.4" cy="773.2" r="1.80" fill="url(#gH)"/>
<line x1="94.9" y1="743.6" x2="97.3" y2="756.0" stroke="#E2A4A4" stroke-width="1.1"/>
<line x1="93.2" y1="734.7" x2="94.9" y2="743.6" stroke="#B4B4B4" stroke-width="2.1"/>
<line x1="93.2" y1="734.7" x2="94.9" y2="743.6" stroke="#E6E6E6" stroke-width="1.0"/>
<circle cx="94.9" cy="743.6" r="1.5" fill="url(#gH)"/>
<line x1="110.9" y1="742.5" x2="114.5" y2="754.3" stroke="#E2A4A4" stroke-width="1.1"/>
<line x1="108.3" y1="734.0" x2="110.9" y2="742.5" stroke="#B4B4B4" stroke-width="2.1"/>
<line x1="108.3" y1="734.0" x2="110.9" y2="742.5" stroke="#E6E6E6" stroke-width="1.0"/>
<circle cx="110.9" cy="742.5" r="1.5" fill="url(#gH)"/>
<line x1="85.9" y1="730.1" x2="75.7" y2="723.7" stroke="#E2A4A4" stroke-width="1.1"/>
<line x1="93.2" y1="734.7" x2="85.9" y2="730.1" stroke="#B4B4B4" stroke-width="2.1"/>
<line x1="93.2" y1="734.7" x2="85.9" y2="730.1" stroke="#E6E6E6" stroke-width="1.0"/>
<circle cx="85.9" cy="730.1" r="1.5" fill="url(#gH)"/>
<line x1="93.1" y1="713.7" x2="84.9" y2="706.5" stroke="#E2A4A4" stroke-width="1.1"/>
<line x1="99.1" y1="718.9" x2="93.1" y2="713.7" stroke="#B4B4B4" stroke-width="2.1"/>
<line x1="99.1" y1="718.9" x2="93.1" y2="713.7" stroke="#E6E6E6" stroke-width="1.0"/>
<circle cx="93.1" cy="713.7" r="1.5" fill="url(#gH)"/>
<line x1="69.8" y1="700.3" x2="70.5" y2="707.2" stroke="#8C8C8C" stroke-width="2.20"/>
<line x1="69.8" y1="700.3" x2="70.5" y2="707.2" stroke="#BEBEBE" stroke-width="1.67"/>
<line x1="69.8" y1="700.3" x2="70.5" y2="707.2" stroke="#E0E0E0" stroke-width="0.79"/>
<line x1="65.7" y1="708.1" x2="60.2" y2="711.3" stroke="#8C8C8C" stroke-width="2.20"/>
<line x1="65.7" y1="708.1" x2="60.2" y2="711.3" stroke="#BEBEBE" stroke-width="1.67"/>
<line x1="65.7" y1="708.1" x2="60.2" y2="711.3" stroke="#E0E0E0" stroke-width="0.79"/>
<line x1="65.7" y1="708.1" x2="75.3" y2="712.7" stroke="#8C8C8C" stroke-width="2.20"/>
<line x1="65.7" y1="708.1" x2="75.3" y2="712.7" stroke="#BEBEBE" stroke-width="1.67"/>
<line x1="65.7" y1="708.1" x2="75.3" y2="712.7" stroke="#E0E0E0" stroke-width="0.79"/>
<line x1="70.5" y1="707.2" x2="75.3" y2="712.7" stroke="#8C8C8C" stroke-width="2.20"/>
<line x1="70.5" y1="707.2" x2="75.3" y2="712.7" stroke="#BEBEBE" stroke-width="1.67"/>
<line x1="70.5" y1="707.2" x2="75.3" y2="712.7" stroke="#E0E0E0" stroke-width="0.79"/>
<line x1="75.3" y1="712.7" x2="84.9" y2="706.5" stroke="#8C8C8C" stroke-width="2.20"/>
<line x1="75.3" y1="712.7" x2="84.9" y2="706.5" stroke="#BEBEBE" stroke-width="1.67"/>
<line x1="75.3" y1="712.7" x2="84.9" y2="706.5" stroke="#E0E0E0" stroke-width="0.79"/>
<line x1="75.3" y1="712.7" x2="75.7" y2="723.7" stroke="#8C8C8C" stroke-width="2.20"/>
<line x1="75.3" y1="712.7" x2="75.7" y2="723.7" stroke="#BEBEBE" stroke-width="1.67"/>
<line x1="75.3" y1="712.7" x2="75.7" y2="723.7" stroke="#E0E0E0" stroke-width="0.79"/>
<line x1="103.5" y1="705.1" x2="106.9" y2="712.7" stroke="#8C8C8C" stroke-width="2.20"/>
<line x1="103.5" y1="705.1" x2="106.9" y2="712.7" stroke="#BEBEBE" stroke-width="1.67"/>
<line x1="103.5" y1="705.1" x2="106.9" y2="712.7" stroke="#E0E0E0" stroke-width="0.79"/>
<line x1="106.9" y1="712.7" x2="113.8" y2="712.0" stroke="#8C8C8C" stroke-width="2.20"/>
<line x1="106.9" y1="712.7" x2="113.8" y2="712.0" stroke="#BEBEBE" stroke-width="1.67"/>
<line x1="106.9" y1="712.7" x2="113.8" y2="712.0" stroke="#E0E0E0" stroke-width="0.79"/>
<line x1="106.9" y1="712.7" x2="99.1" y2="718.9" stroke="#8C8C8C" stroke-width="2.20"/>
<line x1="106.9" y1="712.7" x2="99.1" y2="718.9" stroke="#BEBEBE" stroke-width="1.67"/>
<line x1="106.9" y1="712.7" x2="99.1" y2="718.9" stroke="#E0E0E0" stroke-width="0.79"/>
<line x1="99.1" y1="718.9" x2="100.8" y2="729.9" stroke="#8C8C8C" stroke-width="2.20"/>
<line x1="99.1" y1="718.9" x2="100.8" y2="729.9" stroke="#BEBEBE" stroke-width="1.67"/>
<line x1="99.1" y1="718.9" x2="100.8" y2="729.9" stroke="#E0E0E0" stroke-width="0.79"/>
<line x1="100.8" y1="729.9" x2="93.2" y2="734.7" stroke="#8C8C8C" stroke-width="2.20"/>
<line x1="100.8" y1="729.9" x2="93.2" y2="734.7" stroke="#BEBEBE" stroke-width="1.67"/>
<line x1="100.8" y1="729.9" x2="93.2" y2="734.7" stroke="#E0E0E0" stroke-width="0.79"/>
<line x1="100.8" y1="729.9" x2="108.3" y2="734.0" stroke="#8C8C8C" stroke-width="2.20"/>
<line x1="100.8" y1="729.9" x2="108.3" y2="734.0" stroke="#BEBEBE" stroke-width="1.67"/>
<line x1="100.8" y1="729.9" x2="108.3" y2="734.0" stroke="#E0E0E0" stroke-width="0.79"/>
<line x1="108.3" y1="734.0" x2="115.2" y2="729.9" stroke="#8C8C8C" stroke-width="2.20"/>
<line x1="108.3" y1="734.0" x2="115.2" y2="729.9" stroke="#BEBEBE" stroke-width="1.67"/>
<line x1="108.3" y1="734.0" x2="115.2" y2="729.9" stroke="#E0E0E0" stroke-width="0.79"/>
<line x1="97.3" y1="756.0" x2="106.9" y2="760.8" stroke="#8C8C8C" stroke-width="2.20"/>
<line x1="97.3" y1="756.0" x2="106.9" y2="760.8" stroke="#BEBEBE" stroke-width="1.67"/>
<line x1="97.3" y1="756.0" x2="106.9" y2="760.8" stroke="#E0E0E0" stroke-width="0.79"/>
<line x1="114.5" y1="754.3" x2="106.9" y2="760.8" stroke="#8C8C8C" stroke-width="2.20"/>
<line x1="114.5" y1="754.3" x2="106.9" y2="760.8" stroke="#BEBEBE" stroke-width="1.67"/>
<line x1="114.5" y1="754.3" x2="106.9" y2="760.8" stroke="#E0E0E0" stroke-width="0.79"/>
<line x1="106.9" y1="760.8" x2="102.1" y2="769.8" stroke="#8C8C8C" stroke-width="2.20"/>
<line x1="106.9" y1="760.8" x2="102.1" y2="769.8" stroke="#BEBEBE" stroke-width="1.67"/>
<line x1="106.9" y1="760.8" x2="102.1" y2="769.8" stroke="#E0E0E0" stroke-width="0.79"/>
<line x1="106.9" y1="760.8" x2="113.4" y2="767.7" stroke="#8C8C8C" stroke-width="2.20"/>
<line x1="106.9" y1="760.8" x2="113.4" y2="767.7" stroke="#BEBEBE" stroke-width="1.67"/>
<line x1="106.9" y1="760.8" x2="113.4" y2="767.7" stroke="#E0E0E0" stroke-width="0.79"/>
<line x1="102.1" y1="769.8" x2="108.3" y2="773.2" stroke="#8C8C8C" stroke-width="2.20"/>
<line x1="102.1" y1="769.8" x2="108.3" y2="773.2" stroke="#BEBEBE" stroke-width="1.67"/>
<line x1="102.1" y1="769.8" x2="108.3" y2="773.2" stroke="#E0E0E0" stroke-width="0.79"/>
<line x1="113.4" y1="767.7" x2="108.3" y2="773.2" stroke="#8C8C8C" stroke-width="2.20"/>
<line x1="113.4" y1="767.7" x2="108.3" y2="773.2" stroke="#BEBEBE" stroke-width="1.67"/>
<line x1="113.4" y1="767.7" x2="108.3" y2="773.2" stroke="#E0E0E0" stroke-width="0.79"/>
<circle cx="69.8" cy="700.3" r="1.80" fill="url(#gH)"/>
<circle cx="65.7" cy="708.1" r="3.10" fill="url(#gO)"/>
<circle cx="70.5" cy="707.2" r="3.10" fill="url(#gO)"/>
<circle cx="60.2" cy="711.3" r="1.80" fill="url(#gH)"/>
<circle cx="75.3" cy="712.7" r="3.75" fill="url(#gS)"/>
<circle cx="84.9" cy="706.5" r="3.10" fill="url(#gO)"/>
<circle cx="75.7" cy="723.7" r="3.10" fill="url(#gO)"/>
<circle cx="103.5" cy="705.1" r="1.80" fill="url(#gH)"/>
<circle cx="106.9" cy="712.7" r="3.05" fill="url(#gC)"/>
<circle cx="113.8" cy="712.0" r="1.80" fill="url(#gH)"/>
<circle cx="99.1" cy="718.9" r="3.00" fill="url(#gN)"/>
<circle cx="100.8" cy="729.9" r="3.05" fill="url(#gC)"/>
<circle cx="93.2" cy="734.7" r="3.00" fill="url(#gN)"/>
<circle cx="108.3" cy="734.0" r="3.00" fill="url(#gN)"/>
<circle cx="115.2" cy="729.9" r="1.80" fill="url(#gH)"/>
<circle cx="97.3" cy="756.0" r="3.10" fill="url(#gO)"/>
<circle cx="114.5" cy="754.3" r="3.10" fill="url(#gO)"/>
<circle cx="106.9" cy="760.8" r="3.75" fill="url(#gS)"/>
<circle cx="102.1" cy="769.8" r="3.10" fill="url(#gO)"/>
<circle cx="113.4" cy="767.7" r="3.10" fill="url(#gO)"/>
<circle cx="108.3" cy="773.2" r="1.80" fill="url(#gH)"/>
<line x1="151.6" y1="748.3" x2="152.7" y2="760.5" stroke="#E2A4A4" stroke-width="1.1"/>
<line x1="150.8" y1="739.5" x2="151.6" y2="748.3" stroke="#B4B4B4" stroke-width="2.1"/>
<line x1="150.8" y1="739.5" x2="151.6" y2="748.3" stroke="#E6E6E6" stroke-width="1.0"/>
<circle cx="151.6" cy="748.3" r="1.5" fill="url(#gH)"/>
<line x1="159.8" y1="746.6" x2="161.2" y2="759.0" stroke="#E2A4A4" stroke-width="1.1"/>
<line x1="158.7" y1="737.7" x2="159.8" y2="746.6" stroke="#B4B4B4" stroke-width="2.1"/>
<line x1="158.7" y1="737.7" x2="159.8" y2="746.6" stroke="#E6E6E6" stroke-width="1.0"/>
<circle cx="159.8" cy="746.6" r="1.5" fill="url(#gH)"/>
<line x1="160.4" y1="731.7" x2="162.8" y2="723.3" stroke="#E2A4A4" stroke-width="1.1"/>
<line x1="158.7" y1="737.7" x2="160.4" y2="731.7" stroke="#B4B4B4" stroke-width="2.1"/>
<line x1="158.7" y1="737.7" x2="160.4" y2="731.7" stroke="#E6E6E6" stroke-width="1.0"/>
<circle cx="160.4" cy="731.7" r="1.5" fill="url(#gH)"/>
<line x1="173.7" y1="699.8" x2="173.7" y2="706.8" stroke="#8C8C8C" stroke-width="2.20"/>
<line x1="173.7" y1="699.8" x2="173.7" y2="706.8" stroke="#BEBEBE" stroke-width="1.67"/>
<line x1="173.7" y1="699.8" x2="173.7" y2="706.8" stroke="#E0E0E0" stroke-width="0.79"/>
<line x1="154.5" y1="705.0" x2="162.8" y2="712.5" stroke="#8C8C8C" stroke-width="2.20"/>
<line x1="154.5" y1="705.0" x2="162.8" y2="712.5" stroke="#BEBEBE" stroke-width="1.67"/>
<line x1="154.5" y1="705.0" x2="162.8" y2="712.5" stroke="#E0E0E0" stroke-width="0.79"/>
<line x1="154.5" y1="705.0" x2="149.2" y2="709.5" stroke="#8C8C8C" stroke-width="2.20"/>
<line x1="154.5" y1="705.0" x2="149.2" y2="709.5" stroke="#BEBEBE" stroke-width="1.67"/>
<line x1="154.5" y1="705.0" x2="149.2" y2="709.5" stroke="#E0E0E0" stroke-width="0.79"/>
<line x1="162.0" y1="707.7" x2="162.8" y2="712.5" stroke="#8C8C8C" stroke-width="2.20"/>
<line x1="162.0" y1="707.7" x2="162.8" y2="712.5" stroke="#BEBEBE" stroke-width="1.67"/>
<line x1="162.0" y1="707.7" x2="162.8" y2="712.5" stroke="#E0E0E0" stroke-width="0.79"/>
<line x1="173.7" y1="706.8" x2="162.8" y2="712.5" stroke="#8C8C8C" stroke-width="2.20"/>
<line x1="173.7" y1="706.8" x2="162.8" y2="712.5" stroke="#BEBEBE" stroke-width="1.67"/>
<line x1="173.7" y1="706.8" x2="162.8" y2="712.5" stroke="#E0E0E0" stroke-width="0.79"/>
<line x1="162.8" y1="712.5" x2="162.8" y2="723.3" stroke="#8C8C8C" stroke-width="2.20"/>
<line x1="162.8" y1="712.5" x2="162.8" y2="723.3" stroke="#BEBEBE" stroke-width="1.67"/>
<line x1="162.8" y1="712.5" x2="162.8" y2="723.3" stroke="#E0E0E0" stroke-width="0.79"/>
<line x1="149.2" y1="709.5" x2="150.0" y2="717.8" stroke="#8C8C8C" stroke-width="2.20"/>
<line x1="149.2" y1="709.5" x2="150.0" y2="717.8" stroke="#BEBEBE" stroke-width="1.67"/>
<line x1="149.2" y1="709.5" x2="150.0" y2="717.8" stroke="#E0E0E0" stroke-width="0.79"/>
<line x1="150.0" y1="717.8" x2="141.8" y2="721.5" stroke="#8C8C8C" stroke-width="2.20"/>
<line x1="150.0" y1="717.8" x2="141.8" y2="721.5" stroke="#BEBEBE" stroke-width="1.67"/>
<line x1="150.0" y1="717.8" x2="141.8" y2="721.5" stroke="#E0E0E0" stroke-width="0.79"/>
<line x1="150.0" y1="717.8" x2="154.8" y2="723.3" stroke="#8C8C8C" stroke-width="2.20"/>
<line x1="150.0" y1="717.8" x2="154.8" y2="723.3" stroke="#BEBEBE" stroke-width="1.67"/>
<line x1="150.0" y1="717.8" x2="154.8" y2="723.3" stroke="#E0E0E0" stroke-width="0.79"/>
<line x1="154.8" y1="723.3" x2="155.2" y2="733.5" stroke="#8C8C8C" stroke-width="2.20"/>
<line x1="154.8" y1="723.3" x2="155.2" y2="733.5" stroke="#BEBEBE" stroke-width="1.67"/>
<line x1="154.8" y1="723.3" x2="155.2" y2="733.5" stroke="#E0E0E0" stroke-width="0.79"/>
<line x1="155.2" y1="733.5" x2="150.8" y2="739.5" stroke="#8C8C8C" stroke-width="2.20"/>
<line x1="155.2" y1="733.5" x2="150.8" y2="739.5" stroke="#BEBEBE" stroke-width="1.67"/>
<line x1="155.2" y1="733.5" x2="150.8" y2="739.5" stroke="#E0E0E0" stroke-width="0.79"/>
<line x1="155.2" y1="733.5" x2="158.7" y2="737.7" stroke="#8C8C8C" stroke-width="2.20"/>
<line x1="155.2" y1="733.5" x2="158.7" y2="737.7" stroke="#BEBEBE" stroke-width="1.67"/>
<line x1="155.2" y1="733.5" x2="158.7" y2="737.7" stroke="#E0E0E0" stroke-width="0.79"/>
<line x1="152.7" y1="760.5" x2="157.2" y2="766.5" stroke="#8C8C8C" stroke-width="2.20"/>
<line x1="152.7" y1="760.5" x2="157.2" y2="766.5" stroke="#BEBEBE" stroke-width="1.67"/>
<line x1="152.7" y1="760.5" x2="157.2" y2="766.5" stroke="#E0E0E0" stroke-width="0.79"/>
<line x1="161.2" y1="759.0" x2="157.2" y2="766.5" stroke="#8C8C8C" stroke-width="2.20"/>
<line x1="161.2" y1="759.0" x2="157.2" y2="766.5" stroke="#BEBEBE" stroke-width="1.67"/>
<line x1="161.2" y1="759.0" x2="157.2" y2="766.5" stroke="#E0E0E0" stroke-width="0.79"/>
<line x1="157.2" y1="766.5" x2="148.2" y2="774.3" stroke="#8C8C8C" stroke-width="2.20"/>
<line x1="157.2" y1="766.5" x2="148.2" y2="774.3" stroke="#BEBEBE" stroke-width="1.67"/>
<line x1="157.2" y1="766.5" x2="148.2" y2="774.3" stroke="#E0E0E0" stroke-width="0.79"/>
<line x1="157.2" y1="766.5" x2="166.2" y2="774.8" stroke="#8C8C8C" stroke-width="2.20"/>
<line x1="157.2" y1="766.5" x2="166.2" y2="774.8" stroke="#BEBEBE" stroke-width="1.67"/>
<line x1="157.2" y1="766.5" x2="166.2" y2="774.8" stroke="#E0E0E0" stroke-width="0.79"/>
<circle cx="173.7" cy="699.8" r="1.80" fill="url(#gH)"/>
<circle cx="154.5" cy="705.0" r="3.10" fill="url(#gO)"/>
<circle cx="162.0" cy="707.7" r="3.10" fill="url(#gO)"/>
<circle cx="173.7" cy="706.8" r="3.10" fill="url(#gO)"/>
<circle cx="162.8" cy="712.5" r="3.75" fill="url(#gS)"/>
<circle cx="162.8" cy="723.3" r="3.10" fill="url(#gO)"/>
<circle cx="149.2" cy="709.5" r="1.80" fill="url(#gH)"/>
<circle cx="150.0" cy="717.8" r="3.05" fill="url(#gC)"/>
<circle cx="141.8" cy="721.5" r="1.80" fill="url(#gH)"/>
<circle cx="154.8" cy="723.3" r="3.00" fill="url(#gN)"/>
<circle cx="155.2" cy="733.5" r="3.05" fill="url(#gC)"/>
<circle cx="150.8" cy="739.5" r="3.00" fill="url(#gN)"/>
<circle cx="158.7" cy="737.7" r="3.00" fill="url(#gN)"/>
<circle cx="152.7" cy="760.5" r="3.10" fill="url(#gO)"/>
<circle cx="161.2" cy="759.0" r="3.10" fill="url(#gO)"/>
<circle cx="157.2" cy="766.5" r="3.75" fill="url(#gS)"/>
<circle cx="148.2" cy="774.3" r="3.10" fill="url(#gO)"/>
<circle cx="166.2" cy="774.8" r="3.10" fill="url(#gO)"/>
<line x1="213.0" y1="752.3" x2="214.0" y2="764.5" stroke="#E2A4A4" stroke-width="1.1"/>
<line x1="212.2" y1="743.5" x2="213.0" y2="752.3" stroke="#B4B4B4" stroke-width="2.1"/>
<line x1="212.2" y1="743.5" x2="213.0" y2="752.3" stroke="#E6E6E6" stroke-width="1.0"/>
<circle cx="213.0" cy="752.3" r="1.5" fill="url(#gH)"/>
<line x1="230.8" y1="753.0" x2="233.0" y2="765.0" stroke="#E2A4A4" stroke-width="1.1"/>
<line x1="229.2" y1="744.3" x2="230.8" y2="753.0" stroke="#B4B4B4" stroke-width="2.1"/>
<line x1="229.2" y1="744.3" x2="230.8" y2="753.0" stroke="#E6E6E6" stroke-width="1.0"/>
<circle cx="230.8" cy="753.0" r="1.5" fill="url(#gH)"/>
<line x1="214.5" y1="722.7" x2="205.8" y2="714.3" stroke="#E2A4A4" stroke-width="1.1"/>
<line x1="220.8" y1="728.7" x2="214.5" y2="722.7" stroke="#B4B4B4" stroke-width="2.1"/>
<line x1="220.8" y1="728.7" x2="214.5" y2="722.7" stroke="#E6E6E6" stroke-width="1.0"/>
<circle cx="214.5" cy="722.7" r="1.5" fill="url(#gH)"/>
<line x1="204.7" y1="738.2" x2="194.2" y2="730.8" stroke="#E2A4A4" stroke-width="1.1"/>
<line x1="212.2" y1="743.5" x2="204.7" y2="738.2" stroke="#B4B4B4" stroke-width="2.1"/>
<line x1="212.2" y1="743.5" x2="204.7" y2="738.2" stroke="#E6E6E6" stroke-width="1.0"/>
<circle cx="204.7" cy="738.2" r="1.5" fill="url(#gH)"/>
<line x1="188.2" y1="714.8" x2="180.8" y2="717.8" stroke="#8C8C8C" stroke-width="2.20"/>
<line x1="188.2" y1="714.8" x2="180.8" y2="717.8" stroke="#BEBEBE" stroke-width="1.67"/>
<line x1="188.2" y1="714.8" x2="180.8" y2="717.8" stroke="#E0E0E0" stroke-width="0.79"/>
<line x1="188.2" y1="714.8" x2="195.0" y2="719.2" stroke="#8C8C8C" stroke-width="2.20"/>
<line x1="188.2" y1="714.8" x2="195.0" y2="719.2" stroke="#BEBEBE" stroke-width="1.67"/>
<line x1="188.2" y1="714.8" x2="195.0" y2="719.2" stroke="#E0E0E0" stroke-width="0.79"/>
<line x1="195.0" y1="719.2" x2="205.8" y2="714.3" stroke="#8C8C8C" stroke-width="2.20"/>
<line x1="195.0" y1="719.2" x2="205.8" y2="714.3" stroke="#BEBEBE" stroke-width="1.67"/>
<line x1="195.0" y1="719.2" x2="205.8" y2="714.3" stroke="#E0E0E0" stroke-width="0.79"/>
<line x1="195.0" y1="719.2" x2="194.2" y2="730.8" stroke="#8C8C8C" stroke-width="2.20"/>
<line x1="195.0" y1="719.2" x2="194.2" y2="730.8" stroke="#BEBEBE" stroke-width="1.67"/>
<line x1="195.0" y1="719.2" x2="194.2" y2="730.8" stroke="#E0E0E0" stroke-width="0.79"/>
<line x1="226.5" y1="714.8" x2="228.8" y2="722.7" stroke="#8C8C8C" stroke-width="2.20"/>
<line x1="226.5" y1="714.8" x2="228.8" y2="722.7" stroke="#BEBEBE" stroke-width="1.67"/>
<line x1="226.5" y1="714.8" x2="228.8" y2="722.7" stroke="#E0E0E0" stroke-width="0.79"/>
<line x1="228.8" y1="722.7" x2="236.2" y2="722.2" stroke="#8C8C8C" stroke-width="2.20"/>
<line x1="228.8" y1="722.7" x2="236.2" y2="722.2" stroke="#BEBEBE" stroke-width="1.67"/>
<line x1="228.8" y1="722.7" x2="236.2" y2="722.2" stroke="#E0E0E0" stroke-width="0.79"/>
<line x1="228.8" y1="722.7" x2="220.8" y2="728.7" stroke="#8C8C8C" stroke-width="2.20"/>
<line x1="228.8" y1="722.7" x2="220.8" y2="728.7" stroke="#BEBEBE" stroke-width="1.67"/>
<line x1="228.8" y1="722.7" x2="220.8" y2="728.7" stroke="#E0E0E0" stroke-width="0.79"/>
<line x1="220.8" y1="728.7" x2="220.8" y2="738.8" stroke="#8C8C8C" stroke-width="2.20"/>
<line x1="220.8" y1="728.7" x2="220.8" y2="738.8" stroke="#BEBEBE" stroke-width="1.67"/>
<line x1="220.8" y1="728.7" x2="220.8" y2="738.8" stroke="#E0E0E0" stroke-width="0.79"/>
<line x1="220.8" y1="738.8" x2="212.2" y2="743.5" stroke="#8C8C8C" stroke-width="2.20"/>
<line x1="220.8" y1="738.8" x2="212.2" y2="743.5" stroke="#BEBEBE" stroke-width="1.67"/>
<line x1="220.8" y1="738.8" x2="212.2" y2="743.5" stroke="#E0E0E0" stroke-width="0.79"/>
<line x1="220.8" y1="738.8" x2="229.2" y2="744.3" stroke="#8C8C8C" stroke-width="2.20"/>
<line x1="220.8" y1="738.8" x2="229.2" y2="744.3" stroke="#BEBEBE" stroke-width="1.67"/>
<line x1="220.8" y1="738.8" x2="229.2" y2="744.3" stroke="#E0E0E0" stroke-width="0.79"/>
<line x1="229.2" y1="744.3" x2="235.8" y2="740.2" stroke="#8C8C8C" stroke-width="2.20"/>
<line x1="229.2" y1="744.3" x2="235.8" y2="740.2" stroke="#BEBEBE" stroke-width="1.67"/>
<line x1="229.2" y1="744.3" x2="235.8" y2="740.2" stroke="#E0E0E0" stroke-width="0.79"/>
<line x1="214.0" y1="764.5" x2="223.8" y2="770.8" stroke="#8C8C8C" stroke-width="2.20"/>
<line x1="214.0" y1="764.5" x2="223.8" y2="770.8" stroke="#BEBEBE" stroke-width="1.67"/>
<line x1="214.0" y1="764.5" x2="223.8" y2="770.8" stroke="#E0E0E0" stroke-width="0.79"/>
<line x1="233.0" y1="765.0" x2="223.8" y2="770.8" stroke="#8C8C8C" stroke-width="2.20"/>
<line x1="233.0" y1="765.0" x2="223.8" y2="770.8" stroke="#BEBEBE" stroke-width="1.67"/>
<line x1="233.0" y1="765.0" x2="223.8" y2="770.8" stroke="#E0E0E0" stroke-width="0.79"/>
<line x1="223.8" y1="770.8" x2="220.0" y2="780.5" stroke="#8C8C8C" stroke-width="2.20"/>
<line x1="223.8" y1="770.8" x2="220.0" y2="780.5" stroke="#BEBEBE" stroke-width="1.67"/>
<line x1="223.8" y1="770.8" x2="220.0" y2="780.5" stroke="#E0E0E0" stroke-width="0.79"/>
<line x1="223.8" y1="770.8" x2="228.7" y2="778.0" stroke="#8C8C8C" stroke-width="2.20"/>
<line x1="223.8" y1="770.8" x2="228.7" y2="778.0" stroke="#BEBEBE" stroke-width="1.67"/>
<line x1="223.8" y1="770.8" x2="228.7" y2="778.0" stroke="#E0E0E0" stroke-width="0.79"/>
<line x1="220.0" y1="780.5" x2="226.0" y2="784.5" stroke="#8C8C8C" stroke-width="2.20"/>
<line x1="220.0" y1="780.5" x2="226.0" y2="784.5" stroke="#BEBEBE" stroke-width="1.67"/>
<line x1="220.0" y1="780.5" x2="226.0" y2="784.5" stroke="#E0E0E0" stroke-width="0.79"/>
<line x1="228.7" y1="778.0" x2="226.0" y2="784.5" stroke="#8C8C8C" stroke-width="2.20"/>
<line x1="228.7" y1="778.0" x2="226.0" y2="784.5" stroke="#BEBEBE" stroke-width="1.67"/>
<line x1="228.7" y1="778.0" x2="226.0" y2="784.5" stroke="#E0E0E0" stroke-width="0.79"/>
<circle cx="189.3" cy="706.2" r="1.80" fill="url(#gH)"/>
<circle cx="188.2" cy="714.8" r="3.10" fill="url(#gO)"/>
<circle cx="180.8" cy="717.8" r="1.80" fill="url(#gH)"/>
<circle cx="195.0" cy="719.2" r="3.75" fill="url(#gS)"/>
<circle cx="205.8" cy="714.3" r="3.10" fill="url(#gO)"/>
<circle cx="194.2" cy="730.8" r="3.10" fill="url(#gO)"/>
<circle cx="226.5" cy="714.8" r="1.80" fill="url(#gH)"/>
<circle cx="228.8" cy="722.7" r="3.05" fill="url(#gC)"/>
<circle cx="236.2" cy="722.2" r="1.80" fill="url(#gH)"/>
<circle cx="220.8" cy="728.7" r="3.00" fill="url(#gN)"/>
<circle cx="220.8" cy="738.8" r="3.05" fill="url(#gC)"/>
<circle cx="212.2" cy="743.5" r="3.00" fill="url(#gN)"/>
<circle cx="229.2" cy="744.3" r="3.00" fill="url(#gN)"/>
<circle cx="235.8" cy="740.2" r="1.80" fill="url(#gH)"/>
<circle cx="214.0" cy="764.5" r="3.10" fill="url(#gO)"/>
<circle cx="233.0" cy="765.0" r="3.10" fill="url(#gO)"/>
<circle cx="223.8" cy="770.8" r="3.75" fill="url(#gS)"/>
<circle cx="220.0" cy="780.5" r="3.10" fill="url(#gO)"/>
<circle cx="228.7" cy="778.0" r="3.10" fill="url(#gO)"/>
<circle cx="226.0" cy="784.5" r="1.80" fill="url(#gH)"/>
<line x1="311.2" y1="749.5" x2="310.6" y2="762.2" stroke="#E2A4A4" stroke-width="1.1"/>
<line x1="311.6" y1="740.2" x2="311.2" y2="749.5" stroke="#B4B4B4" stroke-width="2.1"/>
<line x1="311.6" y1="740.2" x2="311.2" y2="749.5" stroke="#E6E6E6" stroke-width="1.0"/>
<circle cx="311.2" cy="749.5" r="1.5" fill="url(#gH)"/>
<line x1="330.4" y1="748.9" x2="331.2" y2="761.6" stroke="#E2A4A4" stroke-width="1.1"/>
<line x1="329.8" y1="739.7" x2="330.4" y2="748.9" stroke="#B4B4B4" stroke-width="2.1"/>
<line x1="329.8" y1="739.7" x2="330.4" y2="748.9" stroke="#E6E6E6" stroke-width="1.0"/>
<circle cx="330.4" cy="748.9" r="1.5" fill="url(#gH)"/>
<line x1="326.5" y1="718.4" x2="335.4" y2="709.7" stroke="#E2A4A4" stroke-width="1.1"/>
<line x1="320.0" y1="724.7" x2="326.5" y2="718.4" stroke="#B4B4B4" stroke-width="2.1"/>
<line x1="320.0" y1="724.7" x2="326.5" y2="718.4" stroke="#E6E6E6" stroke-width="1.0"/>
<circle cx="326.5" cy="718.4" r="1.5" fill="url(#gH)"/>
<line x1="337.1" y1="733.6" x2="347.2" y2="725.2" stroke="#E2A4A4" stroke-width="1.1"/>
<line x1="329.8" y1="739.7" x2="337.1" y2="733.6" stroke="#B4B4B4" stroke-width="2.1"/>
<line x1="329.8" y1="739.7" x2="337.1" y2="733.6" stroke="#E6E6E6" stroke-width="1.0"/>
<circle cx="337.1" cy="733.6" r="1.5" fill="url(#gH)"/>
<line x1="311.6" y1="710.6" x2="309.7" y2="719.1" stroke="#8C8C8C" stroke-width="2.20"/>
<line x1="311.6" y1="710.6" x2="309.7" y2="719.1" stroke="#BEBEBE" stroke-width="1.67"/>
<line x1="311.6" y1="710.6" x2="309.7" y2="719.1" stroke="#E0E0E0" stroke-width="0.79"/>
<line x1="309.7" y1="719.1" x2="305.0" y2="720.4" stroke="#8C8C8C" stroke-width="2.20"/>
<line x1="309.7" y1="719.1" x2="305.0" y2="720.4" stroke="#BEBEBE" stroke-width="1.67"/>
<line x1="309.7" y1="719.1" x2="305.0" y2="720.4" stroke="#E0E0E0" stroke-width="0.79"/>
<line x1="309.7" y1="719.1" x2="320.0" y2="724.7" stroke="#8C8C8C" stroke-width="2.20"/>
<line x1="309.7" y1="719.1" x2="320.0" y2="724.7" stroke="#BEBEBE" stroke-width="1.67"/>
<line x1="309.7" y1="719.1" x2="320.0" y2="724.7" stroke="#E0E0E0" stroke-width="0.79"/>
<line x1="320.0" y1="724.7" x2="320.4" y2="735.0" stroke="#8C8C8C" stroke-width="2.20"/>
<line x1="320.0" y1="724.7" x2="320.4" y2="735.0" stroke="#BEBEBE" stroke-width="1.67"/>
<line x1="320.0" y1="724.7" x2="320.4" y2="735.0" stroke="#E0E0E0" stroke-width="0.79"/>
<line x1="320.4" y1="735.0" x2="311.6" y2="740.2" stroke="#8C8C8C" stroke-width="2.20"/>
<line x1="320.4" y1="735.0" x2="311.6" y2="740.2" stroke="#BEBEBE" stroke-width="1.67"/>
<line x1="320.4" y1="735.0" x2="311.6" y2="740.2" stroke="#E0E0E0" stroke-width="0.79"/>
<line x1="320.4" y1="735.0" x2="329.8" y2="739.7" stroke="#8C8C8C" stroke-width="2.20"/>
<line x1="320.4" y1="735.0" x2="329.8" y2="739.7" stroke="#BEBEBE" stroke-width="1.67"/>
<line x1="320.4" y1="735.0" x2="329.8" y2="739.7" stroke="#E0E0E0" stroke-width="0.79"/>
<line x1="311.6" y1="740.2" x2="305.0" y2="738.4" stroke="#8C8C8C" stroke-width="2.20"/>
<line x1="311.6" y1="740.2" x2="305.0" y2="738.4" stroke="#BEBEBE" stroke-width="1.67"/>
<line x1="311.6" y1="740.2" x2="305.0" y2="738.4" stroke="#E0E0E0" stroke-width="0.79"/>
<line x1="335.4" y1="709.7" x2="345.9" y2="713.4" stroke="#8C8C8C" stroke-width="2.20"/>
<line x1="335.4" y1="709.7" x2="345.9" y2="713.4" stroke="#BEBEBE" stroke-width="1.67"/>
<line x1="335.4" y1="709.7" x2="345.9" y2="713.4" stroke="#E0E0E0" stroke-width="0.79"/>
<line x1="349.0" y1="706.0" x2="345.9" y2="713.4" stroke="#8C8C8C" stroke-width="2.20"/>
<line x1="349.0" y1="706.0" x2="345.9" y2="713.4" stroke="#BEBEBE" stroke-width="1.67"/>
<line x1="349.0" y1="706.0" x2="345.9" y2="713.4" stroke="#E0E0E0" stroke-width="0.79"/>
<line x1="349.0" y1="706.0" x2="355.6" y2="703.5" stroke="#8C8C8C" stroke-width="2.20"/>
<line x1="349.0" y1="706.0" x2="355.6" y2="703.5" stroke="#BEBEBE" stroke-width="1.67"/>
<line x1="349.0" y1="706.0" x2="355.6" y2="703.5" stroke="#E0E0E0" stroke-width="0.79"/>
<line x1="345.9" y1="713.4" x2="356.0" y2="710.6" stroke="#8C8C8C" stroke-width="2.20"/>
<line x1="345.9" y1="713.4" x2="356.0" y2="710.6" stroke="#BEBEBE" stroke-width="1.67"/>
<line x1="345.9" y1="713.4" x2="356.0" y2="710.6" stroke="#E0E0E0" stroke-width="0.79"/>
<line x1="345.9" y1="713.4" x2="347.2" y2="725.2" stroke="#8C8C8C" stroke-width="2.20"/>
<line x1="345.9" y1="713.4" x2="347.2" y2="725.2" stroke="#BEBEBE" stroke-width="1.67"/>
<line x1="345.9" y1="713.4" x2="347.2" y2="725.2" stroke="#E0E0E0" stroke-width="0.79"/>
<line x1="356.0" y1="710.6" x2="355.6" y2="703.5" stroke="#8C8C8C" stroke-width="2.20"/>
<line x1="356.0" y1="710.6" x2="355.6" y2="703.5" stroke="#BEBEBE" stroke-width="1.67"/>
<line x1="356.0" y1="710.6" x2="355.6" y2="703.5" stroke="#E0E0E0" stroke-width="0.79"/>
<line x1="310.6" y1="762.2" x2="320.9" y2="766.9" stroke="#8C8C8C" stroke-width="2.20"/>
<line x1="310.6" y1="762.2" x2="320.9" y2="766.9" stroke="#BEBEBE" stroke-width="1.67"/>
<line x1="310.6" y1="762.2" x2="320.9" y2="766.9" stroke="#E0E0E0" stroke-width="0.79"/>
<line x1="331.2" y1="761.6" x2="320.9" y2="766.9" stroke="#8C8C8C" stroke-width="2.20"/>
<line x1="331.2" y1="761.6" x2="320.9" y2="766.9" stroke="#BEBEBE" stroke-width="1.67"/>
<line x1="331.2" y1="761.6" x2="320.9" y2="766.9" stroke="#E0E0E0" stroke-width="0.79"/>
<line x1="320.9" y1="766.9" x2="321.5" y2="777.2" stroke="#8C8C8C" stroke-width="2.20"/>
<line x1="320.9" y1="766.9" x2="321.5" y2="777.2" stroke="#BEBEBE" stroke-width="1.67"/>
<line x1="320.9" y1="766.9" x2="321.5" y2="777.2" stroke="#E0E0E0" stroke-width="0.79"/>
<line x1="321.5" y1="777.2" x2="315.3" y2="778.5" stroke="#8C8C8C" stroke-width="2.20"/>
<line x1="321.5" y1="777.2" x2="315.3" y2="778.5" stroke="#BEBEBE" stroke-width="1.67"/>
<line x1="321.5" y1="777.2" x2="315.3" y2="778.5" stroke="#E0E0E0" stroke-width="0.79"/>
<line x1="321.5" y1="777.2" x2="327.5" y2="781.9" stroke="#8C8C8C" stroke-width="2.20"/>
<line x1="321.5" y1="777.2" x2="327.5" y2="781.9" stroke="#BEBEBE" stroke-width="1.67"/>
<line x1="321.5" y1="777.2" x2="327.5" y2="781.9" stroke="#E0E0E0" stroke-width="0.79"/>
<circle cx="311.6" cy="710.6" r="1.80" fill="url(#gH)"/>
<circle cx="309.7" cy="719.1" r="3.05" fill="url(#gC)"/>
<circle cx="305.0" cy="720.4" r="1.80" fill="url(#gH)"/>
<circle cx="320.0" cy="724.7" r="3.00" fill="url(#gN)"/>
<circle cx="320.4" cy="735.0" r="3.05" fill="url(#gC)"/>
<circle cx="311.6" cy="740.2" r="3.00" fill="url(#gN)"/>
<circle cx="305.0" cy="738.4" r="1.80" fill="url(#gH)"/>
<circle cx="329.8" cy="739.7" r="3.00" fill="url(#gN)"/>
<circle cx="335.4" cy="709.7" r="3.10" fill="url(#gO)"/>
<circle cx="349.0" cy="706.0" r="3.10" fill="url(#gO)"/>
<circle cx="345.9" cy="713.4" r="3.75" fill="url(#gS)"/>
<circle cx="356.0" cy="710.6" r="3.10" fill="url(#gO)"/>
<circle cx="355.6" cy="703.5" r="1.80" fill="url(#gH)"/>
<circle cx="347.2" cy="725.2" r="3.10" fill="url(#gO)"/>
<circle cx="310.6" cy="762.2" r="3.10" fill="url(#gO)"/>
<circle cx="331.2" cy="761.6" r="3.10" fill="url(#gO)"/>
<circle cx="320.9" cy="766.9" r="3.75" fill="url(#gS)"/>
<circle cx="321.5" cy="777.2" r="3.10" fill="url(#gO)"/>
<circle cx="315.3" cy="778.5" r="1.80" fill="url(#gH)"/>
<circle cx="327.5" cy="781.9" r="1.80" fill="url(#gH)"/>
<line x1="388.7" y1="746.2" x2="388.4" y2="759.0" stroke="#E2A4A4" stroke-width="1.1"/>
<line x1="389.0" y1="736.9" x2="388.7" y2="746.2" stroke="#B4B4B4" stroke-width="2.1"/>
<line x1="389.0" y1="736.9" x2="388.7" y2="746.2" stroke="#E6E6E6" stroke-width="1.0"/>
<circle cx="388.7" cy="746.2" r="1.5" fill="url(#gH)"/>
<line x1="408.0" y1="745.0" x2="409.0" y2="757.5" stroke="#E2A4A4" stroke-width="1.1"/>
<line x1="407.2" y1="736.0" x2="408.0" y2="745.0" stroke="#B4B4B4" stroke-width="2.1"/>
<line x1="407.2" y1="736.0" x2="408.0" y2="745.0" stroke="#E6E6E6" stroke-width="1.0"/>
<circle cx="408.0" cy="745.0" r="1.5" fill="url(#gH)"/>
<line x1="404.0" y1="714.9" x2="413.4" y2="706.5" stroke="#E2A4A4" stroke-width="1.1"/>
<line x1="397.2" y1="720.9" x2="404.0" y2="714.9" stroke="#B4B4B4" stroke-width="2.1"/>
<line x1="397.2" y1="720.9" x2="404.0" y2="714.9" stroke="#E6E6E6" stroke-width="1.0"/>
<circle cx="404.0" cy="714.9" r="1.5" fill="url(#gH)"/>
<line x1="414.7" y1="730.1" x2="425.0" y2="721.9" stroke="#E2A4A4" stroke-width="1.1"/>
<line x1="407.2" y1="736.0" x2="414.7" y2="730.1" stroke="#B4B4B4" stroke-width="2.1"/>
<line x1="407.2" y1="736.0" x2="414.7" y2="730.1" stroke="#E6E6E6" stroke-width="1.0"/>
<circle cx="414.7" cy="730.1" r="1.5" fill="url(#gH)"/>
<line x1="388.4" y1="707.8" x2="387.5" y2="716.2" stroke="#8C8C8C" stroke-width="2.20"/>
<line x1="388.4" y1="707.8" x2="387.5" y2="716.2" stroke="#BEBEBE" stroke-width="1.67"/>
<line x1="388.4" y1="707.8" x2="387.5" y2="716.2" stroke="#E0E0E0" stroke-width="0.79"/>
<line x1="387.5" y1="716.2" x2="382.8" y2="717.8" stroke="#8C8C8C" stroke-width="2.20"/>
<line x1="387.5" y1="716.2" x2="382.8" y2="717.8" stroke="#BEBEBE" stroke-width="1.67"/>
<line x1="387.5" y1="716.2" x2="382.8" y2="717.8" stroke="#E0E0E0" stroke-width="0.79"/>
<line x1="387.5" y1="716.2" x2="397.2" y2="720.9" stroke="#8C8C8C" stroke-width="2.20"/>
<line x1="387.5" y1="716.2" x2="397.2" y2="720.9" stroke="#BEBEBE" stroke-width="1.67"/>
<line x1="387.5" y1="716.2" x2="397.2" y2="720.9" stroke="#E0E0E0" stroke-width="0.79"/>
<line x1="397.2" y1="720.9" x2="397.8" y2="731.2" stroke="#8C8C8C" stroke-width="2.20"/>
<line x1="397.2" y1="720.9" x2="397.8" y2="731.2" stroke="#BEBEBE" stroke-width="1.67"/>
<line x1="397.2" y1="720.9" x2="397.8" y2="731.2" stroke="#E0E0E0" stroke-width="0.79"/>
<line x1="397.8" y1="731.2" x2="389.0" y2="736.9" stroke="#8C8C8C" stroke-width="2.20"/>
<line x1="397.8" y1="731.2" x2="389.0" y2="736.9" stroke="#BEBEBE" stroke-width="1.67"/>
<line x1="397.8" y1="731.2" x2="389.0" y2="736.9" stroke="#E0E0E0" stroke-width="0.79"/>
<line x1="397.8" y1="731.2" x2="407.2" y2="736.0" stroke="#8C8C8C" stroke-width="2.20"/>
<line x1="397.8" y1="731.2" x2="407.2" y2="736.0" stroke="#BEBEBE" stroke-width="1.67"/>
<line x1="397.8" y1="731.2" x2="407.2" y2="736.0" stroke="#E0E0E0" stroke-width="0.79"/>
<line x1="389.0" y1="736.9" x2="383.4" y2="734.6" stroke="#8C8C8C" stroke-width="2.20"/>
<line x1="389.0" y1="736.9" x2="383.4" y2="734.6" stroke="#BEBEBE" stroke-width="1.67"/>
<line x1="389.0" y1="736.9" x2="383.4" y2="734.6" stroke="#E0E0E0" stroke-width="0.79"/>
<line x1="413.4" y1="706.5" x2="424.0" y2="709.1" stroke="#8C8C8C" stroke-width="2.20"/>
<line x1="413.4" y1="706.5" x2="424.0" y2="709.1" stroke="#BEBEBE" stroke-width="1.67"/>
<line x1="413.4" y1="706.5" x2="424.0" y2="709.1" stroke="#E0E0E0" stroke-width="0.79"/>
<line x1="426.9" y1="702.2" x2="424.0" y2="709.1" stroke="#8C8C8C" stroke-width="2.20"/>
<line x1="426.9" y1="702.2" x2="424.0" y2="709.1" stroke="#BEBEBE" stroke-width="1.67"/>
<line x1="426.9" y1="702.2" x2="424.0" y2="709.1" stroke="#E0E0E0" stroke-width="0.79"/>
<line x1="426.9" y1="702.2" x2="433.4" y2="700.3" stroke="#8C8C8C" stroke-width="2.20"/>
<line x1="426.9" y1="702.2" x2="433.4" y2="700.3" stroke="#BEBEBE" stroke-width="1.67"/>
<line x1="426.9" y1="702.2" x2="433.4" y2="700.3" stroke="#E0E0E0" stroke-width="0.79"/>
<line x1="424.0" y1="709.1" x2="434.0" y2="706.9" stroke="#8C8C8C" stroke-width="2.20"/>
<line x1="424.0" y1="709.1" x2="434.0" y2="706.9" stroke="#BEBEBE" stroke-width="1.67"/>
<line x1="424.0" y1="709.1" x2="434.0" y2="706.9" stroke="#E0E0E0" stroke-width="0.79"/>
<line x1="424.0" y1="709.1" x2="425.0" y2="721.9" stroke="#8C8C8C" stroke-width="2.20"/>
<line x1="424.0" y1="709.1" x2="425.0" y2="721.9" stroke="#BEBEBE" stroke-width="1.67"/>
<line x1="424.0" y1="709.1" x2="425.0" y2="721.9" stroke="#E0E0E0" stroke-width="0.79"/>
<line x1="434.0" y1="706.9" x2="433.4" y2="700.3" stroke="#8C8C8C" stroke-width="2.20"/>
<line x1="434.0" y1="706.9" x2="433.4" y2="700.3" stroke="#BEBEBE" stroke-width="1.67"/>
<line x1="434.0" y1="706.9" x2="433.4" y2="700.3" stroke="#E0E0E0" stroke-width="0.79"/>
<line x1="388.4" y1="759.0" x2="398.8" y2="764.0" stroke="#8C8C8C" stroke-width="2.20"/>
<line x1="388.4" y1="759.0" x2="398.8" y2="764.0" stroke="#BEBEBE" stroke-width="1.67"/>
<line x1="388.4" y1="759.0" x2="398.8" y2="764.0" stroke="#E0E0E0" stroke-width="0.79"/>
<line x1="409.0" y1="757.5" x2="398.8" y2="764.0" stroke="#8C8C8C" stroke-width="2.20"/>
<line x1="409.0" y1="757.5" x2="398.8" y2="764.0" stroke="#BEBEBE" stroke-width="1.67"/>
<line x1="409.0" y1="757.5" x2="398.8" y2="764.0" stroke="#E0E0E0" stroke-width="0.79"/>
<line x1="398.8" y1="764.0" x2="399.7" y2="772.5" stroke="#8C8C8C" stroke-width="2.20"/>
<line x1="398.8" y1="764.0" x2="399.7" y2="772.5" stroke="#BEBEBE" stroke-width="1.67"/>
<line x1="398.8" y1="764.0" x2="399.7" y2="772.5" stroke="#E0E0E0" stroke-width="0.79"/>
<line x1="399.7" y1="772.5" x2="394.0" y2="775.3" stroke="#8C8C8C" stroke-width="2.20"/>
<line x1="399.7" y1="772.5" x2="394.0" y2="775.3" stroke="#BEBEBE" stroke-width="1.67"/>
<line x1="399.7" y1="772.5" x2="394.0" y2="775.3" stroke="#E0E0E0" stroke-width="0.79"/>
<line x1="399.7" y1="772.5" x2="405.3" y2="777.2" stroke="#8C8C8C" stroke-width="2.20"/>
<line x1="399.7" y1="772.5" x2="405.3" y2="777.2" stroke="#BEBEBE" stroke-width="1.67"/>
<line x1="399.7" y1="772.5" x2="405.3" y2="777.2" stroke="#E0E0E0" stroke-width="0.79"/>
<circle cx="388.4" cy="707.8" r="1.80" fill="url(#gH)"/>
<circle cx="387.5" cy="716.2" r="3.05" fill="url(#gC)"/>
<circle cx="382.8" cy="717.8" r="1.80" fill="url(#gH)"/>
<circle cx="397.2" cy="720.9" r="3.00" fill="url(#gN)"/>
<circle cx="397.8" cy="731.2" r="3.05" fill="url(#gC)"/>
<circle cx="389.0" cy="736.9" r="3.00" fill="url(#gN)"/>
<circle cx="383.4" cy="734.6" r="1.80" fill="url(#gH)"/>
<circle cx="407.2" cy="736.0" r="3.00" fill="url(#gN)"/>
<circle cx="413.4" cy="706.5" r="3.10" fill="url(#gO)"/>
<circle cx="426.9" cy="702.2" r="3.10" fill="url(#gO)"/>
<circle cx="424.0" cy="709.1" r="3.75" fill="url(#gS)"/>
<circle cx="434.0" cy="706.9" r="3.10" fill="url(#gO)"/>
<circle cx="433.4" cy="700.3" r="1.80" fill="url(#gH)"/>
<circle cx="425.0" cy="721.9" r="3.10" fill="url(#gO)"/>
<circle cx="388.4" cy="759.0" r="3.10" fill="url(#gO)"/>
<circle cx="409.0" cy="757.5" r="3.10" fill="url(#gO)"/>
<circle cx="398.8" cy="764.0" r="3.75" fill="url(#gS)"/>
<circle cx="399.7" cy="772.5" r="3.10" fill="url(#gO)"/>
<circle cx="394.0" cy="775.3" r="1.80" fill="url(#gH)"/>
<circle cx="405.3" cy="777.2" r="1.80" fill="url(#gH)"/>
</svg>
</body></html>
